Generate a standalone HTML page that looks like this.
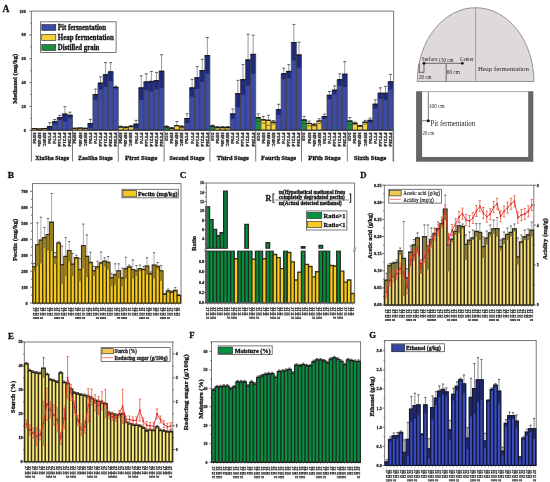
<!DOCTYPE html>
<html><head><meta charset="utf-8"><style>
html,body{margin:0;padding:0;background:#fff;width:550px;height:482px;overflow:hidden}
</style></head><body>
<svg width="550" height="482" viewBox="0 0 550 482" style="display:block;will-change:transform" font-family="Liberation Serif, serif" font-weight="bold" fill="#111">
<rect width="550" height="482" fill="#fff"/>
<text x="2.6" y="11.6" font-size="9.6" textLength="7" lengthAdjust="spacingAndGlyphs" stroke="#111" stroke-width="0.28">A</text>
<path fill="none" stroke="#6a6a6a" stroke-width="0.9" d="M31.4 11.1H393.6M31.4 11.1V161.5M393.6 11.1V161.5"/>
<path fill="none" stroke="#333" stroke-width="0.7" d="M31.4 130.2H29.3M31.4 106.4H29.3M31.4 82.6H29.3M31.4 58.8H29.3M31.4 35H29.3M31.4 11.2H29.3M31.4 118.3H30.3M31.4 94.5H30.3M31.4 70.7H30.3M31.4 46.9H30.3M31.4 23.1H30.3"/>
<text x="25.8" y="131.6" font-size="4.2" text-anchor="end" fill="#2a2a2a" textLength="2.1" lengthAdjust="spacingAndGlyphs" stroke="#2a2a2a" stroke-width="0.28">0</text>
<text x="25.8" y="107.8" font-size="4.2" text-anchor="end" fill="#2a2a2a" textLength="4.2" lengthAdjust="spacingAndGlyphs" stroke="#2a2a2a" stroke-width="0.28">20</text>
<text x="25.8" y="84" font-size="4.2" text-anchor="end" fill="#2a2a2a" textLength="4.2" lengthAdjust="spacingAndGlyphs" stroke="#2a2a2a" stroke-width="0.28">40</text>
<text x="25.8" y="60.2" font-size="4.2" text-anchor="end" fill="#2a2a2a" textLength="4.2" lengthAdjust="spacingAndGlyphs" stroke="#2a2a2a" stroke-width="0.28">60</text>
<text x="25.8" y="36.4" font-size="4.2" text-anchor="end" fill="#2a2a2a" textLength="4.2" lengthAdjust="spacingAndGlyphs" stroke="#2a2a2a" stroke-width="0.28">80</text>
<text x="25.8" y="12.6" font-size="4.2" text-anchor="end" fill="#2a2a2a" textLength="6.3" lengthAdjust="spacingAndGlyphs" stroke="#2a2a2a" stroke-width="0.28">100</text>
<text x="17" y="78.8" font-size="6.6" text-anchor="middle" transform="rotate(-90 17 78.8)" textLength="50" lengthAdjust="spacingAndGlyphs" stroke="#111" stroke-width="0.28">Methanol (mg/kg)</text>
<rect x="40.6" y="21.8" width="75.5" height="30.7" fill="#fff" stroke="#555" stroke-width=".8"/>
<rect x="41.8" y="24.6" width="14" height="5.8" fill="#3b4ba6" stroke="#222" stroke-width=".6"/>
<text x="57.8" y="29.7" font-size="7.2" textLength="48.3" lengthAdjust="spacingAndGlyphs" stroke="#111" stroke-width="0.28">Pit fermentation</text>
<rect x="41.8" y="34.6" width="14" height="5.8" fill="#f4d23c" stroke="#222" stroke-width=".6"/>
<text x="57.8" y="39.7" font-size="7.2" textLength="56" lengthAdjust="spacingAndGlyphs" stroke="#111" stroke-width="0.28">Heap fermentation</text>
<rect x="41.8" y="44.6" width="14" height="5.8" fill="#1c8d40" stroke="#222" stroke-width=".6"/>
<text x="57.8" y="49.7" font-size="7.2" textLength="41.6" lengthAdjust="spacingAndGlyphs" stroke="#111" stroke-width="0.28">Distilled grain</text>
<path fill="#f4d23c" stroke="#4a4444" stroke-width="0.7" d="M31.8 128.53h5.09v1.67h-5.09zM36.89 129.01h5.09v1.19h-5.09zM41.98 128.53h5.09v1.67h-5.09zM72.51 128.3h5.09v1.9h-5.09zM77.6 128.06h5.09v2.14h-5.09zM82.69 128.3h5.09v1.9h-5.09zM118.31 126.87h5.09v3.33h-5.09zM123.4 127.34h5.09v2.86h-5.09zM128.49 126.39h5.09v3.81h-5.09zM169.2 128.18h5.09v2.02h-5.09zM174.28 125.68h5.09v4.52h-5.09zM179.37 126.87h5.09v3.33h-5.09zM214.99 127.34h5.09v2.86h-5.09zM220.08 127.34h5.09v2.86h-5.09zM225.17 127.34h5.09v2.86h-5.09zM260.79 119.85h5.09v10.35h-5.09zM265.88 120.32h5.09v9.88h-5.09zM270.97 122.23h5.09v7.97h-5.09zM306.59 123.42h5.09v6.78h-5.09zM311.68 124.84h5.09v5.36h-5.09zM316.77 121.04h5.09v9.16h-5.09zM352.39 123.3h5.09v6.9h-5.09zM357.48 125.92h5.09v4.28h-5.09zM362.57 122.23h5.09v7.97h-5.09z"/>
<path fill="#3b4ba6" stroke="#4a4444" stroke-width="0.7" d="M47.07 126.63h5.09v3.57h-5.09zM52.15 121.87h5.09v8.33h-5.09zM57.24 117.7h5.09v12.5h-5.09zM62.33 114.13h5.09v16.06h-5.09zM67.42 115.32h5.09v14.88h-5.09zM87.78 123.65h5.09v6.55h-5.09zM92.86 94.5h5.09v35.7h-5.09zM97.95 83.19h5.09v47h-5.09zM103.04 74.86h5.09v55.34h-5.09zM108.13 71.89h5.09v58.31h-5.09zM113.22 87.36h5.09v42.84h-5.09zM133.57 124.25h5.09v5.95h-5.09zM138.66 87.95h5.09v42.25h-5.09zM143.75 82h5.09v48.19h-5.09zM148.84 81.41h5.09v48.79h-5.09zM153.93 80.81h5.09v49.38h-5.09zM159.02 71.29h5.09v58.91h-5.09zM184.46 118.54h5.09v11.66h-5.09zM189.55 87.95h5.09v42.25h-5.09zM194.64 77.84h5.09v52.36h-5.09zM199.73 70.7h5.09v59.5h-5.09zM204.82 55.59h5.09v74.61h-5.09zM230.26 114.02h5.09v16.18h-5.09zM235.35 93.79h5.09v36.41h-5.09zM240.44 79.74h5.09v50.46h-5.09zM245.53 59.99h5.09v70.21h-5.09zM250.62 54.4h5.09v75.8h-5.09zM276.06 109.61h5.09v20.59h-5.09zM281.15 73.79h5.09v56.41h-5.09zM286.24 71.41h5.09v58.79h-5.09zM291.33 42.5h5.09v87.7h-5.09zM296.41 54.99h5.09v75.21h-5.09zM321.86 116.51h5.09v13.69h-5.09zM326.95 95.33h5.09v34.87h-5.09zM332.04 90.22h5.09v39.98h-5.09zM337.12 79.74h5.09v50.46h-5.09zM342.21 74.27h5.09v55.93h-5.09zM367.66 120.32h5.09v9.88h-5.09zM372.75 104.26h5.09v25.94h-5.09zM377.83 93.31h5.09v36.89h-5.09zM382.92 93.31h5.09v36.89h-5.09zM388.01 81.89h5.09v48.31h-5.09z"/>
<path fill="#1c8d40" stroke="#4a4444" stroke-width="0.7" d="M164.11 126.87h5.09v3.33h-5.09zM209.91 126.15h5.09v4.05h-5.09zM255.7 117.7h5.09v12.5h-5.09zM301.5 119.97h5.09v10.23h-5.09zM347.3 121.04h5.09v9.16h-5.09z"/>
<path fill="none" stroke="#6e6e6e" stroke-width="0.7" d="M49.61 126.63V122.7M54.7 121.87V119.49M59.79 117.7V115.32M64.88 114.13V106.64M69.97 115.32V112.23M90.32 123.65V119.37M95.41 94.5V89.14M100.5 83.19V76.89M105.59 74.86V62.61M110.68 71.89V62.61M115.76 87.36V86.17M120.85 126.87V126.15M125.94 127.34V126.63M131.03 126.39V125.68M136.12 124.25V120.32M141.21 87.95V75.82M146.3 82V73.79M151.39 81.41V71.41M156.47 80.81V72.37M161.56 71.29V54.75M166.65 126.87V125.92M171.74 128.18V127.7M176.83 125.68V121.51M181.92 126.87V125.68M187.01 118.54V113.78M192.1 87.95V79.27M197.18 77.84V66.65M202.27 70.7V59.28M207.36 55.59V37.5M212.45 126.15V125.2M217.54 127.34V126.63M222.63 127.34V126.63M227.72 127.34V126.63M232.8 114.02V109.02M237.89 93.79V80.34M242.98 79.74V64.63M248.07 59.99V34.29M253.16 54.4V35.12M258.25 117.7V113.9M263.34 119.85V116.51M268.43 120.32V115.32M273.51 122.23V120.56M278.6 109.61V104.26M283.69 73.79V68.32M288.78 71.41V64.63M293.87 42.5V24.41M298.96 54.99V42.14M304.05 119.97V116.4M309.14 123.42V121.04M314.22 124.84V123.65M319.31 121.04V118.66M324.4 116.51V114.13M329.49 95.33V91.52M334.58 90.22V85.93M339.67 79.74V73.79M344.76 74.27V61.66M349.85 121.04V117.47M354.93 123.3V122.11M360.02 125.92V125.32M365.11 122.23V120.44M370.2 120.32V118.06M375.29 104.26V99.85M380.38 93.31V87.84M385.47 93.31V86.41M390.56 81.89V74.39"/>
<path fill="none" stroke="#222" stroke-width="0.7" d="M48.11 122.7H51.11M53.2 119.49H56.2M58.29 115.32H61.29M63.38 106.64H66.38M68.47 112.23H71.47M88.82 119.37H91.82M93.91 89.14H96.91M99 76.89H102M104.09 62.61H107.09M109.18 62.61H112.18M114.26 86.17H117.26M119.35 126.15H122.35M124.44 126.63H127.44M129.53 125.68H132.53M134.62 120.32H137.62M139.71 75.82H142.71M144.8 73.79H147.8M149.89 71.41H152.89M154.97 72.37H157.97M160.06 54.75H163.06M165.15 125.92H168.15M170.24 127.7H173.24M175.33 121.51H178.33M180.42 125.68H183.42M185.51 113.78H188.51M190.6 79.27H193.6M195.68 66.65H198.68M200.77 59.28H203.77M205.86 37.5H208.86M210.95 125.2H213.95M216.04 126.63H219.04M221.13 126.63H224.13M226.22 126.63H229.22M231.3 109.02H234.3M236.39 80.34H239.39M241.48 64.63H244.48M246.57 34.29H249.57M251.66 35.12H254.66M256.75 113.9H259.75M261.84 116.51H264.84M266.93 115.32H269.93M272.01 120.56H275.01M277.1 104.26H280.1M282.19 68.32H285.19M287.28 64.63H290.28M292.37 24.41H295.37M297.46 42.14H300.46M302.55 116.4H305.55M307.64 121.04H310.64M312.72 123.65H315.72M317.81 118.66H320.81M322.9 114.13H325.9M327.99 91.52H330.99M333.08 85.93H336.08M338.17 73.79H341.17M343.26 61.66H346.26M348.35 117.47H351.35M353.43 122.11H356.43M358.52 125.32H361.52M363.61 120.44H366.61M368.7 118.06H371.7M373.79 99.85H376.79M378.88 87.84H381.88M383.97 86.41H386.97M389.06 74.39H392.06"/>
<path fill="none" stroke="#1a1a1a" stroke-width="0.8" d="M31.8 128.53H36.89M36.89 129.01H41.98M41.98 128.53H47.07M47.07 126.63H52.15M52.15 121.87H57.24M57.24 117.7H62.33M62.33 114.13H67.42M67.42 115.32H72.51M72.51 128.3H77.6M77.6 128.06H82.69M82.69 128.3H87.78M87.78 123.65H92.86M92.86 94.5H97.95M97.95 83.19H103.04M103.04 74.86H108.13M108.13 71.89H113.22M113.22 87.36H118.31M118.31 126.87H123.4M123.4 127.34H128.49M128.49 126.39H133.57M133.57 124.25H138.66M138.66 87.95H143.75M143.75 82H148.84M148.84 81.41H153.93M153.93 80.81H159.02M159.02 71.29H164.11M164.11 126.87H169.2M169.2 128.18H174.28M174.28 125.68H179.37M179.37 126.87H184.46M184.46 118.54H189.55M189.55 87.95H194.64M194.64 77.84H199.73M199.73 70.7H204.82M204.82 55.59H209.91M209.91 126.15H214.99M214.99 127.34H220.08M220.08 127.34H225.17M225.17 127.34H230.26M230.26 114.02H235.35M235.35 93.79H240.44M240.44 79.74H245.53M245.53 59.99H250.62M250.62 54.4H255.7M255.7 117.7H260.79M260.79 119.85H265.88M265.88 120.32H270.97M270.97 122.23H276.06M276.06 109.61H281.15M281.15 73.79H286.24M286.24 71.41H291.33M291.33 42.5H296.41M296.41 54.99H301.5M301.5 119.97H306.59M306.59 123.42H311.68M311.68 124.84H316.77M316.77 121.04H321.86M321.86 116.51H326.95M326.95 95.33H332.04M332.04 90.22H337.12M337.12 79.74H342.21M342.21 74.27H347.3M347.3 121.04H352.39M352.39 123.3H357.48M357.48 125.92H362.57M362.57 122.23H367.66M367.66 120.32H372.75M372.75 104.26H377.83M377.83 93.31H382.92M382.92 93.31H388.01M388.01 81.89H393.1"/>
<path fill="none" stroke="#333" stroke-width="0.6" d="M119.11 127.58H122.6M124.2 128.06H127.69M129.29 127.11H132.77M164.91 127.82H168.4M170 128.65H173.48M175.08 129.84H178.57M180.17 128.06H183.66M210.71 127.11H214.19M215.79 128.06H219.28M220.88 128.06H224.37M225.97 128.06H229.46M256.5 121.51H259.99M261.59 123.18H265.08M266.68 125.32H270.17M271.77 123.89H275.26M302.3 123.54H305.79M307.39 125.8H310.88M312.48 126.03H315.97M317.57 123.42H321.06M348.1 124.61H351.59M353.19 124.49H356.68M358.28 126.51H361.77M363.37 124.01H366.86"/>
<path fill="#1f2b78" d="M47.47 126.63h4.29v3.57h-4.29zM52.55 121.87h4.29v2.38h-4.29zM57.64 117.7h4.29v2.38h-4.29zM62.73 114.13h4.29v7.5h-4.29zM67.82 115.32h4.29v3.09h-4.29zM88.18 123.65h4.29v4.28h-4.29zM93.26 94.5h4.29v5.35h-4.29zM98.35 83.19h4.29v6.31h-4.29zM103.44 74.86h4.29v12.26h-4.29zM108.53 71.89h4.29v9.28h-4.29zM113.62 87.36h4.29v1.19h-4.29zM133.97 124.25h4.29v3.93h-4.29zM139.06 87.95h4.29v12.14h-4.29zM144.15 82h4.29v8.21h-4.29zM149.24 81.41h4.29v10h-4.29zM154.33 80.81h4.29v8.45h-4.29zM159.42 71.29h4.29v16.54h-4.29zM184.86 118.54h4.29v4.76h-4.29zM189.95 87.95h4.29v8.69h-4.29zM195.04 77.84h4.29v11.19h-4.29zM200.13 70.7h4.29v11.42h-4.29zM205.22 55.59h4.29v18.09h-4.29zM230.66 114.02h4.29v5h-4.29zM235.75 93.79h4.29v13.45h-4.29zM240.84 79.74h4.29v15.11h-4.29zM245.93 59.99h4.29v25.7h-4.29zM251.02 54.4h4.29v19.28h-4.29zM276.46 109.61h4.29v5.35h-4.29zM281.55 73.79h4.29v5.47h-4.29zM286.64 71.41h4.29v6.78h-4.29zM291.73 42.5h4.29v18.09h-4.29zM296.81 54.99h4.29v12.85h-4.29zM322.26 116.51h4.29v2.38h-4.29zM327.35 95.33h4.29v3.81h-4.29zM332.44 90.22h4.29v4.28h-4.29zM337.52 79.74h4.29v5.95h-4.29zM342.61 74.27h4.29v12.61h-4.29zM368.06 120.32h4.29v2.26h-4.29zM373.15 104.26h4.29v4.4h-4.29zM378.23 93.31h4.29v5.47h-4.29zM383.32 93.31h4.29v6.9h-4.29zM388.41 81.89h4.29v7.5h-4.29z"/>
<path fill="none" stroke="#111" stroke-width="0.8" d="M31.8 128.53H36.89M36.89 129.01H41.98M41.98 128.53H47.07M47.07 126.63H52.15M52.15 121.87H57.24M57.24 117.7H62.33M62.33 114.13H67.42M67.42 115.32H72.51M72.51 128.3H77.6M77.6 128.06H82.69M82.69 128.3H87.78M87.78 123.65H92.86M92.86 94.5H97.95M97.95 83.19H103.04M103.04 74.86H108.13M108.13 71.89H113.22M113.22 87.36H118.31M118.31 126.87H123.4M123.4 127.34H128.49M128.49 126.39H133.57M133.57 124.25H138.66M138.66 87.95H143.75M143.75 82H148.84M148.84 81.41H153.93M153.93 80.81H159.02M159.02 71.29H164.11M164.11 126.87H169.2M169.2 128.18H174.28M174.28 125.68H179.37M179.37 126.87H184.46M184.46 118.54H189.55M189.55 87.95H194.64M194.64 77.84H199.73M199.73 70.7H204.82M204.82 55.59H209.91M209.91 126.15H214.99M214.99 127.34H220.08M220.08 127.34H225.17M225.17 127.34H230.26M230.26 114.02H235.35M235.35 93.79H240.44M240.44 79.74H245.53M245.53 59.99H250.62M250.62 54.4H255.7M255.7 117.7H260.79M260.79 119.85H265.88M265.88 120.32H270.97M270.97 122.23H276.06M276.06 109.61H281.15M281.15 73.79H286.24M286.24 71.41H291.33M291.33 42.5H296.41M296.41 54.99H301.5M301.5 119.97H306.59M306.59 123.42H311.68M311.68 124.84H316.77M316.77 121.04H321.86M321.86 116.51H326.95M326.95 95.33H332.04M332.04 90.22H337.12M337.12 79.74H342.21M342.21 74.27H347.3M347.3 121.04H352.39M352.39 123.3H357.48M357.48 125.92H362.57M362.57 122.23H367.66M367.66 120.32H372.75M372.75 104.26H377.83M377.83 93.31H382.92M382.92 93.31H388.01M388.01 81.89H393.1"/>
<path fill="none" stroke="#222" stroke-width="0.9" d="M31.4 130.2H393.6"/>
<text x="32.74" y="132.4" font-size="4.8" fill="#2a2a2a" transform="rotate(90 32.74 132.4)" textLength="11.2" lengthAdjust="spacingAndGlyphs" stroke="#2a2a2a" stroke-width="0.28">HF0d</text>
<text x="37.83" y="132.4" font-size="4.8" fill="#2a2a2a" transform="rotate(90 37.83 132.4)" textLength="14" lengthAdjust="spacingAndGlyphs" stroke="#2a2a2a" stroke-width="0.28">HF40s</text>
<text x="42.92" y="132.4" font-size="4.8" fill="#2a2a2a" transform="rotate(90 42.92 132.4)" textLength="14" lengthAdjust="spacingAndGlyphs" stroke="#2a2a2a" stroke-width="0.28">HF40C</text>
<text x="48.01" y="132.4" font-size="4.8" fill="#2a2a2a" transform="rotate(90 48.01 132.4)" textLength="11.2" lengthAdjust="spacingAndGlyphs" stroke="#2a2a2a" stroke-width="0.28">PT0d</text>
<text x="53.1" y="132.4" font-size="4.8" fill="#2a2a2a" transform="rotate(90 53.1 132.4)" textLength="11.2" lengthAdjust="spacingAndGlyphs" stroke="#2a2a2a" stroke-width="0.28">PT7d</text>
<text x="58.19" y="132.4" font-size="4.8" fill="#2a2a2a" transform="rotate(90 58.19 132.4)" textLength="14" lengthAdjust="spacingAndGlyphs" stroke="#2a2a2a" stroke-width="0.28">PT14d</text>
<text x="63.28" y="132.4" font-size="4.8" fill="#2a2a2a" transform="rotate(90 63.28 132.4)" textLength="14" lengthAdjust="spacingAndGlyphs" stroke="#2a2a2a" stroke-width="0.28">PT21d</text>
<text x="68.37" y="132.4" font-size="4.8" fill="#2a2a2a" transform="rotate(90 68.37 132.4)" textLength="14" lengthAdjust="spacingAndGlyphs" stroke="#2a2a2a" stroke-width="0.28">PT28d</text>
<text x="73.45" y="132.4" font-size="4.8" fill="#2a2a2a" transform="rotate(90 73.45 132.4)" textLength="11.2" lengthAdjust="spacingAndGlyphs" stroke="#2a2a2a" stroke-width="0.28">HF0d</text>
<text x="78.54" y="132.4" font-size="4.8" fill="#2a2a2a" transform="rotate(90 78.54 132.4)" textLength="14" lengthAdjust="spacingAndGlyphs" stroke="#2a2a2a" stroke-width="0.28">HF40s</text>
<text x="83.63" y="132.4" font-size="4.8" fill="#2a2a2a" transform="rotate(90 83.63 132.4)" textLength="14" lengthAdjust="spacingAndGlyphs" stroke="#2a2a2a" stroke-width="0.28">HF40C</text>
<text x="88.72" y="132.4" font-size="4.8" fill="#2a2a2a" transform="rotate(90 88.72 132.4)" textLength="11.2" lengthAdjust="spacingAndGlyphs" stroke="#2a2a2a" stroke-width="0.28">PT0d</text>
<text x="93.81" y="132.4" font-size="4.8" fill="#2a2a2a" transform="rotate(90 93.81 132.4)" textLength="11.2" lengthAdjust="spacingAndGlyphs" stroke="#2a2a2a" stroke-width="0.28">PT7d</text>
<text x="98.9" y="132.4" font-size="4.8" fill="#2a2a2a" transform="rotate(90 98.9 132.4)" textLength="14" lengthAdjust="spacingAndGlyphs" stroke="#2a2a2a" stroke-width="0.28">PT14d</text>
<text x="103.99" y="132.4" font-size="4.8" fill="#2a2a2a" transform="rotate(90 103.99 132.4)" textLength="14" lengthAdjust="spacingAndGlyphs" stroke="#2a2a2a" stroke-width="0.28">PT21d</text>
<text x="109.08" y="132.4" font-size="4.8" fill="#2a2a2a" transform="rotate(90 109.08 132.4)" textLength="14" lengthAdjust="spacingAndGlyphs" stroke="#2a2a2a" stroke-width="0.28">PT28d</text>
<text x="114.16" y="132.4" font-size="4.8" fill="#2a2a2a" transform="rotate(90 114.16 132.4)" textLength="14" lengthAdjust="spacingAndGlyphs" stroke="#2a2a2a" stroke-width="0.28">PT36d</text>
<text x="119.25" y="132.4" font-size="4.8" fill="#2a2a2a" transform="rotate(90 119.25 132.4)" textLength="11.2" lengthAdjust="spacingAndGlyphs" stroke="#2a2a2a" stroke-width="0.28">HF0d</text>
<text x="124.34" y="132.4" font-size="4.8" fill="#2a2a2a" transform="rotate(90 124.34 132.4)" textLength="14" lengthAdjust="spacingAndGlyphs" stroke="#2a2a2a" stroke-width="0.28">HF40s</text>
<text x="129.43" y="132.4" font-size="4.8" fill="#2a2a2a" transform="rotate(90 129.43 132.4)" textLength="14" lengthAdjust="spacingAndGlyphs" stroke="#2a2a2a" stroke-width="0.28">HF40C</text>
<text x="134.52" y="132.4" font-size="4.8" fill="#2a2a2a" transform="rotate(90 134.52 132.4)" textLength="11.2" lengthAdjust="spacingAndGlyphs" stroke="#2a2a2a" stroke-width="0.28">PT0d</text>
<text x="139.61" y="132.4" font-size="4.8" fill="#2a2a2a" transform="rotate(90 139.61 132.4)" textLength="11.2" lengthAdjust="spacingAndGlyphs" stroke="#2a2a2a" stroke-width="0.28">PT7d</text>
<text x="144.7" y="132.4" font-size="4.8" fill="#2a2a2a" transform="rotate(90 144.7 132.4)" textLength="14" lengthAdjust="spacingAndGlyphs" stroke="#2a2a2a" stroke-width="0.28">PT14d</text>
<text x="149.79" y="132.4" font-size="4.8" fill="#2a2a2a" transform="rotate(90 149.79 132.4)" textLength="14" lengthAdjust="spacingAndGlyphs" stroke="#2a2a2a" stroke-width="0.28">PT21d</text>
<text x="154.87" y="132.4" font-size="4.8" fill="#2a2a2a" transform="rotate(90 154.87 132.4)" textLength="14" lengthAdjust="spacingAndGlyphs" stroke="#2a2a2a" stroke-width="0.28">PT28d</text>
<text x="159.96" y="132.4" font-size="4.8" fill="#2a2a2a" transform="rotate(90 159.96 132.4)" textLength="14" lengthAdjust="spacingAndGlyphs" stroke="#2a2a2a" stroke-width="0.28">PT36d</text>
<text x="165.05" y="132.4" font-size="4.8" fill="#2a2a2a" transform="rotate(90 165.05 132.4)" textLength="8.4" lengthAdjust="spacingAndGlyphs" stroke="#2a2a2a" stroke-width="0.28">DG0</text>
<text x="170.14" y="132.4" font-size="4.8" fill="#2a2a2a" transform="rotate(90 170.14 132.4)" textLength="11.2" lengthAdjust="spacingAndGlyphs" stroke="#2a2a2a" stroke-width="0.28">HF0d</text>
<text x="175.23" y="132.4" font-size="4.8" fill="#2a2a2a" transform="rotate(90 175.23 132.4)" textLength="14" lengthAdjust="spacingAndGlyphs" stroke="#2a2a2a" stroke-width="0.28">HF40s</text>
<text x="180.32" y="132.4" font-size="4.8" fill="#2a2a2a" transform="rotate(90 180.32 132.4)" textLength="14" lengthAdjust="spacingAndGlyphs" stroke="#2a2a2a" stroke-width="0.28">HF40C</text>
<text x="185.41" y="132.4" font-size="4.8" fill="#2a2a2a" transform="rotate(90 185.41 132.4)" textLength="11.2" lengthAdjust="spacingAndGlyphs" stroke="#2a2a2a" stroke-width="0.28">PT0d</text>
<text x="190.5" y="132.4" font-size="4.8" fill="#2a2a2a" transform="rotate(90 190.5 132.4)" textLength="11.2" lengthAdjust="spacingAndGlyphs" stroke="#2a2a2a" stroke-width="0.28">PT7d</text>
<text x="195.58" y="132.4" font-size="4.8" fill="#2a2a2a" transform="rotate(90 195.58 132.4)" textLength="14" lengthAdjust="spacingAndGlyphs" stroke="#2a2a2a" stroke-width="0.28">PT14d</text>
<text x="200.67" y="132.4" font-size="4.8" fill="#2a2a2a" transform="rotate(90 200.67 132.4)" textLength="14" lengthAdjust="spacingAndGlyphs" stroke="#2a2a2a" stroke-width="0.28">PT21d</text>
<text x="205.76" y="132.4" font-size="4.8" fill="#2a2a2a" transform="rotate(90 205.76 132.4)" textLength="14" lengthAdjust="spacingAndGlyphs" stroke="#2a2a2a" stroke-width="0.28">PT28d</text>
<text x="210.85" y="132.4" font-size="4.8" fill="#2a2a2a" transform="rotate(90 210.85 132.4)" textLength="8.4" lengthAdjust="spacingAndGlyphs" stroke="#2a2a2a" stroke-width="0.28">DG0</text>
<text x="215.94" y="132.4" font-size="4.8" fill="#2a2a2a" transform="rotate(90 215.94 132.4)" textLength="11.2" lengthAdjust="spacingAndGlyphs" stroke="#2a2a2a" stroke-width="0.28">HF0d</text>
<text x="221.03" y="132.4" font-size="4.8" fill="#2a2a2a" transform="rotate(90 221.03 132.4)" textLength="14" lengthAdjust="spacingAndGlyphs" stroke="#2a2a2a" stroke-width="0.28">HF40s</text>
<text x="226.12" y="132.4" font-size="4.8" fill="#2a2a2a" transform="rotate(90 226.12 132.4)" textLength="14" lengthAdjust="spacingAndGlyphs" stroke="#2a2a2a" stroke-width="0.28">HF40C</text>
<text x="231.2" y="132.4" font-size="4.8" fill="#2a2a2a" transform="rotate(90 231.2 132.4)" textLength="11.2" lengthAdjust="spacingAndGlyphs" stroke="#2a2a2a" stroke-width="0.28">PT0d</text>
<text x="236.29" y="132.4" font-size="4.8" fill="#2a2a2a" transform="rotate(90 236.29 132.4)" textLength="11.2" lengthAdjust="spacingAndGlyphs" stroke="#2a2a2a" stroke-width="0.28">PT7d</text>
<text x="241.38" y="132.4" font-size="4.8" fill="#2a2a2a" transform="rotate(90 241.38 132.4)" textLength="14" lengthAdjust="spacingAndGlyphs" stroke="#2a2a2a" stroke-width="0.28">PT14d</text>
<text x="246.47" y="132.4" font-size="4.8" fill="#2a2a2a" transform="rotate(90 246.47 132.4)" textLength="14" lengthAdjust="spacingAndGlyphs" stroke="#2a2a2a" stroke-width="0.28">PT21d</text>
<text x="251.56" y="132.4" font-size="4.8" fill="#2a2a2a" transform="rotate(90 251.56 132.4)" textLength="14" lengthAdjust="spacingAndGlyphs" stroke="#2a2a2a" stroke-width="0.28">PT28d</text>
<text x="256.65" y="132.4" font-size="4.8" fill="#2a2a2a" transform="rotate(90 256.65 132.4)" textLength="8.4" lengthAdjust="spacingAndGlyphs" stroke="#2a2a2a" stroke-width="0.28">DG0</text>
<text x="261.74" y="132.4" font-size="4.8" fill="#2a2a2a" transform="rotate(90 261.74 132.4)" textLength="11.2" lengthAdjust="spacingAndGlyphs" stroke="#2a2a2a" stroke-width="0.28">HF0d</text>
<text x="266.83" y="132.4" font-size="4.8" fill="#2a2a2a" transform="rotate(90 266.83 132.4)" textLength="14" lengthAdjust="spacingAndGlyphs" stroke="#2a2a2a" stroke-width="0.28">HF40s</text>
<text x="271.91" y="132.4" font-size="4.8" fill="#2a2a2a" transform="rotate(90 271.91 132.4)" textLength="14" lengthAdjust="spacingAndGlyphs" stroke="#2a2a2a" stroke-width="0.28">HF40C</text>
<text x="277" y="132.4" font-size="4.8" fill="#2a2a2a" transform="rotate(90 277 132.4)" textLength="11.2" lengthAdjust="spacingAndGlyphs" stroke="#2a2a2a" stroke-width="0.28">PT0d</text>
<text x="282.09" y="132.4" font-size="4.8" fill="#2a2a2a" transform="rotate(90 282.09 132.4)" textLength="11.2" lengthAdjust="spacingAndGlyphs" stroke="#2a2a2a" stroke-width="0.28">PT7d</text>
<text x="287.18" y="132.4" font-size="4.8" fill="#2a2a2a" transform="rotate(90 287.18 132.4)" textLength="14" lengthAdjust="spacingAndGlyphs" stroke="#2a2a2a" stroke-width="0.28">PT14d</text>
<text x="292.27" y="132.4" font-size="4.8" fill="#2a2a2a" transform="rotate(90 292.27 132.4)" textLength="14" lengthAdjust="spacingAndGlyphs" stroke="#2a2a2a" stroke-width="0.28">PT21d</text>
<text x="297.36" y="132.4" font-size="4.8" fill="#2a2a2a" transform="rotate(90 297.36 132.4)" textLength="14" lengthAdjust="spacingAndGlyphs" stroke="#2a2a2a" stroke-width="0.28">PT28d</text>
<text x="302.45" y="132.4" font-size="4.8" fill="#2a2a2a" transform="rotate(90 302.45 132.4)" textLength="8.4" lengthAdjust="spacingAndGlyphs" stroke="#2a2a2a" stroke-width="0.28">DG0</text>
<text x="307.54" y="132.4" font-size="4.8" fill="#2a2a2a" transform="rotate(90 307.54 132.4)" textLength="11.2" lengthAdjust="spacingAndGlyphs" stroke="#2a2a2a" stroke-width="0.28">HF0d</text>
<text x="312.62" y="132.4" font-size="4.8" fill="#2a2a2a" transform="rotate(90 312.62 132.4)" textLength="14" lengthAdjust="spacingAndGlyphs" stroke="#2a2a2a" stroke-width="0.28">HF40s</text>
<text x="317.71" y="132.4" font-size="4.8" fill="#2a2a2a" transform="rotate(90 317.71 132.4)" textLength="14" lengthAdjust="spacingAndGlyphs" stroke="#2a2a2a" stroke-width="0.28">HF40C</text>
<text x="322.8" y="132.4" font-size="4.8" fill="#2a2a2a" transform="rotate(90 322.8 132.4)" textLength="11.2" lengthAdjust="spacingAndGlyphs" stroke="#2a2a2a" stroke-width="0.28">PT0d</text>
<text x="327.89" y="132.4" font-size="4.8" fill="#2a2a2a" transform="rotate(90 327.89 132.4)" textLength="11.2" lengthAdjust="spacingAndGlyphs" stroke="#2a2a2a" stroke-width="0.28">PT7d</text>
<text x="332.98" y="132.4" font-size="4.8" fill="#2a2a2a" transform="rotate(90 332.98 132.4)" textLength="14" lengthAdjust="spacingAndGlyphs" stroke="#2a2a2a" stroke-width="0.28">PT14d</text>
<text x="338.07" y="132.4" font-size="4.8" fill="#2a2a2a" transform="rotate(90 338.07 132.4)" textLength="14" lengthAdjust="spacingAndGlyphs" stroke="#2a2a2a" stroke-width="0.28">PT21d</text>
<text x="343.16" y="132.4" font-size="4.8" fill="#2a2a2a" transform="rotate(90 343.16 132.4)" textLength="14" lengthAdjust="spacingAndGlyphs" stroke="#2a2a2a" stroke-width="0.28">PT28d</text>
<text x="348.25" y="132.4" font-size="4.8" fill="#2a2a2a" transform="rotate(90 348.25 132.4)" textLength="8.4" lengthAdjust="spacingAndGlyphs" stroke="#2a2a2a" stroke-width="0.28">DG0</text>
<text x="353.33" y="132.4" font-size="4.8" fill="#2a2a2a" transform="rotate(90 353.33 132.4)" textLength="11.2" lengthAdjust="spacingAndGlyphs" stroke="#2a2a2a" stroke-width="0.28">HF0d</text>
<text x="358.42" y="132.4" font-size="4.8" fill="#2a2a2a" transform="rotate(90 358.42 132.4)" textLength="14" lengthAdjust="spacingAndGlyphs" stroke="#2a2a2a" stroke-width="0.28">HF40s</text>
<text x="363.51" y="132.4" font-size="4.8" fill="#2a2a2a" transform="rotate(90 363.51 132.4)" textLength="14" lengthAdjust="spacingAndGlyphs" stroke="#2a2a2a" stroke-width="0.28">HF40C</text>
<text x="368.6" y="132.4" font-size="4.8" fill="#2a2a2a" transform="rotate(90 368.6 132.4)" textLength="11.2" lengthAdjust="spacingAndGlyphs" stroke="#2a2a2a" stroke-width="0.28">PT0d</text>
<text x="373.69" y="132.4" font-size="4.8" fill="#2a2a2a" transform="rotate(90 373.69 132.4)" textLength="11.2" lengthAdjust="spacingAndGlyphs" stroke="#2a2a2a" stroke-width="0.28">PT7d</text>
<text x="378.78" y="132.4" font-size="4.8" fill="#2a2a2a" transform="rotate(90 378.78 132.4)" textLength="14" lengthAdjust="spacingAndGlyphs" stroke="#2a2a2a" stroke-width="0.28">PT14d</text>
<text x="383.87" y="132.4" font-size="4.8" fill="#2a2a2a" transform="rotate(90 383.87 132.4)" textLength="14" lengthAdjust="spacingAndGlyphs" stroke="#2a2a2a" stroke-width="0.28">PT21d</text>
<text x="388.96" y="132.4" font-size="4.8" fill="#2a2a2a" transform="rotate(90 388.96 132.4)" textLength="14" lengthAdjust="spacingAndGlyphs" stroke="#2a2a2a" stroke-width="0.28">PT28d</text>
<path fill="none" stroke="#6a6a6a" stroke-width="0.9" d="M72.51 130.2V161.5M118.31 130.2V161.5M164.11 130.2V161.5M209.91 130.2V161.5M255.7 130.2V161.5M301.5 130.2V161.5M347.3 130.2V161.5M393.1 130.2V161.5"/>
<text x="52.15" y="160.3" font-size="6.0" text-anchor="middle" textLength="33.8" lengthAdjust="spacingAndGlyphs" stroke="#111" stroke-width="0.28">XiaSha Stage</text>
<text x="95.41" y="160.3" font-size="6.0" text-anchor="middle" textLength="34.6" lengthAdjust="spacingAndGlyphs" stroke="#111" stroke-width="0.28">ZaoSha Stage</text>
<text x="141.21" y="160.3" font-size="6.0" text-anchor="middle" textLength="32.25" lengthAdjust="spacingAndGlyphs" stroke="#111" stroke-width="0.28">First Stage</text>
<text x="187.01" y="160.3" font-size="6.0" text-anchor="middle" textLength="35" lengthAdjust="spacingAndGlyphs" stroke="#111" stroke-width="0.28">Second Stage</text>
<text x="232.8" y="160.3" font-size="6.0" text-anchor="middle" textLength="32.25" lengthAdjust="spacingAndGlyphs" stroke="#111" stroke-width="0.28">Third Stage</text>
<text x="278.6" y="160.3" font-size="6.0" text-anchor="middle" textLength="35" lengthAdjust="spacingAndGlyphs" stroke="#111" stroke-width="0.28">Fourth Stage</text>
<text x="324.4" y="160.3" font-size="6.0" text-anchor="middle" textLength="32.25" lengthAdjust="spacingAndGlyphs" stroke="#111" stroke-width="0.28">Fifth Stage</text>
<text x="370.2" y="160.3" font-size="6.0" text-anchor="middle" textLength="32.25" lengthAdjust="spacingAndGlyphs" stroke="#111" stroke-width="0.28">Sixth Stage</text>
<path d="M417.3 81.5A58.3 73.8 0 0 1 533.9 81.5Z" fill="#dfd9da" stroke="#6e6e6e" stroke-width=".7"/>
<path fill="none" stroke="#777" stroke-width="0.6" d="M475.6 7.7V81.5"/>
<path fill="none" stroke="#1a1a1a" stroke-width="0.6" d="M424 63.3H462.3M446.2 64V81.3M419.2 63.5V72.5M418.8 72.3H424M424 63.5V72.5M428.3 92V120.5M422.1 120.8H428.3"/>
<circle cx="424" cy="63.3" r="1.4" fill="#111"/><circle cx="462.3" cy="63.3" r="1.4" fill="#111"/><circle cx="428.3" cy="120.8" r="1.5" fill="#111"/>
<text x="421.8" y="60.6" font-size="5.1" font-weight="normal" fill="#222" textLength="15.8" lengthAdjust="spacingAndGlyphs">Surface</text>
<text x="438.5" y="62" font-size="5.6" font-weight="normal" fill="#222" textLength="15" lengthAdjust="spacingAndGlyphs">150 cm</text>
<text x="460" y="60.6" font-size="5.1" font-weight="normal" fill="#222" textLength="13.8" lengthAdjust="spacingAndGlyphs">Center</text>
<text x="446.8" y="73.8" font-size="5.1" font-weight="normal" fill="#222" textLength="12.9" lengthAdjust="spacingAndGlyphs">60 cm</text>
<text x="419" y="79.4" font-size="5.6" font-weight="normal" fill="#222" textLength="12.5" lengthAdjust="spacingAndGlyphs">20 cm</text>
<text x="477.9" y="70.6" font-size="7.0" font-weight="normal" fill="#222" textLength="51" lengthAdjust="spacingAndGlyphs">Heap fermentation</text>
<path fill="#666" d="M416.1 91.3h6v70.4h-6zM528.2 91.3h5.1v70.4h-5.1zM416.1 157.1h117.2v4.6h-117.2z"/>
<path d="M422.1 91.6H528.2" stroke="#777" stroke-width=".6"/>
<text x="428.8" y="107.8" font-size="5.2" font-weight="normal" fill="#222" textLength="15.9" lengthAdjust="spacingAndGlyphs">100 cm</text>
<text x="430.6" y="126.4" font-size="7.2" font-weight="normal" fill="#1a1a1a" textLength="44.6" lengthAdjust="spacingAndGlyphs">Pit fermentation</text>
<text x="422.6" y="135" font-size="5.6" font-weight="normal" fill="#222" textLength="11.4" lengthAdjust="spacingAndGlyphs">20 cm</text>
<text x="7.8" y="177.9" font-size="9.2" textLength="6.3" lengthAdjust="spacingAndGlyphs" stroke="#111" stroke-width="0.28">B</text>
<rect x="32.5" y="183.6" width="148.5" height="119.5" fill="none" stroke="#6a6a6a" stroke-width="0.9"/>
<path fill="none" stroke="#333" stroke-width="0.7" d="M32.1 303.1H30M32.1 287.13H30M32.1 271.16H30M32.1 255.19H30M32.1 239.22H30M32.1 223.25H30M32.1 207.28H30M32.1 191.31H30M32.1 295.12H31M32.1 279.15H31M32.1 263.18H31M32.1 247.21H31M32.1 231.24H31M32.1 215.27H31M32.1 199.3H31"/>
<text x="27.8" y="304.5" font-size="4.2" text-anchor="end" fill="#2a2a2a" textLength="2.2" lengthAdjust="spacingAndGlyphs" stroke="#2a2a2a" stroke-width="0.28">0</text>
<text x="27.8" y="288.53" font-size="4.2" text-anchor="end" fill="#2a2a2a" textLength="6.6" lengthAdjust="spacingAndGlyphs" stroke="#2a2a2a" stroke-width="0.28">100</text>
<text x="27.8" y="272.56" font-size="4.2" text-anchor="end" fill="#2a2a2a" textLength="6.6" lengthAdjust="spacingAndGlyphs" stroke="#2a2a2a" stroke-width="0.28">200</text>
<text x="27.8" y="256.59" font-size="4.2" text-anchor="end" fill="#2a2a2a" textLength="6.6" lengthAdjust="spacingAndGlyphs" stroke="#2a2a2a" stroke-width="0.28">300</text>
<text x="27.8" y="240.62" font-size="4.2" text-anchor="end" fill="#2a2a2a" textLength="6.6" lengthAdjust="spacingAndGlyphs" stroke="#2a2a2a" stroke-width="0.28">400</text>
<text x="27.8" y="224.65" font-size="4.2" text-anchor="end" fill="#2a2a2a" textLength="6.6" lengthAdjust="spacingAndGlyphs" stroke="#2a2a2a" stroke-width="0.28">500</text>
<text x="27.8" y="208.68" font-size="4.2" text-anchor="end" fill="#2a2a2a" textLength="6.6" lengthAdjust="spacingAndGlyphs" stroke="#2a2a2a" stroke-width="0.28">600</text>
<text x="27.8" y="192.71" font-size="4.2" text-anchor="end" fill="#2a2a2a" textLength="6.6" lengthAdjust="spacingAndGlyphs" stroke="#2a2a2a" stroke-width="0.28">700</text>
<text x="17" y="239.9" font-size="6.8" text-anchor="middle" transform="rotate(-90 17 239.9)" textLength="42.4" lengthAdjust="spacingAndGlyphs" stroke="#111" stroke-width="0.28">Pectin (mg/kg)</text>
<path fill="#f7cc1c" stroke="#3b3110" stroke-width="1.35" d="M32.9 266.85h2.74v36.25h-2.74zM35.64 244.81h3.54v58.29h-3.54zM39.17 240.18h3.54v62.92h-3.54zM42.71 237.62h3.54v65.48h-3.54zM46.24 234.59h3.54v68.51h-3.54zM49.78 222.29h3.54v80.81h-3.54zM53.31 256.95h3.54v46.15h-3.54zM56.85 243.05h3.54v60.05h-3.54zM60.39 264.77h3.54v38.33h-3.54zM63.92 256.47h3.54v46.63h-3.54zM67.46 250.56h3.54v52.54h-3.54zM70.99 264.29h3.54v38.81h-3.54zM74.53 257.75h3.54v45.35h-3.54zM78.06 269.56h3.54v33.54h-3.54zM81.6 245.61h3.54v57.49h-3.54zM85.14 256.47h3.54v46.63h-3.54zM88.67 262.54h3.54v40.56h-3.54zM92.21 270.84h3.54v32.26h-3.54zM95.74 266.85h3.54v36.25h-3.54zM99.28 263.02h3.54v40.08h-3.54zM102.81 261.26h3.54v41.84h-3.54zM106.35 262.54h3.54v40.56h-3.54zM109.89 278.03h3.54v25.07h-3.54zM113.42 274.67h3.54v28.43h-3.54zM116.96 270.84h3.54v32.26h-3.54zM120.49 278.03h3.54v25.07h-3.54zM124.03 268.76h3.54v34.34h-3.54zM127.56 266.85h3.54v36.25h-3.54zM131.1 269.56h3.54v33.54h-3.54zM134.64 270.84h3.54v32.26h-3.54zM138.17 268.76h3.54v34.34h-3.54zM141.71 269.56h3.54v33.54h-3.54zM145.24 266.05h3.54v37.05h-3.54zM148.78 273.87h3.54v29.23h-3.54zM152.31 265.09h3.54v38.01h-3.54zM155.85 266.37h3.54v36.73h-3.54zM159.39 270.84h3.54v32.26h-3.54zM162.92 294.16h3.54v8.94h-3.54zM166.46 290.96h3.54v12.14h-3.54zM169.99 292.08h3.54v11.02h-3.54zM173.53 290.48h3.54v12.62h-3.54zM177.06 295.43h3.54v7.67h-3.54z"/>
<path fill="#9a7e22" d="M32.45 266.85h2.84v4.47h-2.84zM35.99 244.81h2.84v21.56h-2.84zM39.52 240.18h2.84v23.32h-2.84zM43.06 237.62h2.84v10.54h-2.84zM46.59 234.59h2.84v15.97h-2.84zM50.13 222.29h2.84v29.07h-2.84zM53.66 256.95h2.84v7.35h-2.84zM57.2 243.05h2.84v1.28h-2.84zM60.74 264.77h2.84v19h-2.84zM64.27 256.47h2.84v19.48h-2.84zM67.81 250.56h2.84v11.18h-2.84zM71.34 264.29h2.84v11.66h-2.84zM78.41 269.56h2.84v11.5h-2.84zM81.95 245.61h2.84v22.52h-2.84zM85.49 256.47h2.84v20.76h-2.84zM89.02 262.54h2.84v.48h-2.84zM92.56 270.84h2.84v5.11h-2.84zM96.09 266.85h2.84v2.71h-2.84zM99.63 263.02h2.84v1.28h-2.84zM103.16 261.26h2.84v5.59h-2.84zM106.7 262.54h2.84v7.03h-2.84zM110.24 278.03h2.84v8.3h-2.84zM113.77 274.67h2.84v10.38h-2.84zM117.31 270.84h2.84v7.67h-2.84zM120.84 278.03h2.84v8.3h-2.84zM124.38 268.76h2.84v9.74h-2.84zM131.45 269.56h2.84v8.94h-2.84zM134.99 270.84h2.84v5.11h-2.84zM138.52 268.76h2.84v2.56h-2.84zM145.59 266.05h2.84v8.62h-2.84zM152.66 265.09h2.84v13.41h-2.84zM156.2 266.37h2.84v3.19h-2.84zM159.74 270.84h2.84v10.22h-2.84zM166.81 290.96h2.84v1.92h-2.84zM173.88 290.48h2.84v1.44h-2.84z"/>
<path fill="none" stroke="#8a8a8a" stroke-width="0.7" d="M33.87 266.85V263.49M37.4 244.81V222.77M40.94 240.18V217.18M44.48 237.62V227.56M48.01 234.59V218.46M51.55 222.29V193.55M55.08 256.95V252.63M58.62 243.05V241.78M62.15 264.77V246.09M65.69 256.47V237.62M69.22 250.56V241.46M72.76 264.29V253.43M76.3 257.75V255.19M79.83 269.56V258.54M83.37 245.61V224.05M86.9 256.47V234.91M90.44 262.54V252.32M93.97 270.84V266.37M97.51 266.85V261.26M101.05 263.02V252M104.58 261.26V257.75M108.12 262.54V256.47M111.65 278.03V273.4M115.19 274.67V263.81M118.72 270.84V263.81M122.26 278.03V268.13M125.8 268.76V257.27M129.33 266.85V265.09M132.87 269.56V259.98M136.4 270.84V265.57M139.94 268.76V265.09M143.47 269.56V266.37M147.01 266.05V257.75M150.55 273.87V271.96M154.08 265.09V252.63M157.62 266.37V262.54M161.15 270.84V265.57M164.69 294.16V293.52M168.22 290.96V289.05M171.76 292.08V291.12M175.3 290.48V287.61M178.83 295.43V294.8"/>
<path fill="none" stroke="#222" stroke-width="0.7" d="M32.77 263.49H34.97M36.3 222.77H38.5M39.84 217.18H42.04M43.38 227.56H45.58M46.91 218.46H49.11M50.45 193.55H52.65M53.98 252.63H56.18M57.52 241.78H59.72M61.05 246.09H63.25M64.59 237.62H66.79M68.12 241.46H70.32M71.66 253.43H73.86M75.2 255.19H77.4M78.73 258.54H80.93M82.27 224.05H84.47M85.8 234.91H88M89.34 252.32H91.54M92.88 266.37H95.07M96.41 261.26H98.61M99.95 252H102.15M103.48 257.75H105.68M107.02 256.47H109.22M110.55 273.4H112.75M114.09 263.81H116.29M117.62 263.81H119.82M121.16 268.13H123.36M124.7 257.27H126.9M128.23 265.09H130.43M131.77 259.98H133.97M135.3 265.57H137.5M138.84 265.09H141.04M142.38 266.37H144.57M145.91 257.75H148.11M149.45 271.96H151.65M152.98 252.63H155.18M156.52 262.54H158.72M160.05 265.57H162.25M163.59 293.52H165.79M167.12 289.05H169.32M170.66 291.12H172.86M174.2 287.61H176.4M177.73 294.8H179.93"/>
<path fill="none" stroke="#1a1a1a" stroke-width="0.8" d="M32.1 266.85H35.64M35.64 244.81H39.17M39.17 240.18H42.71M42.71 237.62H46.24M46.24 234.59H49.78M49.78 222.29H53.31M53.31 256.95H56.85M56.85 243.05H60.39M60.39 264.77H63.92M63.92 256.47H67.46M67.46 250.56H70.99M70.99 264.29H74.53M74.53 257.75H78.06M78.06 269.56H81.6M81.6 245.61H85.14M85.14 256.47H88.67M88.67 262.54H92.21M92.21 270.84H95.74M95.74 266.85H99.28M99.28 263.02H102.81M102.81 261.26H106.35M106.35 262.54H109.89M109.89 278.03H113.42M113.42 274.67H116.96M116.96 270.84H120.49M120.49 278.03H124.03M124.03 268.76H127.56M127.56 266.85H131.1M131.1 269.56H134.64M134.64 270.84H138.17M138.17 268.76H141.71M141.71 269.56H145.24M145.24 266.05H148.78M148.78 273.87H152.31M152.31 265.09H155.85M155.85 266.37H159.39M159.39 270.84H162.92M162.92 294.16H166.46M166.46 290.96H169.99M169.99 292.08H173.53M173.53 290.48H177.06M177.06 295.43H180.6"/>
<rect x="122" y="189.3" width="56.3" height="8.5" fill="#fff" stroke="#555" stroke-width=".8"/>
<rect x="122.9" y="190.4" width="13.7" height="6.4" fill="#f7c81e" stroke="#222" stroke-width=".6"/>
<text x="137.9" y="195.9" font-size="6.7" textLength="39.8" lengthAdjust="spacingAndGlyphs" stroke="#111" stroke-width="0.28">Pectin (mg/kg)</text>
<path fill="none" stroke="#555" stroke-width="0.5" d="M33.87 303.7V305.1M37.4 303.7V305.1M40.94 303.7V305.1M44.48 303.7V305.1M48.01 303.7V305.1M51.55 303.7V305.1M55.08 303.7V305.1M58.62 303.7V305.1M62.15 303.7V305.1M65.69 303.7V305.1M69.22 303.7V305.1M72.76 303.7V305.1M76.3 303.7V305.1M79.83 303.7V305.1M83.37 303.7V305.1M86.9 303.7V305.1M90.44 303.7V305.1M93.97 303.7V305.1M97.51 303.7V305.1M101.05 303.7V305.1M104.58 303.7V305.1M108.12 303.7V305.1M111.65 303.7V305.1M115.19 303.7V305.1M118.72 303.7V305.1M122.26 303.7V305.1M125.8 303.7V305.1M129.33 303.7V305.1M132.87 303.7V305.1M136.4 303.7V305.1M139.94 303.7V305.1M143.47 303.7V305.1M147.01 303.7V305.1M150.55 303.7V305.1M154.08 303.7V305.1M157.62 303.7V305.1M161.15 303.7V305.1M164.69 303.7V305.1M168.22 303.7V305.1M171.76 303.7V305.1M175.3 303.7V305.1M178.83 303.7V305.1"/>
<text x="32.52" y="307.4" font-size="4.5" fill="#262626" transform="rotate(90 32.52 307.4)" textLength="3.96" lengthAdjust="spacingAndGlyphs" stroke="#262626" stroke-width="0.22">27</text>
<text x="32.52" y="312.8" font-size="4.5" fill="#262626" transform="rotate(90 32.52 312.8)" textLength="2.88" lengthAdjust="spacingAndGlyphs" stroke="#262626" stroke-width="0.22">22</text>
<text x="32.52" y="317" font-size="4.5" fill="#262626" transform="rotate(90 32.52 317)" textLength="2.16" lengthAdjust="spacingAndGlyphs" stroke="#262626" stroke-width="0.22">SS</text>
<text x="36.05" y="307.4" font-size="4.5" fill="#262626" transform="rotate(90 36.05 307.4)" textLength="3.96" lengthAdjust="spacingAndGlyphs" stroke="#262626" stroke-width="0.22">32</text>
<text x="36.05" y="312.8" font-size="4.5" fill="#262626" transform="rotate(90 36.05 312.8)" textLength="2.88" lengthAdjust="spacingAndGlyphs" stroke="#262626" stroke-width="0.22">22</text>
<text x="36.05" y="317" font-size="4.5" fill="#262626" transform="rotate(90 36.05 317)" textLength="2.16" lengthAdjust="spacingAndGlyphs" stroke="#262626" stroke-width="0.22">SS</text>
<text x="39.59" y="307.4" font-size="4.5" fill="#262626" transform="rotate(90 39.59 307.4)" textLength="3.96" lengthAdjust="spacingAndGlyphs" stroke="#262626" stroke-width="0.22">37</text>
<text x="39.59" y="312.8" font-size="4.5" fill="#262626" transform="rotate(90 39.59 312.8)" textLength="2.88" lengthAdjust="spacingAndGlyphs" stroke="#262626" stroke-width="0.22">ZZ</text>
<text x="39.59" y="317" font-size="4.5" fill="#262626" transform="rotate(90 39.59 317)" textLength="2.16" lengthAdjust="spacingAndGlyphs" stroke="#262626" stroke-width="0.22">SS</text>
<text x="43.12" y="307.4" font-size="4.5" fill="#262626" transform="rotate(90 43.12 307.4)" textLength="3.96" lengthAdjust="spacingAndGlyphs" stroke="#262626" stroke-width="0.22">22</text>
<text x="43.12" y="312.8" font-size="4.5" fill="#262626" transform="rotate(90 43.12 312.8)" textLength="2.88" lengthAdjust="spacingAndGlyphs" stroke="#262626" stroke-width="0.22">ZZ</text>
<text x="46.66" y="307.4" font-size="4.5" fill="#262626" transform="rotate(90 46.66 307.4)" textLength="3.96" lengthAdjust="spacingAndGlyphs" stroke="#262626" stroke-width="0.22">27</text>
<text x="46.66" y="312.8" font-size="4.5" fill="#262626" transform="rotate(90 46.66 312.8)" textLength="2.88" lengthAdjust="spacingAndGlyphs" stroke="#262626" stroke-width="0.22">S2</text>
<text x="50.2" y="307.4" font-size="4.5" fill="#262626" transform="rotate(90 50.2 307.4)" textLength="3.96" lengthAdjust="spacingAndGlyphs" stroke="#262626" stroke-width="0.22">32</text>
<text x="50.2" y="312.8" font-size="4.5" fill="#262626" transform="rotate(90 50.2 312.8)" textLength="2.88" lengthAdjust="spacingAndGlyphs" stroke="#262626" stroke-width="0.22">22</text>
<text x="53.73" y="307.4" font-size="4.5" fill="#262626" transform="rotate(90 53.73 307.4)" textLength="3.96" lengthAdjust="spacingAndGlyphs" stroke="#262626" stroke-width="0.22">22</text>
<text x="53.73" y="312.8" font-size="4.5" fill="#262626" transform="rotate(90 53.73 312.8)" textLength="2.88" lengthAdjust="spacingAndGlyphs" stroke="#262626" stroke-width="0.22">SS</text>
<text x="53.73" y="317" font-size="4.5" fill="#262626" transform="rotate(90 53.73 317)" textLength="2.16" lengthAdjust="spacingAndGlyphs" stroke="#262626" stroke-width="0.22">SS</text>
<text x="57.27" y="307.4" font-size="4.5" fill="#262626" transform="rotate(90 57.27 307.4)" textLength="3.96" lengthAdjust="spacingAndGlyphs" stroke="#262626" stroke-width="0.22">27</text>
<text x="57.27" y="312.8" font-size="4.5" fill="#262626" transform="rotate(90 57.27 312.8)" textLength="2.88" lengthAdjust="spacingAndGlyphs" stroke="#262626" stroke-width="0.22">SS</text>
<text x="57.27" y="317" font-size="4.5" fill="#262626" transform="rotate(90 57.27 317)" textLength="2.16" lengthAdjust="spacingAndGlyphs" stroke="#262626" stroke-width="0.22">SS</text>
<text x="60.8" y="307.4" font-size="4.5" fill="#262626" transform="rotate(90 60.8 307.4)" textLength="3.96" lengthAdjust="spacingAndGlyphs" stroke="#262626" stroke-width="0.22">27</text>
<text x="60.8" y="312.8" font-size="4.5" fill="#262626" transform="rotate(90 60.8 312.8)" textLength="2.88" lengthAdjust="spacingAndGlyphs" stroke="#262626" stroke-width="0.22">22</text>
<text x="60.8" y="317" font-size="4.5" fill="#262626" transform="rotate(90 60.8 317)" textLength="2.16" lengthAdjust="spacingAndGlyphs" stroke="#262626" stroke-width="0.22">SS</text>
<text x="64.34" y="307.4" font-size="4.5" fill="#262626" transform="rotate(90 64.34 307.4)" textLength="3.96" lengthAdjust="spacingAndGlyphs" stroke="#262626" stroke-width="0.22">32</text>
<text x="64.34" y="312.8" font-size="4.5" fill="#262626" transform="rotate(90 64.34 312.8)" textLength="2.88" lengthAdjust="spacingAndGlyphs" stroke="#262626" stroke-width="0.22">22</text>
<text x="67.88" y="307.4" font-size="4.5" fill="#262626" transform="rotate(90 67.88 307.4)" textLength="3.96" lengthAdjust="spacingAndGlyphs" stroke="#262626" stroke-width="0.22">37</text>
<text x="67.88" y="312.8" font-size="4.5" fill="#262626" transform="rotate(90 67.88 312.8)" textLength="2.88" lengthAdjust="spacingAndGlyphs" stroke="#262626" stroke-width="0.22">ZZ</text>
<text x="71.41" y="307.4" font-size="4.5" fill="#262626" transform="rotate(90 71.41 307.4)" textLength="3.96" lengthAdjust="spacingAndGlyphs" stroke="#262626" stroke-width="0.22">22</text>
<text x="71.41" y="312.8" font-size="4.5" fill="#262626" transform="rotate(90 71.41 312.8)" textLength="2.88" lengthAdjust="spacingAndGlyphs" stroke="#262626" stroke-width="0.22">ZZ</text>
<text x="74.95" y="307.4" font-size="4.5" fill="#262626" transform="rotate(90 74.95 307.4)" textLength="3.96" lengthAdjust="spacingAndGlyphs" stroke="#262626" stroke-width="0.22">27</text>
<text x="74.95" y="312.8" font-size="4.5" fill="#262626" transform="rotate(90 74.95 312.8)" textLength="2.88" lengthAdjust="spacingAndGlyphs" stroke="#262626" stroke-width="0.22">S2</text>
<text x="74.95" y="317" font-size="4.5" fill="#262626" transform="rotate(90 74.95 317)" textLength="2.16" lengthAdjust="spacingAndGlyphs" stroke="#262626" stroke-width="0.22">SS</text>
<text x="78.48" y="307.4" font-size="4.5" fill="#262626" transform="rotate(90 78.48 307.4)" textLength="3.96" lengthAdjust="spacingAndGlyphs" stroke="#262626" stroke-width="0.22">32</text>
<text x="78.48" y="312.8" font-size="4.5" fill="#262626" transform="rotate(90 78.48 312.8)" textLength="2.88" lengthAdjust="spacingAndGlyphs" stroke="#262626" stroke-width="0.22">22</text>
<text x="78.48" y="317" font-size="4.5" fill="#262626" transform="rotate(90 78.48 317)" textLength="2.16" lengthAdjust="spacingAndGlyphs" stroke="#262626" stroke-width="0.22">SS</text>
<text x="82.02" y="307.4" font-size="4.5" fill="#262626" transform="rotate(90 82.02 307.4)" textLength="3.96" lengthAdjust="spacingAndGlyphs" stroke="#262626" stroke-width="0.22">22</text>
<text x="82.02" y="312.8" font-size="4.5" fill="#262626" transform="rotate(90 82.02 312.8)" textLength="2.88" lengthAdjust="spacingAndGlyphs" stroke="#262626" stroke-width="0.22">SS</text>
<text x="82.02" y="317" font-size="4.5" fill="#262626" transform="rotate(90 82.02 317)" textLength="2.16" lengthAdjust="spacingAndGlyphs" stroke="#262626" stroke-width="0.22">SS</text>
<text x="85.55" y="307.4" font-size="4.5" fill="#262626" transform="rotate(90 85.55 307.4)" textLength="3.96" lengthAdjust="spacingAndGlyphs" stroke="#262626" stroke-width="0.22">27</text>
<text x="85.55" y="312.8" font-size="4.5" fill="#262626" transform="rotate(90 85.55 312.8)" textLength="2.88" lengthAdjust="spacingAndGlyphs" stroke="#262626" stroke-width="0.22">SS</text>
<text x="89.09" y="307.4" font-size="4.5" fill="#262626" transform="rotate(90 89.09 307.4)" textLength="3.96" lengthAdjust="spacingAndGlyphs" stroke="#262626" stroke-width="0.22">27</text>
<text x="89.09" y="312.8" font-size="4.5" fill="#262626" transform="rotate(90 89.09 312.8)" textLength="2.88" lengthAdjust="spacingAndGlyphs" stroke="#262626" stroke-width="0.22">22</text>
<text x="92.62" y="307.4" font-size="4.5" fill="#262626" transform="rotate(90 92.62 307.4)" textLength="3.96" lengthAdjust="spacingAndGlyphs" stroke="#262626" stroke-width="0.22">32</text>
<text x="92.62" y="312.8" font-size="4.5" fill="#262626" transform="rotate(90 92.62 312.8)" textLength="2.88" lengthAdjust="spacingAndGlyphs" stroke="#262626" stroke-width="0.22">22</text>
<text x="96.16" y="307.4" font-size="4.5" fill="#262626" transform="rotate(90 96.16 307.4)" textLength="3.96" lengthAdjust="spacingAndGlyphs" stroke="#262626" stroke-width="0.22">37</text>
<text x="96.16" y="312.8" font-size="4.5" fill="#262626" transform="rotate(90 96.16 312.8)" textLength="2.88" lengthAdjust="spacingAndGlyphs" stroke="#262626" stroke-width="0.22">ZZ</text>
<text x="96.16" y="317" font-size="4.5" fill="#262626" transform="rotate(90 96.16 317)" textLength="2.16" lengthAdjust="spacingAndGlyphs" stroke="#262626" stroke-width="0.22">SS</text>
<text x="99.7" y="307.4" font-size="4.5" fill="#262626" transform="rotate(90 99.7 307.4)" textLength="3.96" lengthAdjust="spacingAndGlyphs" stroke="#262626" stroke-width="0.22">22</text>
<text x="99.7" y="312.8" font-size="4.5" fill="#262626" transform="rotate(90 99.7 312.8)" textLength="2.88" lengthAdjust="spacingAndGlyphs" stroke="#262626" stroke-width="0.22">ZZ</text>
<text x="99.7" y="317" font-size="4.5" fill="#262626" transform="rotate(90 99.7 317)" textLength="2.16" lengthAdjust="spacingAndGlyphs" stroke="#262626" stroke-width="0.22">SS</text>
<text x="103.23" y="307.4" font-size="4.5" fill="#262626" transform="rotate(90 103.23 307.4)" textLength="3.96" lengthAdjust="spacingAndGlyphs" stroke="#262626" stroke-width="0.22">27</text>
<text x="103.23" y="312.8" font-size="4.5" fill="#262626" transform="rotate(90 103.23 312.8)" textLength="2.88" lengthAdjust="spacingAndGlyphs" stroke="#262626" stroke-width="0.22">S2</text>
<text x="103.23" y="317" font-size="4.5" fill="#262626" transform="rotate(90 103.23 317)" textLength="2.16" lengthAdjust="spacingAndGlyphs" stroke="#262626" stroke-width="0.22">SS</text>
<text x="106.77" y="307.4" font-size="4.5" fill="#262626" transform="rotate(90 106.77 307.4)" textLength="3.96" lengthAdjust="spacingAndGlyphs" stroke="#262626" stroke-width="0.22">32</text>
<text x="106.77" y="312.8" font-size="4.5" fill="#262626" transform="rotate(90 106.77 312.8)" textLength="2.88" lengthAdjust="spacingAndGlyphs" stroke="#262626" stroke-width="0.22">22</text>
<text x="110.3" y="307.4" font-size="4.5" fill="#262626" transform="rotate(90 110.3 307.4)" textLength="3.96" lengthAdjust="spacingAndGlyphs" stroke="#262626" stroke-width="0.22">22</text>
<text x="110.3" y="312.8" font-size="4.5" fill="#262626" transform="rotate(90 110.3 312.8)" textLength="2.88" lengthAdjust="spacingAndGlyphs" stroke="#262626" stroke-width="0.22">SS</text>
<text x="113.84" y="307.4" font-size="4.5" fill="#262626" transform="rotate(90 113.84 307.4)" textLength="3.96" lengthAdjust="spacingAndGlyphs" stroke="#262626" stroke-width="0.22">27</text>
<text x="113.84" y="312.8" font-size="4.5" fill="#262626" transform="rotate(90 113.84 312.8)" textLength="2.88" lengthAdjust="spacingAndGlyphs" stroke="#262626" stroke-width="0.22">SS</text>
<text x="117.38" y="307.4" font-size="4.5" fill="#262626" transform="rotate(90 117.38 307.4)" textLength="3.96" lengthAdjust="spacingAndGlyphs" stroke="#262626" stroke-width="0.22">27</text>
<text x="117.38" y="312.8" font-size="4.5" fill="#262626" transform="rotate(90 117.38 312.8)" textLength="2.88" lengthAdjust="spacingAndGlyphs" stroke="#262626" stroke-width="0.22">22</text>
<text x="117.38" y="317" font-size="4.5" fill="#262626" transform="rotate(90 117.38 317)" textLength="2.16" lengthAdjust="spacingAndGlyphs" stroke="#262626" stroke-width="0.22">SS</text>
<text x="120.91" y="307.4" font-size="4.5" fill="#262626" transform="rotate(90 120.91 307.4)" textLength="3.96" lengthAdjust="spacingAndGlyphs" stroke="#262626" stroke-width="0.22">32</text>
<text x="120.91" y="312.8" font-size="4.5" fill="#262626" transform="rotate(90 120.91 312.8)" textLength="2.88" lengthAdjust="spacingAndGlyphs" stroke="#262626" stroke-width="0.22">22</text>
<text x="120.91" y="317" font-size="4.5" fill="#262626" transform="rotate(90 120.91 317)" textLength="2.16" lengthAdjust="spacingAndGlyphs" stroke="#262626" stroke-width="0.22">SS</text>
<text x="124.45" y="307.4" font-size="4.5" fill="#262626" transform="rotate(90 124.45 307.4)" textLength="3.96" lengthAdjust="spacingAndGlyphs" stroke="#262626" stroke-width="0.22">37</text>
<text x="124.45" y="312.8" font-size="4.5" fill="#262626" transform="rotate(90 124.45 312.8)" textLength="2.88" lengthAdjust="spacingAndGlyphs" stroke="#262626" stroke-width="0.22">ZZ</text>
<text x="124.45" y="317" font-size="4.5" fill="#262626" transform="rotate(90 124.45 317)" textLength="2.16" lengthAdjust="spacingAndGlyphs" stroke="#262626" stroke-width="0.22">SS</text>
<text x="127.98" y="307.4" font-size="4.5" fill="#262626" transform="rotate(90 127.98 307.4)" textLength="3.96" lengthAdjust="spacingAndGlyphs" stroke="#262626" stroke-width="0.22">22</text>
<text x="127.98" y="312.8" font-size="4.5" fill="#262626" transform="rotate(90 127.98 312.8)" textLength="2.88" lengthAdjust="spacingAndGlyphs" stroke="#262626" stroke-width="0.22">ZZ</text>
<text x="131.52" y="307.4" font-size="4.5" fill="#262626" transform="rotate(90 131.52 307.4)" textLength="3.96" lengthAdjust="spacingAndGlyphs" stroke="#262626" stroke-width="0.22">27</text>
<text x="131.52" y="312.8" font-size="4.5" fill="#262626" transform="rotate(90 131.52 312.8)" textLength="2.88" lengthAdjust="spacingAndGlyphs" stroke="#262626" stroke-width="0.22">S2</text>
<text x="135.05" y="307.4" font-size="4.5" fill="#262626" transform="rotate(90 135.05 307.4)" textLength="3.96" lengthAdjust="spacingAndGlyphs" stroke="#262626" stroke-width="0.22">32</text>
<text x="135.05" y="312.8" font-size="4.5" fill="#262626" transform="rotate(90 135.05 312.8)" textLength="2.88" lengthAdjust="spacingAndGlyphs" stroke="#262626" stroke-width="0.22">22</text>
<text x="138.59" y="307.4" font-size="4.5" fill="#262626" transform="rotate(90 138.59 307.4)" textLength="3.96" lengthAdjust="spacingAndGlyphs" stroke="#262626" stroke-width="0.22">22</text>
<text x="138.59" y="312.8" font-size="4.5" fill="#262626" transform="rotate(90 138.59 312.8)" textLength="2.88" lengthAdjust="spacingAndGlyphs" stroke="#262626" stroke-width="0.22">SS</text>
<text x="138.59" y="317" font-size="4.5" fill="#262626" transform="rotate(90 138.59 317)" textLength="2.16" lengthAdjust="spacingAndGlyphs" stroke="#262626" stroke-width="0.22">SS</text>
<text x="142.12" y="307.4" font-size="4.5" fill="#262626" transform="rotate(90 142.12 307.4)" textLength="3.96" lengthAdjust="spacingAndGlyphs" stroke="#262626" stroke-width="0.22">27</text>
<text x="142.12" y="312.8" font-size="4.5" fill="#262626" transform="rotate(90 142.12 312.8)" textLength="2.88" lengthAdjust="spacingAndGlyphs" stroke="#262626" stroke-width="0.22">SS</text>
<text x="142.12" y="317" font-size="4.5" fill="#262626" transform="rotate(90 142.12 317)" textLength="2.16" lengthAdjust="spacingAndGlyphs" stroke="#262626" stroke-width="0.22">SS</text>
<text x="145.66" y="307.4" font-size="4.5" fill="#262626" transform="rotate(90 145.66 307.4)" textLength="3.96" lengthAdjust="spacingAndGlyphs" stroke="#262626" stroke-width="0.22">27</text>
<text x="145.66" y="312.8" font-size="4.5" fill="#262626" transform="rotate(90 145.66 312.8)" textLength="2.88" lengthAdjust="spacingAndGlyphs" stroke="#262626" stroke-width="0.22">22</text>
<text x="145.66" y="317" font-size="4.5" fill="#262626" transform="rotate(90 145.66 317)" textLength="2.16" lengthAdjust="spacingAndGlyphs" stroke="#262626" stroke-width="0.22">SS</text>
<text x="149.2" y="307.4" font-size="4.5" fill="#262626" transform="rotate(90 149.2 307.4)" textLength="3.96" lengthAdjust="spacingAndGlyphs" stroke="#262626" stroke-width="0.22">32</text>
<text x="149.2" y="312.8" font-size="4.5" fill="#262626" transform="rotate(90 149.2 312.8)" textLength="2.88" lengthAdjust="spacingAndGlyphs" stroke="#262626" stroke-width="0.22">22</text>
<text x="152.73" y="307.4" font-size="4.5" fill="#262626" transform="rotate(90 152.73 307.4)" textLength="3.96" lengthAdjust="spacingAndGlyphs" stroke="#262626" stroke-width="0.22">37</text>
<text x="152.73" y="312.8" font-size="4.5" fill="#262626" transform="rotate(90 152.73 312.8)" textLength="2.88" lengthAdjust="spacingAndGlyphs" stroke="#262626" stroke-width="0.22">ZZ</text>
<text x="156.27" y="307.4" font-size="4.5" fill="#262626" transform="rotate(90 156.27 307.4)" textLength="3.96" lengthAdjust="spacingAndGlyphs" stroke="#262626" stroke-width="0.22">22</text>
<text x="156.27" y="312.8" font-size="4.5" fill="#262626" transform="rotate(90 156.27 312.8)" textLength="2.88" lengthAdjust="spacingAndGlyphs" stroke="#262626" stroke-width="0.22">ZZ</text>
<text x="159.8" y="307.4" font-size="4.5" fill="#262626" transform="rotate(90 159.8 307.4)" textLength="3.96" lengthAdjust="spacingAndGlyphs" stroke="#262626" stroke-width="0.22">27</text>
<text x="159.8" y="312.8" font-size="4.5" fill="#262626" transform="rotate(90 159.8 312.8)" textLength="2.88" lengthAdjust="spacingAndGlyphs" stroke="#262626" stroke-width="0.22">S2</text>
<text x="159.8" y="317" font-size="4.5" fill="#262626" transform="rotate(90 159.8 317)" textLength="2.16" lengthAdjust="spacingAndGlyphs" stroke="#262626" stroke-width="0.22">SS</text>
<text x="163.34" y="307.4" font-size="4.5" fill="#262626" transform="rotate(90 163.34 307.4)" textLength="3.96" lengthAdjust="spacingAndGlyphs" stroke="#262626" stroke-width="0.22">32</text>
<text x="163.34" y="312.8" font-size="4.5" fill="#262626" transform="rotate(90 163.34 312.8)" textLength="2.88" lengthAdjust="spacingAndGlyphs" stroke="#262626" stroke-width="0.22">22</text>
<text x="163.34" y="317" font-size="4.5" fill="#262626" transform="rotate(90 163.34 317)" textLength="2.16" lengthAdjust="spacingAndGlyphs" stroke="#262626" stroke-width="0.22">SS</text>
<text x="166.88" y="307.4" font-size="4.5" fill="#262626" transform="rotate(90 166.88 307.4)" textLength="3.96" lengthAdjust="spacingAndGlyphs" stroke="#262626" stroke-width="0.22">22</text>
<text x="166.88" y="312.8" font-size="4.5" fill="#262626" transform="rotate(90 166.88 312.8)" textLength="2.88" lengthAdjust="spacingAndGlyphs" stroke="#262626" stroke-width="0.22">SS</text>
<text x="166.88" y="317" font-size="4.5" fill="#262626" transform="rotate(90 166.88 317)" textLength="2.16" lengthAdjust="spacingAndGlyphs" stroke="#262626" stroke-width="0.22">SS</text>
<text x="170.41" y="307.4" font-size="4.5" fill="#262626" transform="rotate(90 170.41 307.4)" textLength="3.96" lengthAdjust="spacingAndGlyphs" stroke="#262626" stroke-width="0.22">27</text>
<text x="170.41" y="312.8" font-size="4.5" fill="#262626" transform="rotate(90 170.41 312.8)" textLength="2.88" lengthAdjust="spacingAndGlyphs" stroke="#262626" stroke-width="0.22">SS</text>
<text x="173.95" y="307.4" font-size="4.5" fill="#262626" transform="rotate(90 173.95 307.4)" textLength="3.96" lengthAdjust="spacingAndGlyphs" stroke="#262626" stroke-width="0.22">27</text>
<text x="173.95" y="312.8" font-size="4.5" fill="#262626" transform="rotate(90 173.95 312.8)" textLength="2.88" lengthAdjust="spacingAndGlyphs" stroke="#262626" stroke-width="0.22">22</text>
<text x="177.48" y="307.4" font-size="4.5" fill="#262626" transform="rotate(90 177.48 307.4)" textLength="3.96" lengthAdjust="spacingAndGlyphs" stroke="#262626" stroke-width="0.22">32</text>
<text x="177.48" y="312.8" font-size="4.5" fill="#262626" transform="rotate(90 177.48 312.8)" textLength="2.88" lengthAdjust="spacingAndGlyphs" stroke="#262626" stroke-width="0.22">22</text>
<text x="179.8" y="177.6" font-size="9.2" textLength="6.6" lengthAdjust="spacingAndGlyphs" stroke="#111" stroke-width="0.28">C</text>
<path fill="none" stroke="#333" stroke-width="0.7" d="M206.3 239.06H204.2M206.3 229.71H204.2M206.3 220.37H204.2M206.3 211.03H204.2M206.3 201.69H204.2M206.3 192.34H204.2M206.3 183H204.2M206.3 243.73H205.2M206.3 234.39H205.2M206.3 225.04H205.2M206.3 215.7H205.2M206.3 206.36H205.2M206.3 197.01H205.2M206.3 187.67H205.2"/>
<text x="203.9" y="240.46" font-size="3.9" text-anchor="end" fill="#2a2a2a" textLength="1.9" lengthAdjust="spacingAndGlyphs" stroke="#2a2a2a" stroke-width="0.28">4</text>
<text x="203.9" y="231.11" font-size="3.9" text-anchor="end" fill="#2a2a2a" textLength="1.9" lengthAdjust="spacingAndGlyphs" stroke="#2a2a2a" stroke-width="0.28">6</text>
<text x="203.9" y="221.77" font-size="3.9" text-anchor="end" fill="#2a2a2a" textLength="1.9" lengthAdjust="spacingAndGlyphs" stroke="#2a2a2a" stroke-width="0.28">8</text>
<text x="203.9" y="212.43" font-size="3.9" text-anchor="end" fill="#2a2a2a" textLength="3.8" lengthAdjust="spacingAndGlyphs" stroke="#2a2a2a" stroke-width="0.28">10</text>
<text x="203.9" y="203.09" font-size="3.9" text-anchor="end" fill="#2a2a2a" textLength="3.8" lengthAdjust="spacingAndGlyphs" stroke="#2a2a2a" stroke-width="0.28">12</text>
<text x="203.9" y="193.74" font-size="3.9" text-anchor="end" fill="#2a2a2a" textLength="3.8" lengthAdjust="spacingAndGlyphs" stroke="#2a2a2a" stroke-width="0.28">14</text>
<text x="203.9" y="184.4" font-size="3.9" text-anchor="end" fill="#2a2a2a" textLength="3.8" lengthAdjust="spacingAndGlyphs" stroke="#2a2a2a" stroke-width="0.28">16</text>
<path fill="none" stroke="#333" stroke-width="0.7" d="M206.3 302.9H204.2M206.3 292.5H204.2M206.3 282.1H204.2M206.3 271.7H204.2M206.3 261.3H204.2M206.3 297.7H205.2M206.3 287.3H205.2M206.3 276.9H205.2M206.3 266.5H205.2M206.3 256.1H205.2"/>
<text x="203.9" y="304.3" font-size="3.9" text-anchor="end" fill="#2a2a2a" textLength="5" lengthAdjust="spacingAndGlyphs" stroke="#2a2a2a" stroke-width="0.28">0.0</text>
<text x="203.9" y="293.9" font-size="3.9" text-anchor="end" fill="#2a2a2a" textLength="5" lengthAdjust="spacingAndGlyphs" stroke="#2a2a2a" stroke-width="0.28">0.2</text>
<text x="203.9" y="283.5" font-size="3.9" text-anchor="end" fill="#2a2a2a" textLength="5" lengthAdjust="spacingAndGlyphs" stroke="#2a2a2a" stroke-width="0.28">0.4</text>
<text x="203.9" y="273.1" font-size="3.9" text-anchor="end" fill="#2a2a2a" textLength="5" lengthAdjust="spacingAndGlyphs" stroke="#2a2a2a" stroke-width="0.28">0.6</text>
<text x="203.9" y="262.7" font-size="3.9" text-anchor="end" fill="#2a2a2a" textLength="5" lengthAdjust="spacingAndGlyphs" stroke="#2a2a2a" stroke-width="0.28">0.8</text>
<text x="195.7" y="243.5" font-size="6.6" text-anchor="middle" transform="rotate(-90 195.7 243.5)" textLength="15.1" lengthAdjust="spacingAndGlyphs" stroke="#111" stroke-width="0.28">Ratio</text>
<path fill="#03903f" stroke="#262826" stroke-width="1.35" d="M206 250.9h3.53v52h-3.53zM206 206.82h3.53v41.58h-3.53zM209.53 250.9h3.53v52h-3.53zM209.53 219.67h3.53v28.73h-3.53zM213.07 250.9h3.53v52h-3.53zM213.07 229.48h3.53v18.92h-3.53zM216.6 250.9h3.53v52h-3.53zM216.6 235.79h3.53v12.61h-3.53zM220.13 250.9h3.53v52h-3.53zM220.13 232.75h3.53v15.65h-3.53zM223.67 250.9h3.53v52h-3.53zM223.67 191.18h3.53v57.23h-3.53zM227.2 250.9h3.53v52h-3.53zM230.73 250.9h3.53v52h-3.53zM237.8 250.9h3.53v52h-3.53zM241.33 250.9h3.53v52h-3.53zM244.87 250.9h3.53v52h-3.53zM244.87 224.34h3.53v24.06h-3.53zM248.4 250.9h3.53v52h-3.53zM255.47 250.9h3.53v52h-3.53zM259 250.9h3.53v52h-3.53zM266.07 250.9h3.53v52h-3.53zM266.07 242.61h3.53v5.79h-3.53zM269.6 250.9h3.53v52h-3.53zM283.73 250.9h3.53v52h-3.53zM301.4 250.9h3.53v52h-3.53zM301.4 246.77h3.53v1.64h-3.53zM319.07 250.9h3.53v52h-3.53zM319.07 245.41h3.53v2.99h-3.53zM322.6 250.9h3.53v52h-3.53zM326.13 250.9h3.53v52h-3.53zM336.73 250.9h3.53v52h-3.53z"/>
<path fill="#f7cc22" stroke="#3b3110" stroke-width="1.35" d="M234.27 258.7h3.53v44.2h-3.53zM251.93 259.22h3.53v43.68h-3.53zM262.53 258.7h3.53v44.2h-3.53zM273.13 254.54h3.53v48.36h-3.53zM276.67 257.66h3.53v45.24h-3.53zM280.2 268.58h3.53v34.32h-3.53zM287.27 252.46h3.53v50.44h-3.53zM290.8 261.82h3.53v41.08h-3.53zM294.33 280.02h3.53v22.88h-3.53zM297.87 272.22h3.53v30.68h-3.53zM304.93 264.42h3.53v38.48h-3.53zM308.47 266.5h3.53v36.4h-3.53zM312 276.9h3.53v26h-3.53zM315.53 271.7h3.53v31.2h-3.53zM329.67 265.46h3.53v37.44h-3.53zM333.2 265.98h3.53v36.92h-3.53zM340.27 271.18h3.53v31.72h-3.53zM343.8 282.1h3.53v20.8h-3.53zM347.33 280.02h3.53v22.88h-3.53zM350.87 293.54h3.53v9.36h-3.53z"/>
<path fill="none" stroke="#6a6a6a" stroke-width="0.9" d="M206.3 183H354.6M206.3 302.9H354.6M206.3 183V248.4M206.3 250.9V302.9M354.6 183V248.4M354.6 250.9V302.9"/>
<rect x="206.3" y="248.8" width="147.8" height="1.7" fill="#fff"/>
<path fill="none" stroke="#333" stroke-width="0.6" d="M204.2 249.6L207.4 247.8M204.2 251.5L207.4 249.7M353 249.6L356.2 247.8M353 251.5L356.2 249.7"/>
<text x="265.5" y="200.6" font-size="9.2" textLength="5.7" lengthAdjust="spacingAndGlyphs" stroke="#111" stroke-width="0.28">R</text>
<path d="M272.5 193.6h2v.8h-1v7.6h1v.8h-2z" fill="#111"/>
<text x="278.8" y="193.6" font-size="5.1" textLength="66.5" lengthAdjust="spacingAndGlyphs" stroke="#111" stroke-width="0.28">m(Hypothetical methanol from</text>
<text x="278.8" y="199" font-size="5.1" textLength="66" lengthAdjust="spacingAndGlyphs" stroke="#111" stroke-width="0.28">completely degradated pectin)</text>
<path d="M274.3 200H349" stroke="#444" stroke-width=".6"/>
<text x="278.8" y="205.1" font-size="5.1" textLength="63" lengthAdjust="spacingAndGlyphs" stroke="#111" stroke-width="0.28">m(Actual detected methanol)</text>
<path d="M349.2 193.6h2v9.2h-2v-.8h1v-7.6h-1z" fill="#111"/>
<rect x="306.4" y="210.9" width="40.5" height="19.1" fill="#fff" stroke="#555" stroke-width=".8"/>
<rect x="307.6" y="212.4" width="14.2" height="6.1" fill="#03903f" stroke="#222" stroke-width=".6"/>
<rect x="307.6" y="221.5" width="14.2" height="6.1" fill="#f7c92a" stroke="#222" stroke-width=".6"/>
<text x="323.6" y="217.8" font-size="6.8" textLength="21.9" lengthAdjust="spacingAndGlyphs" stroke="#111" stroke-width="0.28">Ratio&gt;1</text>
<text x="323.6" y="226.7" font-size="6.8" textLength="21.9" lengthAdjust="spacingAndGlyphs" stroke="#111" stroke-width="0.28">Ratio&lt;1</text>
<path fill="none" stroke="#555" stroke-width="0.5" d="M207.57 303.5V304.9M211.1 303.5V304.9M214.63 303.5V304.9M218.17 303.5V304.9M221.7 303.5V304.9M225.23 303.5V304.9M228.77 303.5V304.9M232.3 303.5V304.9M235.83 303.5V304.9M239.37 303.5V304.9M242.9 303.5V304.9M246.43 303.5V304.9M249.97 303.5V304.9M253.5 303.5V304.9M257.03 303.5V304.9M260.57 303.5V304.9M264.1 303.5V304.9M267.63 303.5V304.9M271.17 303.5V304.9M274.7 303.5V304.9M278.23 303.5V304.9M281.77 303.5V304.9M285.3 303.5V304.9M288.83 303.5V304.9M292.37 303.5V304.9M295.9 303.5V304.9M299.43 303.5V304.9M302.97 303.5V304.9M306.5 303.5V304.9M310.03 303.5V304.9M313.57 303.5V304.9M317.1 303.5V304.9M320.63 303.5V304.9M324.17 303.5V304.9M327.7 303.5V304.9M331.23 303.5V304.9M334.77 303.5V304.9M338.3 303.5V304.9M341.83 303.5V304.9M345.37 303.5V304.9M348.9 303.5V304.9M352.43 303.5V304.9"/>
<text x="206.22" y="307.2" font-size="4.5" fill="#262626" transform="rotate(90 206.22 307.2)" textLength="3.96" lengthAdjust="spacingAndGlyphs" stroke="#262626" stroke-width="0.22">27</text>
<text x="206.22" y="312.6" font-size="4.5" fill="#262626" transform="rotate(90 206.22 312.6)" textLength="2.88" lengthAdjust="spacingAndGlyphs" stroke="#262626" stroke-width="0.22">22</text>
<text x="206.22" y="316.8" font-size="4.5" fill="#262626" transform="rotate(90 206.22 316.8)" textLength="2.16" lengthAdjust="spacingAndGlyphs" stroke="#262626" stroke-width="0.22">SS</text>
<text x="209.75" y="307.2" font-size="4.5" fill="#262626" transform="rotate(90 209.75 307.2)" textLength="3.96" lengthAdjust="spacingAndGlyphs" stroke="#262626" stroke-width="0.22">32</text>
<text x="209.75" y="312.6" font-size="4.5" fill="#262626" transform="rotate(90 209.75 312.6)" textLength="2.88" lengthAdjust="spacingAndGlyphs" stroke="#262626" stroke-width="0.22">22</text>
<text x="209.75" y="316.8" font-size="4.5" fill="#262626" transform="rotate(90 209.75 316.8)" textLength="2.16" lengthAdjust="spacingAndGlyphs" stroke="#262626" stroke-width="0.22">SS</text>
<text x="213.28" y="307.2" font-size="4.5" fill="#262626" transform="rotate(90 213.28 307.2)" textLength="3.96" lengthAdjust="spacingAndGlyphs" stroke="#262626" stroke-width="0.22">37</text>
<text x="213.28" y="312.6" font-size="4.5" fill="#262626" transform="rotate(90 213.28 312.6)" textLength="2.88" lengthAdjust="spacingAndGlyphs" stroke="#262626" stroke-width="0.22">ZZ</text>
<text x="213.28" y="316.8" font-size="4.5" fill="#262626" transform="rotate(90 213.28 316.8)" textLength="2.16" lengthAdjust="spacingAndGlyphs" stroke="#262626" stroke-width="0.22">SS</text>
<text x="216.82" y="307.2" font-size="4.5" fill="#262626" transform="rotate(90 216.82 307.2)" textLength="3.96" lengthAdjust="spacingAndGlyphs" stroke="#262626" stroke-width="0.22">22</text>
<text x="216.82" y="312.6" font-size="4.5" fill="#262626" transform="rotate(90 216.82 312.6)" textLength="2.88" lengthAdjust="spacingAndGlyphs" stroke="#262626" stroke-width="0.22">ZZ</text>
<text x="220.35" y="307.2" font-size="4.5" fill="#262626" transform="rotate(90 220.35 307.2)" textLength="3.96" lengthAdjust="spacingAndGlyphs" stroke="#262626" stroke-width="0.22">27</text>
<text x="220.35" y="312.6" font-size="4.5" fill="#262626" transform="rotate(90 220.35 312.6)" textLength="2.88" lengthAdjust="spacingAndGlyphs" stroke="#262626" stroke-width="0.22">S2</text>
<text x="223.88" y="307.2" font-size="4.5" fill="#262626" transform="rotate(90 223.88 307.2)" textLength="3.96" lengthAdjust="spacingAndGlyphs" stroke="#262626" stroke-width="0.22">32</text>
<text x="223.88" y="312.6" font-size="4.5" fill="#262626" transform="rotate(90 223.88 312.6)" textLength="2.88" lengthAdjust="spacingAndGlyphs" stroke="#262626" stroke-width="0.22">22</text>
<text x="227.42" y="307.2" font-size="4.5" fill="#262626" transform="rotate(90 227.42 307.2)" textLength="3.96" lengthAdjust="spacingAndGlyphs" stroke="#262626" stroke-width="0.22">22</text>
<text x="227.42" y="312.6" font-size="4.5" fill="#262626" transform="rotate(90 227.42 312.6)" textLength="2.88" lengthAdjust="spacingAndGlyphs" stroke="#262626" stroke-width="0.22">SS</text>
<text x="227.42" y="316.8" font-size="4.5" fill="#262626" transform="rotate(90 227.42 316.8)" textLength="2.16" lengthAdjust="spacingAndGlyphs" stroke="#262626" stroke-width="0.22">SS</text>
<text x="230.95" y="307.2" font-size="4.5" fill="#262626" transform="rotate(90 230.95 307.2)" textLength="3.96" lengthAdjust="spacingAndGlyphs" stroke="#262626" stroke-width="0.22">27</text>
<text x="230.95" y="312.6" font-size="4.5" fill="#262626" transform="rotate(90 230.95 312.6)" textLength="2.88" lengthAdjust="spacingAndGlyphs" stroke="#262626" stroke-width="0.22">SS</text>
<text x="230.95" y="316.8" font-size="4.5" fill="#262626" transform="rotate(90 230.95 316.8)" textLength="2.16" lengthAdjust="spacingAndGlyphs" stroke="#262626" stroke-width="0.22">SS</text>
<text x="234.48" y="307.2" font-size="4.5" fill="#262626" transform="rotate(90 234.48 307.2)" textLength="3.96" lengthAdjust="spacingAndGlyphs" stroke="#262626" stroke-width="0.22">27</text>
<text x="234.48" y="312.6" font-size="4.5" fill="#262626" transform="rotate(90 234.48 312.6)" textLength="2.88" lengthAdjust="spacingAndGlyphs" stroke="#262626" stroke-width="0.22">22</text>
<text x="234.48" y="316.8" font-size="4.5" fill="#262626" transform="rotate(90 234.48 316.8)" textLength="2.16" lengthAdjust="spacingAndGlyphs" stroke="#262626" stroke-width="0.22">SS</text>
<text x="238.02" y="307.2" font-size="4.5" fill="#262626" transform="rotate(90 238.02 307.2)" textLength="3.96" lengthAdjust="spacingAndGlyphs" stroke="#262626" stroke-width="0.22">32</text>
<text x="238.02" y="312.6" font-size="4.5" fill="#262626" transform="rotate(90 238.02 312.6)" textLength="2.88" lengthAdjust="spacingAndGlyphs" stroke="#262626" stroke-width="0.22">22</text>
<text x="241.55" y="307.2" font-size="4.5" fill="#262626" transform="rotate(90 241.55 307.2)" textLength="3.96" lengthAdjust="spacingAndGlyphs" stroke="#262626" stroke-width="0.22">37</text>
<text x="241.55" y="312.6" font-size="4.5" fill="#262626" transform="rotate(90 241.55 312.6)" textLength="2.88" lengthAdjust="spacingAndGlyphs" stroke="#262626" stroke-width="0.22">ZZ</text>
<text x="245.08" y="307.2" font-size="4.5" fill="#262626" transform="rotate(90 245.08 307.2)" textLength="3.96" lengthAdjust="spacingAndGlyphs" stroke="#262626" stroke-width="0.22">22</text>
<text x="245.08" y="312.6" font-size="4.5" fill="#262626" transform="rotate(90 245.08 312.6)" textLength="2.88" lengthAdjust="spacingAndGlyphs" stroke="#262626" stroke-width="0.22">ZZ</text>
<text x="248.62" y="307.2" font-size="4.5" fill="#262626" transform="rotate(90 248.62 307.2)" textLength="3.96" lengthAdjust="spacingAndGlyphs" stroke="#262626" stroke-width="0.22">27</text>
<text x="248.62" y="312.6" font-size="4.5" fill="#262626" transform="rotate(90 248.62 312.6)" textLength="2.88" lengthAdjust="spacingAndGlyphs" stroke="#262626" stroke-width="0.22">S2</text>
<text x="248.62" y="316.8" font-size="4.5" fill="#262626" transform="rotate(90 248.62 316.8)" textLength="2.16" lengthAdjust="spacingAndGlyphs" stroke="#262626" stroke-width="0.22">SS</text>
<text x="252.15" y="307.2" font-size="4.5" fill="#262626" transform="rotate(90 252.15 307.2)" textLength="3.96" lengthAdjust="spacingAndGlyphs" stroke="#262626" stroke-width="0.22">32</text>
<text x="252.15" y="312.6" font-size="4.5" fill="#262626" transform="rotate(90 252.15 312.6)" textLength="2.88" lengthAdjust="spacingAndGlyphs" stroke="#262626" stroke-width="0.22">22</text>
<text x="252.15" y="316.8" font-size="4.5" fill="#262626" transform="rotate(90 252.15 316.8)" textLength="2.16" lengthAdjust="spacingAndGlyphs" stroke="#262626" stroke-width="0.22">SS</text>
<text x="255.68" y="307.2" font-size="4.5" fill="#262626" transform="rotate(90 255.68 307.2)" textLength="3.96" lengthAdjust="spacingAndGlyphs" stroke="#262626" stroke-width="0.22">22</text>
<text x="255.68" y="312.6" font-size="4.5" fill="#262626" transform="rotate(90 255.68 312.6)" textLength="2.88" lengthAdjust="spacingAndGlyphs" stroke="#262626" stroke-width="0.22">SS</text>
<text x="255.68" y="316.8" font-size="4.5" fill="#262626" transform="rotate(90 255.68 316.8)" textLength="2.16" lengthAdjust="spacingAndGlyphs" stroke="#262626" stroke-width="0.22">SS</text>
<text x="259.22" y="307.2" font-size="4.5" fill="#262626" transform="rotate(90 259.22 307.2)" textLength="3.96" lengthAdjust="spacingAndGlyphs" stroke="#262626" stroke-width="0.22">27</text>
<text x="259.22" y="312.6" font-size="4.5" fill="#262626" transform="rotate(90 259.22 312.6)" textLength="2.88" lengthAdjust="spacingAndGlyphs" stroke="#262626" stroke-width="0.22">SS</text>
<text x="262.75" y="307.2" font-size="4.5" fill="#262626" transform="rotate(90 262.75 307.2)" textLength="3.96" lengthAdjust="spacingAndGlyphs" stroke="#262626" stroke-width="0.22">27</text>
<text x="262.75" y="312.6" font-size="4.5" fill="#262626" transform="rotate(90 262.75 312.6)" textLength="2.88" lengthAdjust="spacingAndGlyphs" stroke="#262626" stroke-width="0.22">22</text>
<text x="266.28" y="307.2" font-size="4.5" fill="#262626" transform="rotate(90 266.28 307.2)" textLength="3.96" lengthAdjust="spacingAndGlyphs" stroke="#262626" stroke-width="0.22">32</text>
<text x="266.28" y="312.6" font-size="4.5" fill="#262626" transform="rotate(90 266.28 312.6)" textLength="2.88" lengthAdjust="spacingAndGlyphs" stroke="#262626" stroke-width="0.22">22</text>
<text x="269.82" y="307.2" font-size="4.5" fill="#262626" transform="rotate(90 269.82 307.2)" textLength="3.96" lengthAdjust="spacingAndGlyphs" stroke="#262626" stroke-width="0.22">37</text>
<text x="269.82" y="312.6" font-size="4.5" fill="#262626" transform="rotate(90 269.82 312.6)" textLength="2.88" lengthAdjust="spacingAndGlyphs" stroke="#262626" stroke-width="0.22">ZZ</text>
<text x="269.82" y="316.8" font-size="4.5" fill="#262626" transform="rotate(90 269.82 316.8)" textLength="2.16" lengthAdjust="spacingAndGlyphs" stroke="#262626" stroke-width="0.22">SS</text>
<text x="273.35" y="307.2" font-size="4.5" fill="#262626" transform="rotate(90 273.35 307.2)" textLength="3.96" lengthAdjust="spacingAndGlyphs" stroke="#262626" stroke-width="0.22">22</text>
<text x="273.35" y="312.6" font-size="4.5" fill="#262626" transform="rotate(90 273.35 312.6)" textLength="2.88" lengthAdjust="spacingAndGlyphs" stroke="#262626" stroke-width="0.22">ZZ</text>
<text x="273.35" y="316.8" font-size="4.5" fill="#262626" transform="rotate(90 273.35 316.8)" textLength="2.16" lengthAdjust="spacingAndGlyphs" stroke="#262626" stroke-width="0.22">SS</text>
<text x="276.88" y="307.2" font-size="4.5" fill="#262626" transform="rotate(90 276.88 307.2)" textLength="3.96" lengthAdjust="spacingAndGlyphs" stroke="#262626" stroke-width="0.22">27</text>
<text x="276.88" y="312.6" font-size="4.5" fill="#262626" transform="rotate(90 276.88 312.6)" textLength="2.88" lengthAdjust="spacingAndGlyphs" stroke="#262626" stroke-width="0.22">S2</text>
<text x="276.88" y="316.8" font-size="4.5" fill="#262626" transform="rotate(90 276.88 316.8)" textLength="2.16" lengthAdjust="spacingAndGlyphs" stroke="#262626" stroke-width="0.22">SS</text>
<text x="280.42" y="307.2" font-size="4.5" fill="#262626" transform="rotate(90 280.42 307.2)" textLength="3.96" lengthAdjust="spacingAndGlyphs" stroke="#262626" stroke-width="0.22">32</text>
<text x="280.42" y="312.6" font-size="4.5" fill="#262626" transform="rotate(90 280.42 312.6)" textLength="2.88" lengthAdjust="spacingAndGlyphs" stroke="#262626" stroke-width="0.22">22</text>
<text x="283.95" y="307.2" font-size="4.5" fill="#262626" transform="rotate(90 283.95 307.2)" textLength="3.96" lengthAdjust="spacingAndGlyphs" stroke="#262626" stroke-width="0.22">22</text>
<text x="283.95" y="312.6" font-size="4.5" fill="#262626" transform="rotate(90 283.95 312.6)" textLength="2.88" lengthAdjust="spacingAndGlyphs" stroke="#262626" stroke-width="0.22">SS</text>
<text x="287.48" y="307.2" font-size="4.5" fill="#262626" transform="rotate(90 287.48 307.2)" textLength="3.96" lengthAdjust="spacingAndGlyphs" stroke="#262626" stroke-width="0.22">27</text>
<text x="287.48" y="312.6" font-size="4.5" fill="#262626" transform="rotate(90 287.48 312.6)" textLength="2.88" lengthAdjust="spacingAndGlyphs" stroke="#262626" stroke-width="0.22">SS</text>
<text x="291.02" y="307.2" font-size="4.5" fill="#262626" transform="rotate(90 291.02 307.2)" textLength="3.96" lengthAdjust="spacingAndGlyphs" stroke="#262626" stroke-width="0.22">27</text>
<text x="291.02" y="312.6" font-size="4.5" fill="#262626" transform="rotate(90 291.02 312.6)" textLength="2.88" lengthAdjust="spacingAndGlyphs" stroke="#262626" stroke-width="0.22">22</text>
<text x="291.02" y="316.8" font-size="4.5" fill="#262626" transform="rotate(90 291.02 316.8)" textLength="2.16" lengthAdjust="spacingAndGlyphs" stroke="#262626" stroke-width="0.22">SS</text>
<text x="294.55" y="307.2" font-size="4.5" fill="#262626" transform="rotate(90 294.55 307.2)" textLength="3.96" lengthAdjust="spacingAndGlyphs" stroke="#262626" stroke-width="0.22">32</text>
<text x="294.55" y="312.6" font-size="4.5" fill="#262626" transform="rotate(90 294.55 312.6)" textLength="2.88" lengthAdjust="spacingAndGlyphs" stroke="#262626" stroke-width="0.22">22</text>
<text x="294.55" y="316.8" font-size="4.5" fill="#262626" transform="rotate(90 294.55 316.8)" textLength="2.16" lengthAdjust="spacingAndGlyphs" stroke="#262626" stroke-width="0.22">SS</text>
<text x="298.08" y="307.2" font-size="4.5" fill="#262626" transform="rotate(90 298.08 307.2)" textLength="3.96" lengthAdjust="spacingAndGlyphs" stroke="#262626" stroke-width="0.22">37</text>
<text x="298.08" y="312.6" font-size="4.5" fill="#262626" transform="rotate(90 298.08 312.6)" textLength="2.88" lengthAdjust="spacingAndGlyphs" stroke="#262626" stroke-width="0.22">ZZ</text>
<text x="298.08" y="316.8" font-size="4.5" fill="#262626" transform="rotate(90 298.08 316.8)" textLength="2.16" lengthAdjust="spacingAndGlyphs" stroke="#262626" stroke-width="0.22">SS</text>
<text x="301.62" y="307.2" font-size="4.5" fill="#262626" transform="rotate(90 301.62 307.2)" textLength="3.96" lengthAdjust="spacingAndGlyphs" stroke="#262626" stroke-width="0.22">22</text>
<text x="301.62" y="312.6" font-size="4.5" fill="#262626" transform="rotate(90 301.62 312.6)" textLength="2.88" lengthAdjust="spacingAndGlyphs" stroke="#262626" stroke-width="0.22">ZZ</text>
<text x="305.15" y="307.2" font-size="4.5" fill="#262626" transform="rotate(90 305.15 307.2)" textLength="3.96" lengthAdjust="spacingAndGlyphs" stroke="#262626" stroke-width="0.22">27</text>
<text x="305.15" y="312.6" font-size="4.5" fill="#262626" transform="rotate(90 305.15 312.6)" textLength="2.88" lengthAdjust="spacingAndGlyphs" stroke="#262626" stroke-width="0.22">S2</text>
<text x="308.68" y="307.2" font-size="4.5" fill="#262626" transform="rotate(90 308.68 307.2)" textLength="3.96" lengthAdjust="spacingAndGlyphs" stroke="#262626" stroke-width="0.22">32</text>
<text x="308.68" y="312.6" font-size="4.5" fill="#262626" transform="rotate(90 308.68 312.6)" textLength="2.88" lengthAdjust="spacingAndGlyphs" stroke="#262626" stroke-width="0.22">22</text>
<text x="312.22" y="307.2" font-size="4.5" fill="#262626" transform="rotate(90 312.22 307.2)" textLength="3.96" lengthAdjust="spacingAndGlyphs" stroke="#262626" stroke-width="0.22">22</text>
<text x="312.22" y="312.6" font-size="4.5" fill="#262626" transform="rotate(90 312.22 312.6)" textLength="2.88" lengthAdjust="spacingAndGlyphs" stroke="#262626" stroke-width="0.22">SS</text>
<text x="312.22" y="316.8" font-size="4.5" fill="#262626" transform="rotate(90 312.22 316.8)" textLength="2.16" lengthAdjust="spacingAndGlyphs" stroke="#262626" stroke-width="0.22">SS</text>
<text x="315.75" y="307.2" font-size="4.5" fill="#262626" transform="rotate(90 315.75 307.2)" textLength="3.96" lengthAdjust="spacingAndGlyphs" stroke="#262626" stroke-width="0.22">27</text>
<text x="315.75" y="312.6" font-size="4.5" fill="#262626" transform="rotate(90 315.75 312.6)" textLength="2.88" lengthAdjust="spacingAndGlyphs" stroke="#262626" stroke-width="0.22">SS</text>
<text x="315.75" y="316.8" font-size="4.5" fill="#262626" transform="rotate(90 315.75 316.8)" textLength="2.16" lengthAdjust="spacingAndGlyphs" stroke="#262626" stroke-width="0.22">SS</text>
<text x="319.28" y="307.2" font-size="4.5" fill="#262626" transform="rotate(90 319.28 307.2)" textLength="3.96" lengthAdjust="spacingAndGlyphs" stroke="#262626" stroke-width="0.22">27</text>
<text x="319.28" y="312.6" font-size="4.5" fill="#262626" transform="rotate(90 319.28 312.6)" textLength="2.88" lengthAdjust="spacingAndGlyphs" stroke="#262626" stroke-width="0.22">22</text>
<text x="319.28" y="316.8" font-size="4.5" fill="#262626" transform="rotate(90 319.28 316.8)" textLength="2.16" lengthAdjust="spacingAndGlyphs" stroke="#262626" stroke-width="0.22">SS</text>
<text x="322.82" y="307.2" font-size="4.5" fill="#262626" transform="rotate(90 322.82 307.2)" textLength="3.96" lengthAdjust="spacingAndGlyphs" stroke="#262626" stroke-width="0.22">32</text>
<text x="322.82" y="312.6" font-size="4.5" fill="#262626" transform="rotate(90 322.82 312.6)" textLength="2.88" lengthAdjust="spacingAndGlyphs" stroke="#262626" stroke-width="0.22">22</text>
<text x="326.35" y="307.2" font-size="4.5" fill="#262626" transform="rotate(90 326.35 307.2)" textLength="3.96" lengthAdjust="spacingAndGlyphs" stroke="#262626" stroke-width="0.22">37</text>
<text x="326.35" y="312.6" font-size="4.5" fill="#262626" transform="rotate(90 326.35 312.6)" textLength="2.88" lengthAdjust="spacingAndGlyphs" stroke="#262626" stroke-width="0.22">ZZ</text>
<text x="329.88" y="307.2" font-size="4.5" fill="#262626" transform="rotate(90 329.88 307.2)" textLength="3.96" lengthAdjust="spacingAndGlyphs" stroke="#262626" stroke-width="0.22">22</text>
<text x="329.88" y="312.6" font-size="4.5" fill="#262626" transform="rotate(90 329.88 312.6)" textLength="2.88" lengthAdjust="spacingAndGlyphs" stroke="#262626" stroke-width="0.22">ZZ</text>
<text x="333.42" y="307.2" font-size="4.5" fill="#262626" transform="rotate(90 333.42 307.2)" textLength="3.96" lengthAdjust="spacingAndGlyphs" stroke="#262626" stroke-width="0.22">27</text>
<text x="333.42" y="312.6" font-size="4.5" fill="#262626" transform="rotate(90 333.42 312.6)" textLength="2.88" lengthAdjust="spacingAndGlyphs" stroke="#262626" stroke-width="0.22">S2</text>
<text x="333.42" y="316.8" font-size="4.5" fill="#262626" transform="rotate(90 333.42 316.8)" textLength="2.16" lengthAdjust="spacingAndGlyphs" stroke="#262626" stroke-width="0.22">SS</text>
<text x="336.95" y="307.2" font-size="4.5" fill="#262626" transform="rotate(90 336.95 307.2)" textLength="3.96" lengthAdjust="spacingAndGlyphs" stroke="#262626" stroke-width="0.22">32</text>
<text x="336.95" y="312.6" font-size="4.5" fill="#262626" transform="rotate(90 336.95 312.6)" textLength="2.88" lengthAdjust="spacingAndGlyphs" stroke="#262626" stroke-width="0.22">22</text>
<text x="336.95" y="316.8" font-size="4.5" fill="#262626" transform="rotate(90 336.95 316.8)" textLength="2.16" lengthAdjust="spacingAndGlyphs" stroke="#262626" stroke-width="0.22">SS</text>
<text x="340.48" y="307.2" font-size="4.5" fill="#262626" transform="rotate(90 340.48 307.2)" textLength="3.96" lengthAdjust="spacingAndGlyphs" stroke="#262626" stroke-width="0.22">22</text>
<text x="340.48" y="312.6" font-size="4.5" fill="#262626" transform="rotate(90 340.48 312.6)" textLength="2.88" lengthAdjust="spacingAndGlyphs" stroke="#262626" stroke-width="0.22">SS</text>
<text x="340.48" y="316.8" font-size="4.5" fill="#262626" transform="rotate(90 340.48 316.8)" textLength="2.16" lengthAdjust="spacingAndGlyphs" stroke="#262626" stroke-width="0.22">SS</text>
<text x="344.02" y="307.2" font-size="4.5" fill="#262626" transform="rotate(90 344.02 307.2)" textLength="3.96" lengthAdjust="spacingAndGlyphs" stroke="#262626" stroke-width="0.22">27</text>
<text x="344.02" y="312.6" font-size="4.5" fill="#262626" transform="rotate(90 344.02 312.6)" textLength="2.88" lengthAdjust="spacingAndGlyphs" stroke="#262626" stroke-width="0.22">SS</text>
<text x="347.55" y="307.2" font-size="4.5" fill="#262626" transform="rotate(90 347.55 307.2)" textLength="3.96" lengthAdjust="spacingAndGlyphs" stroke="#262626" stroke-width="0.22">27</text>
<text x="347.55" y="312.6" font-size="4.5" fill="#262626" transform="rotate(90 347.55 312.6)" textLength="2.88" lengthAdjust="spacingAndGlyphs" stroke="#262626" stroke-width="0.22">22</text>
<text x="351.08" y="307.2" font-size="4.5" fill="#262626" transform="rotate(90 351.08 307.2)" textLength="3.96" lengthAdjust="spacingAndGlyphs" stroke="#262626" stroke-width="0.22">32</text>
<text x="351.08" y="312.6" font-size="4.5" fill="#262626" transform="rotate(90 351.08 312.6)" textLength="2.88" lengthAdjust="spacingAndGlyphs" stroke="#262626" stroke-width="0.22">22</text>
<text x="360.3" y="178.3" font-size="9.2" textLength="6.3" lengthAdjust="spacingAndGlyphs" stroke="#111" stroke-width="0.28">D</text>
<rect x="384.3" y="185.2" width="149.5" height="119.8" fill="none" stroke="#6a6a6a" stroke-width="0.9"/>
<path fill="none" stroke="#333" stroke-width="0.7" d="M384.3 305H382.2M384.3 287.89H382.2M384.3 270.77H382.2M384.3 253.66H382.2M384.3 236.54H382.2M384.3 219.43H382.2M384.3 202.31H382.2M384.3 185.2H382.2M384.3 296.44H383.2M384.3 279.33H383.2M384.3 262.21H383.2M384.3 245.1H383.2M384.3 227.99H383.2M384.3 210.87H383.2M384.3 193.76H383.2"/>
<text x="381.6" y="306.4" font-size="4.0" text-anchor="end" fill="#2a2a2a" textLength="7.7" lengthAdjust="spacingAndGlyphs" stroke="#2a2a2a" stroke-width="0.28">0.00</text>
<text x="381.6" y="289.29" font-size="4.0" text-anchor="end" fill="#2a2a2a" textLength="7.7" lengthAdjust="spacingAndGlyphs" stroke="#2a2a2a" stroke-width="0.28">0.05</text>
<text x="381.6" y="272.17" font-size="4.0" text-anchor="end" fill="#2a2a2a" textLength="7.7" lengthAdjust="spacingAndGlyphs" stroke="#2a2a2a" stroke-width="0.28">0.10</text>
<text x="381.6" y="255.06" font-size="4.0" text-anchor="end" fill="#2a2a2a" textLength="7.7" lengthAdjust="spacingAndGlyphs" stroke="#2a2a2a" stroke-width="0.28">0.15</text>
<text x="381.6" y="237.94" font-size="4.0" text-anchor="end" fill="#2a2a2a" textLength="7.7" lengthAdjust="spacingAndGlyphs" stroke="#2a2a2a" stroke-width="0.28">0.20</text>
<text x="381.6" y="220.83" font-size="4.0" text-anchor="end" fill="#2a2a2a" textLength="7.7" lengthAdjust="spacingAndGlyphs" stroke="#2a2a2a" stroke-width="0.28">0.25</text>
<text x="381.6" y="203.71" font-size="4.0" text-anchor="end" fill="#2a2a2a" textLength="7.7" lengthAdjust="spacingAndGlyphs" stroke="#2a2a2a" stroke-width="0.28">0.30</text>
<text x="381.6" y="186.6" font-size="4.0" text-anchor="end" fill="#2a2a2a" textLength="7.7" lengthAdjust="spacingAndGlyphs" stroke="#2a2a2a" stroke-width="0.28">0.35</text>
<path fill="none" stroke="#333" stroke-width="0.7" d="M533.8 305H535.9M533.8 265.07H535.9M533.8 225.13H535.9M533.8 185.2H535.9M533.8 285.03H534.9M533.8 245.1H534.9M533.8 205.17H534.9"/>
<text x="536.8" y="306.4" font-size="4.0" fill="#2a2a2a" textLength="2" lengthAdjust="spacingAndGlyphs" stroke="#2a2a2a" stroke-width="0.28">0</text>
<text x="536.8" y="266.47" font-size="4.0" fill="#2a2a2a" textLength="2" lengthAdjust="spacingAndGlyphs" stroke="#2a2a2a" stroke-width="0.28">2</text>
<text x="536.8" y="226.53" font-size="4.0" fill="#2a2a2a" textLength="2" lengthAdjust="spacingAndGlyphs" stroke="#2a2a2a" stroke-width="0.28">4</text>
<text x="536.8" y="186.6" font-size="4.0" fill="#2a2a2a" textLength="2" lengthAdjust="spacingAndGlyphs" stroke="#2a2a2a" stroke-width="0.28">6</text>
<text x="372.5" y="235.8" font-size="6.3" text-anchor="middle" transform="rotate(-90 372.5 235.8)" textLength="45.7" lengthAdjust="spacingAndGlyphs" stroke="#111" stroke-width="0.28">Acetic acid (g/kg)</text>
<text x="547" y="239" font-size="6.8" text-anchor="middle" transform="rotate(-90 547 239)" textLength="41.7" lengthAdjust="spacingAndGlyphs" stroke="#111" stroke-width="0.28">Acidity (mg/g)</text>
<path fill="#f6df70" stroke="#332e1e" stroke-width="1.55" d="M384.6 280.36h3.46v24.64h-3.46zM388.06 265.64h3.46v39.36h-3.46zM391.53 263.58h3.46v41.42h-3.46zM394.99 262.56h3.46v42.44h-3.46zM398.45 250.92h3.46v54.08h-3.46zM401.91 258.45h3.46v46.55h-3.46zM405.38 277.96h3.46v27.04h-3.46zM408.84 252.29h3.46v52.71h-3.46zM412.3 245.1h3.46v59.9h-3.46zM415.77 237.91h3.46v67.09h-3.46zM419.23 263.58h3.46v41.42h-3.46zM422.69 236.89h3.46v68.11h-3.46zM426.15 246.13h3.46v58.87h-3.46zM429.62 239.62h3.46v65.38h-3.46zM433.08 233.46h3.46v71.54h-3.46zM436.54 228.67h3.46v76.33h-3.46zM440 223.88h3.46v81.12h-3.46zM443.47 209.16h3.46v95.84h-3.46zM446.93 245.1h3.46v59.9h-3.46zM450.39 239.28h3.46v65.72h-3.46zM453.86 231.41h3.46v73.59h-3.46zM457.32 225.93h3.46v79.07h-3.46zM460.78 226.62h3.46v78.38h-3.46zM464.24 244.42h3.46v60.58h-3.46zM467.71 240.31h3.46v64.69h-3.46zM471.17 237.91h3.46v67.09h-3.46zM474.63 231.41h3.46v73.59h-3.46zM478.1 232.44h3.46v72.56h-3.46zM481.56 246.81h3.46v58.19h-3.46zM485.02 238.25h3.46v66.75h-3.46zM488.48 233.12h3.46v71.88h-3.46zM491.95 229.01h3.46v75.99h-3.46zM495.41 228.67h3.46v76.33h-3.46zM498.87 246.81h3.46v58.19h-3.46zM502.33 238.94h3.46v66.06h-3.46zM505.8 234.49h3.46v70.51h-3.46zM509.26 232.44h3.46v72.56h-3.46zM512.72 229.01h3.46v75.99h-3.46zM516.19 257.08h3.46v47.92h-3.46zM519.65 242.02h3.46v62.98h-3.46zM523.11 236.89h3.46v68.11h-3.46zM526.57 234.83h3.46v70.17h-3.46zM530.04 230.38h3.46v74.62h-3.46z"/>
<path fill="#8c7c3c" d="M384.95 280.36h2.76v8.56h-2.76zM388.41 265.64h2.76v16.43h-2.76zM391.88 263.58h2.76v12.32h-2.76zM395.34 262.56h2.76v7.53h-2.76zM398.8 250.92h2.76v4.11h-2.76zM402.26 258.45h2.76v37.65h-2.76zM405.73 277.96h2.76v10.95h-2.76zM409.19 252.29h2.76v13.69h-2.76zM412.65 245.1h2.76v14.03h-2.76zM416.12 237.91h2.76v9.93h-2.76zM419.58 263.58h2.76v9.93h-2.76zM423.04 236.89h2.76v21.91h-2.76zM426.5 246.13h2.76v23.62h-2.76zM429.97 239.62h2.76v5.82h-2.76zM433.43 233.46h2.76v2.4h-2.76zM436.89 228.67h2.76v1.71h-2.76zM440.35 223.88h2.76v2.4h-2.76zM443.82 209.16h2.76v10.95h-2.76zM447.28 245.1h2.76v26.36h-2.76zM450.74 239.28h2.76v3.08h-2.76zM454.21 231.41h2.76v3.42h-2.76zM457.67 225.93h2.76v7.19h-2.76zM461.13 226.62h2.76v2.4h-2.76zM464.59 244.42h2.76v15.4h-2.76zM468.06 240.31h2.76v4.79h-2.76zM471.52 237.91h2.76v2.05h-2.76zM474.98 231.41h2.76v5.13h-2.76zM478.45 232.44h2.76v7.53h-2.76zM481.91 246.81h2.76v11.3h-2.76zM485.37 238.25h2.76v6.16h-2.76zM488.83 233.12h2.76v3.42h-2.76zM492.3 229.01h2.76v4.79h-2.76zM495.76 228.67h2.76v7.87h-2.76zM499.22 246.81h2.76v3.42h-2.76zM502.68 238.94h2.76v5.13h-2.76zM506.15 234.49h2.76v5.48h-2.76zM509.61 232.44h2.76v4.11h-2.76zM513.07 229.01h2.76v2.74h-2.76zM516.54 257.08h2.76v7.53h-2.76zM520 242.02h2.76v1.37h-2.76zM523.46 236.89h2.76v3.08h-2.76zM526.92 234.83h2.76v5.13h-2.76zM530.39 230.38h2.76v6.16h-2.76z"/>
<path fill="none" stroke="#8a8a8a" stroke-width="0.7" d="M386.33 280.36V273.3M389.79 265.64V263.4M393.26 263.58V262M396.72 262.56V260M400.18 250.92V248M403.65 258.45V221.6M407.11 277.96V268.8M410.57 252.29V245.9M414.03 245.1V239.5M417.5 237.91V232.9M420.96 263.58V260M424.42 236.89V224.9M427.88 246.13V224.9M431.35 239.62V228M434.81 233.46V228M438.27 228.67V222M441.74 223.88V220M445.2 209.16V195.3M448.66 245.1V234M452.12 239.28V231M455.59 231.41V226M459.05 225.93V222M462.51 226.62V224M465.98 244.42V235M469.44 240.31V232M472.9 237.91V230M476.36 231.41V223.7M479.83 232.44V223.7M483.29 246.81V237M486.75 238.25V231M490.22 233.12V225M493.68 229.01V220M497.14 228.67V217.6M500.6 246.81V240M504.07 238.94V232M507.53 234.49V228M510.99 232.44V226M514.45 229.01V224M517.92 257.08V238M521.38 242.02V235M524.84 236.89V230M528.31 234.83V229M531.77 230.38V222"/>
<path fill="none" stroke="#222" stroke-width="0.7" d="M385.23 273.3H387.43M388.69 263.4H390.89M392.16 262H394.36M395.62 260H397.82M399.08 248H401.28M402.55 221.6H404.75M406.01 268.8H408.21M409.47 245.9H411.67M412.93 239.5H415.13M416.4 232.9H418.6M419.86 260H422.06M423.32 224.9H425.52M426.78 224.9H428.98M430.25 228H432.45M433.71 228H435.91M437.17 222H439.37M440.64 220H442.84M444.1 195.3H446.3M447.56 234H449.76M451.02 231H453.22M454.49 226H456.69M457.95 222H460.15M461.41 224H463.61M464.88 235H467.08M468.34 232H470.54M471.8 230H474M475.26 223.7H477.46M478.73 223.7H480.93M482.19 237H484.39M485.65 231H487.85M489.12 225H491.32M492.58 220H494.78M496.04 217.6H498.24M499.5 240H501.7M502.97 232H505.17M506.43 228H508.63M509.89 226H512.09M513.35 224H515.55M516.82 238H519.02M520.28 235H522.48M523.74 230H525.94M527.21 229H529.41M530.67 222H532.87"/>
<path fill="none" stroke="#1a1a1a" stroke-width="0.8" d="M384.6 280.36H388.06M388.06 265.64H391.53M391.53 263.58H394.99M394.99 262.56H398.45M398.45 250.92H401.91M401.91 258.45H405.38M405.38 277.96H408.84M408.84 252.29H412.3M412.3 245.1H415.77M415.77 237.91H419.23M419.23 263.58H422.69M422.69 236.89H426.15M426.15 246.13H429.62M429.62 239.62H433.08M433.08 233.46H436.54M436.54 228.67H440M440 223.88H443.47M443.47 209.16H446.93M446.93 245.1H450.39M450.39 239.28H453.86M453.86 231.41H457.32M457.32 225.93H460.78M460.78 226.62H464.24M464.24 244.42H467.71M467.71 240.31H471.17M471.17 237.91H474.63M474.63 231.41H478.1M478.1 232.44H481.56M481.56 246.81H485.02M485.02 238.25H488.48M488.48 233.12H491.95M491.95 229.01H495.41M495.41 228.67H498.87M498.87 246.81H502.33M502.33 238.94H505.8M505.8 234.49H509.26M509.26 232.44H512.72M512.72 229.01H516.19M516.19 257.08H519.65M519.65 242.02H523.11M523.11 236.89H526.57M526.57 234.83H530.04M530.04 230.38H533.5"/>
<path fill="none" stroke="#ec5a40" stroke-width="0.8" d="M386.33 286.8V297.8M385.13 286.8H387.53M385.13 297.8H387.53M389.79 275V286M388.59 275H390.99M388.59 286H390.99M393.26 271V282M392.06 271H394.46M392.06 282H394.46M396.72 268.5V279.5M395.52 268.5H397.92M395.52 279.5H397.92M400.18 263V274M398.98 263H401.38M398.98 274H401.38M403.65 267.5V278.5M402.45 267.5H404.85M402.45 278.5H404.85M407.11 282.5V293.5M405.91 282.5H408.31M405.91 293.5H408.31M410.57 254.5V265.5M409.37 254.5H411.77M409.37 265.5H411.77M414.03 249.5V260.5M412.83 249.5H415.23M412.83 260.5H415.23M417.5 242V253M416.3 242H418.7M416.3 253H418.7M420.96 262.5V273.5M419.76 262.5H422.16M419.76 273.5H422.16M424.42 251.5V262.5M423.22 251.5H425.62M423.22 262.5H425.62M427.88 245.9V256.9M426.68 245.9H429.08M426.68 256.9H429.08M431.35 236.2V247.2M430.15 236.2H432.55M430.15 247.2H432.55M434.81 229V240M433.61 229H436.01M433.61 240H436.01M438.27 224.2V235.2M437.07 224.2H439.47M437.07 235.2H439.47M441.74 217V228M440.54 217H442.94M440.54 228H442.94M445.2 205V216M444 205H446.4M444 216H446.4M448.66 234.3V245.3M447.46 234.3H449.86M447.46 245.3H449.86M452.12 224.5V235.5M450.92 224.5H453.32M450.92 235.5H453.32M455.59 218.5V229.5M454.39 218.5H456.79M454.39 229.5H456.79M459.05 211.5V222.5M457.85 211.5H460.25M457.85 222.5H460.25M462.51 208.1V219.1M461.31 208.1H463.71M461.31 219.1H463.71M465.98 214.5V225.5M464.78 214.5H467.18M464.78 225.5H467.18M469.44 215.5V226.5M468.24 215.5H470.64M468.24 226.5H470.64M472.9 212.5V223.5M471.7 212.5H474.1M471.7 223.5H474.1M476.36 205.5V216.5M475.16 205.5H477.56M475.16 216.5H477.56M479.83 200.7V211.7M478.63 200.7H481.03M478.63 211.7H481.03M483.29 207.5V218.5M482.09 207.5H484.49M482.09 218.5H484.49M486.75 211.2V222.2M485.55 211.2H487.95M485.55 222.2H487.95M490.22 208.6V219.6M489.02 208.6H491.42M489.02 219.6H491.42M493.68 201.5V212.5M492.48 201.5H494.88M492.48 212.5H494.88M497.14 198.3V209.3M495.94 198.3H498.34M495.94 209.3H498.34M500.6 210.9V221.9M499.4 210.9H501.8M499.4 221.9H501.8M504.07 205.9V216.9M502.87 205.9H505.27M502.87 216.9H505.27M507.53 202.1V213.1M506.33 202.1H508.73M506.33 213.1H508.73M510.99 198.3V209.3M509.79 198.3H512.19M509.79 209.3H512.19M514.45 195.8V206.8M513.25 195.8H515.65M513.25 206.8H515.65M517.92 212.1V223.1M516.72 212.1H519.12M516.72 223.1H519.12M521.38 209.6V220.6M520.18 209.6H522.58M520.18 220.6H522.58M524.84 208.4V219.4M523.64 208.4H526.04M523.64 219.4H526.04M528.31 205.9V216.9M527.11 205.9H529.51M527.11 216.9H529.51M531.77 199.5V210.5M530.57 199.5H532.97M530.57 210.5H532.97"/>
<polyline points="386.33,292.3 389.79,280.5 393.26,276.5 396.72,274 400.18,268.5 403.65,273 407.11,288 410.57,260 414.03,255 417.5,247.5 420.96,268 424.42,257 427.88,251.4 431.35,241.7 434.81,234.5 438.27,229.7 441.74,222.5 445.2,210.5 448.66,239.8 452.12,230 455.59,224 459.05,217 462.51,213.6 465.98,220 469.44,221 472.9,218 476.36,211 479.83,206.2 483.29,213 486.75,216.7 490.22,214.1 493.68,207 497.14,203.8 500.6,216.4 504.07,211.4 507.53,207.6 510.99,203.8 514.45,201.3 517.92,217.6 521.38,215.1 524.84,213.9 528.31,211.4 531.77,205" fill="none" stroke="#e0282a" stroke-width=".85"/>
<path fill="#e0282a" d="M385.53 291.5h1.6v1.6h-1.6zM388.99 279.7h1.6v1.6h-1.6zM392.46 275.7h1.6v1.6h-1.6zM395.92 273.2h1.6v1.6h-1.6zM399.38 267.7h1.6v1.6h-1.6zM402.85 272.2h1.6v1.6h-1.6zM406.31 287.2h1.6v1.6h-1.6zM409.77 259.2h1.6v1.6h-1.6zM413.23 254.2h1.6v1.6h-1.6zM416.7 246.7h1.6v1.6h-1.6zM420.16 267.2h1.6v1.6h-1.6zM423.62 256.2h1.6v1.6h-1.6zM427.08 250.6h1.6v1.6h-1.6zM430.55 240.9h1.6v1.6h-1.6zM434.01 233.7h1.6v1.6h-1.6zM437.47 228.9h1.6v1.6h-1.6zM440.94 221.7h1.6v1.6h-1.6zM444.4 209.7h1.6v1.6h-1.6zM447.86 239h1.6v1.6h-1.6zM451.32 229.2h1.6v1.6h-1.6zM454.79 223.2h1.6v1.6h-1.6zM458.25 216.2h1.6v1.6h-1.6zM461.71 212.8h1.6v1.6h-1.6zM465.18 219.2h1.6v1.6h-1.6zM468.64 220.2h1.6v1.6h-1.6zM472.1 217.2h1.6v1.6h-1.6zM475.56 210.2h1.6v1.6h-1.6zM479.03 205.4h1.6v1.6h-1.6zM482.49 212.2h1.6v1.6h-1.6zM485.95 215.9h1.6v1.6h-1.6zM489.42 213.3h1.6v1.6h-1.6zM492.88 206.2h1.6v1.6h-1.6zM496.34 203h1.6v1.6h-1.6zM499.8 215.6h1.6v1.6h-1.6zM503.27 210.6h1.6v1.6h-1.6zM506.73 206.8h1.6v1.6h-1.6zM510.19 203h1.6v1.6h-1.6zM513.65 200.5h1.6v1.6h-1.6zM517.12 216.8h1.6v1.6h-1.6zM520.58 214.3h1.6v1.6h-1.6zM524.04 213.1h1.6v1.6h-1.6zM527.51 210.6h1.6v1.6h-1.6zM530.97 204.2h1.6v1.6h-1.6z"/>
<rect x="388.8" y="189.3" width="52.6" height="13.8" fill="#fff" stroke="#555" stroke-width=".8"/>
<rect x="389.6" y="190.6" width="11.5" height="5.3" fill="#f0c850" stroke="#222" stroke-width=".6"/>
<path d="M389.6 199.3H401.1" stroke="#f07070" stroke-width=".9"/>
<text x="403.2" y="195.4" font-size="5.6" font-weight="normal" fill="#222" textLength="37.1" lengthAdjust="spacingAndGlyphs" stroke="#222" stroke-width=".15">Acetic acid (g/kg)</text>
<text x="403.2" y="201.7" font-size="5.6" font-weight="normal" fill="#222" textLength="30.6" lengthAdjust="spacingAndGlyphs" stroke="#222" stroke-width=".15">Acidity (mg/g)</text>
<path fill="none" stroke="#555" stroke-width="0.5" d="M386.33 305.6V307M389.79 305.6V307M393.26 305.6V307M396.72 305.6V307M400.18 305.6V307M403.65 305.6V307M407.11 305.6V307M410.57 305.6V307M414.03 305.6V307M417.5 305.6V307M420.96 305.6V307M424.42 305.6V307M427.88 305.6V307M431.35 305.6V307M434.81 305.6V307M438.27 305.6V307M441.74 305.6V307M445.2 305.6V307M448.66 305.6V307M452.12 305.6V307M455.59 305.6V307M459.05 305.6V307M462.51 305.6V307M465.98 305.6V307M469.44 305.6V307M472.9 305.6V307M476.36 305.6V307M479.83 305.6V307M483.29 305.6V307M486.75 305.6V307M490.22 305.6V307M493.68 305.6V307M497.14 305.6V307M500.6 305.6V307M504.07 305.6V307M507.53 305.6V307M510.99 305.6V307M514.45 305.6V307M517.92 305.6V307M521.38 305.6V307M524.84 305.6V307M528.31 305.6V307M531.77 305.6V307"/>
<text x="384.98" y="309.3" font-size="4.5" fill="#262626" transform="rotate(90 384.98 309.3)" textLength="3.96" lengthAdjust="spacingAndGlyphs" stroke="#262626" stroke-width="0.22">27</text>
<text x="384.98" y="314.7" font-size="4.5" fill="#262626" transform="rotate(90 384.98 314.7)" textLength="2.88" lengthAdjust="spacingAndGlyphs" stroke="#262626" stroke-width="0.22">22</text>
<text x="384.98" y="318.9" font-size="4.5" fill="#262626" transform="rotate(90 384.98 318.9)" textLength="2.16" lengthAdjust="spacingAndGlyphs" stroke="#262626" stroke-width="0.22">SS</text>
<text x="388.44" y="309.3" font-size="4.5" fill="#262626" transform="rotate(90 388.44 309.3)" textLength="3.96" lengthAdjust="spacingAndGlyphs" stroke="#262626" stroke-width="0.22">32</text>
<text x="388.44" y="314.7" font-size="4.5" fill="#262626" transform="rotate(90 388.44 314.7)" textLength="2.88" lengthAdjust="spacingAndGlyphs" stroke="#262626" stroke-width="0.22">22</text>
<text x="388.44" y="318.9" font-size="4.5" fill="#262626" transform="rotate(90 388.44 318.9)" textLength="2.16" lengthAdjust="spacingAndGlyphs" stroke="#262626" stroke-width="0.22">SS</text>
<text x="391.91" y="309.3" font-size="4.5" fill="#262626" transform="rotate(90 391.91 309.3)" textLength="3.96" lengthAdjust="spacingAndGlyphs" stroke="#262626" stroke-width="0.22">37</text>
<text x="391.91" y="314.7" font-size="4.5" fill="#262626" transform="rotate(90 391.91 314.7)" textLength="2.88" lengthAdjust="spacingAndGlyphs" stroke="#262626" stroke-width="0.22">ZZ</text>
<text x="391.91" y="318.9" font-size="4.5" fill="#262626" transform="rotate(90 391.91 318.9)" textLength="2.16" lengthAdjust="spacingAndGlyphs" stroke="#262626" stroke-width="0.22">SS</text>
<text x="395.37" y="309.3" font-size="4.5" fill="#262626" transform="rotate(90 395.37 309.3)" textLength="3.96" lengthAdjust="spacingAndGlyphs" stroke="#262626" stroke-width="0.22">22</text>
<text x="395.37" y="314.7" font-size="4.5" fill="#262626" transform="rotate(90 395.37 314.7)" textLength="2.88" lengthAdjust="spacingAndGlyphs" stroke="#262626" stroke-width="0.22">ZZ</text>
<text x="398.83" y="309.3" font-size="4.5" fill="#262626" transform="rotate(90 398.83 309.3)" textLength="3.96" lengthAdjust="spacingAndGlyphs" stroke="#262626" stroke-width="0.22">27</text>
<text x="398.83" y="314.7" font-size="4.5" fill="#262626" transform="rotate(90 398.83 314.7)" textLength="2.88" lengthAdjust="spacingAndGlyphs" stroke="#262626" stroke-width="0.22">S2</text>
<text x="402.3" y="309.3" font-size="4.5" fill="#262626" transform="rotate(90 402.3 309.3)" textLength="3.96" lengthAdjust="spacingAndGlyphs" stroke="#262626" stroke-width="0.22">32</text>
<text x="402.3" y="314.7" font-size="4.5" fill="#262626" transform="rotate(90 402.3 314.7)" textLength="2.88" lengthAdjust="spacingAndGlyphs" stroke="#262626" stroke-width="0.22">22</text>
<text x="405.76" y="309.3" font-size="4.5" fill="#262626" transform="rotate(90 405.76 309.3)" textLength="3.96" lengthAdjust="spacingAndGlyphs" stroke="#262626" stroke-width="0.22">22</text>
<text x="405.76" y="314.7" font-size="4.5" fill="#262626" transform="rotate(90 405.76 314.7)" textLength="2.88" lengthAdjust="spacingAndGlyphs" stroke="#262626" stroke-width="0.22">SS</text>
<text x="405.76" y="318.9" font-size="4.5" fill="#262626" transform="rotate(90 405.76 318.9)" textLength="2.16" lengthAdjust="spacingAndGlyphs" stroke="#262626" stroke-width="0.22">SS</text>
<text x="409.22" y="309.3" font-size="4.5" fill="#262626" transform="rotate(90 409.22 309.3)" textLength="3.96" lengthAdjust="spacingAndGlyphs" stroke="#262626" stroke-width="0.22">27</text>
<text x="409.22" y="314.7" font-size="4.5" fill="#262626" transform="rotate(90 409.22 314.7)" textLength="2.88" lengthAdjust="spacingAndGlyphs" stroke="#262626" stroke-width="0.22">SS</text>
<text x="409.22" y="318.9" font-size="4.5" fill="#262626" transform="rotate(90 409.22 318.9)" textLength="2.16" lengthAdjust="spacingAndGlyphs" stroke="#262626" stroke-width="0.22">SS</text>
<text x="412.68" y="309.3" font-size="4.5" fill="#262626" transform="rotate(90 412.68 309.3)" textLength="3.96" lengthAdjust="spacingAndGlyphs" stroke="#262626" stroke-width="0.22">27</text>
<text x="412.68" y="314.7" font-size="4.5" fill="#262626" transform="rotate(90 412.68 314.7)" textLength="2.88" lengthAdjust="spacingAndGlyphs" stroke="#262626" stroke-width="0.22">22</text>
<text x="412.68" y="318.9" font-size="4.5" fill="#262626" transform="rotate(90 412.68 318.9)" textLength="2.16" lengthAdjust="spacingAndGlyphs" stroke="#262626" stroke-width="0.22">SS</text>
<text x="416.15" y="309.3" font-size="4.5" fill="#262626" transform="rotate(90 416.15 309.3)" textLength="3.96" lengthAdjust="spacingAndGlyphs" stroke="#262626" stroke-width="0.22">32</text>
<text x="416.15" y="314.7" font-size="4.5" fill="#262626" transform="rotate(90 416.15 314.7)" textLength="2.88" lengthAdjust="spacingAndGlyphs" stroke="#262626" stroke-width="0.22">22</text>
<text x="419.61" y="309.3" font-size="4.5" fill="#262626" transform="rotate(90 419.61 309.3)" textLength="3.96" lengthAdjust="spacingAndGlyphs" stroke="#262626" stroke-width="0.22">37</text>
<text x="419.61" y="314.7" font-size="4.5" fill="#262626" transform="rotate(90 419.61 314.7)" textLength="2.88" lengthAdjust="spacingAndGlyphs" stroke="#262626" stroke-width="0.22">ZZ</text>
<text x="423.07" y="309.3" font-size="4.5" fill="#262626" transform="rotate(90 423.07 309.3)" textLength="3.96" lengthAdjust="spacingAndGlyphs" stroke="#262626" stroke-width="0.22">22</text>
<text x="423.07" y="314.7" font-size="4.5" fill="#262626" transform="rotate(90 423.07 314.7)" textLength="2.88" lengthAdjust="spacingAndGlyphs" stroke="#262626" stroke-width="0.22">ZZ</text>
<text x="426.53" y="309.3" font-size="4.5" fill="#262626" transform="rotate(90 426.53 309.3)" textLength="3.96" lengthAdjust="spacingAndGlyphs" stroke="#262626" stroke-width="0.22">27</text>
<text x="426.53" y="314.7" font-size="4.5" fill="#262626" transform="rotate(90 426.53 314.7)" textLength="2.88" lengthAdjust="spacingAndGlyphs" stroke="#262626" stroke-width="0.22">S2</text>
<text x="426.53" y="318.9" font-size="4.5" fill="#262626" transform="rotate(90 426.53 318.9)" textLength="2.16" lengthAdjust="spacingAndGlyphs" stroke="#262626" stroke-width="0.22">SS</text>
<text x="430" y="309.3" font-size="4.5" fill="#262626" transform="rotate(90 430 309.3)" textLength="3.96" lengthAdjust="spacingAndGlyphs" stroke="#262626" stroke-width="0.22">32</text>
<text x="430" y="314.7" font-size="4.5" fill="#262626" transform="rotate(90 430 314.7)" textLength="2.88" lengthAdjust="spacingAndGlyphs" stroke="#262626" stroke-width="0.22">22</text>
<text x="430" y="318.9" font-size="4.5" fill="#262626" transform="rotate(90 430 318.9)" textLength="2.16" lengthAdjust="spacingAndGlyphs" stroke="#262626" stroke-width="0.22">SS</text>
<text x="433.46" y="309.3" font-size="4.5" fill="#262626" transform="rotate(90 433.46 309.3)" textLength="3.96" lengthAdjust="spacingAndGlyphs" stroke="#262626" stroke-width="0.22">22</text>
<text x="433.46" y="314.7" font-size="4.5" fill="#262626" transform="rotate(90 433.46 314.7)" textLength="2.88" lengthAdjust="spacingAndGlyphs" stroke="#262626" stroke-width="0.22">SS</text>
<text x="433.46" y="318.9" font-size="4.5" fill="#262626" transform="rotate(90 433.46 318.9)" textLength="2.16" lengthAdjust="spacingAndGlyphs" stroke="#262626" stroke-width="0.22">SS</text>
<text x="436.92" y="309.3" font-size="4.5" fill="#262626" transform="rotate(90 436.92 309.3)" textLength="3.96" lengthAdjust="spacingAndGlyphs" stroke="#262626" stroke-width="0.22">27</text>
<text x="436.92" y="314.7" font-size="4.5" fill="#262626" transform="rotate(90 436.92 314.7)" textLength="2.88" lengthAdjust="spacingAndGlyphs" stroke="#262626" stroke-width="0.22">SS</text>
<text x="440.39" y="309.3" font-size="4.5" fill="#262626" transform="rotate(90 440.39 309.3)" textLength="3.96" lengthAdjust="spacingAndGlyphs" stroke="#262626" stroke-width="0.22">27</text>
<text x="440.39" y="314.7" font-size="4.5" fill="#262626" transform="rotate(90 440.39 314.7)" textLength="2.88" lengthAdjust="spacingAndGlyphs" stroke="#262626" stroke-width="0.22">22</text>
<text x="443.85" y="309.3" font-size="4.5" fill="#262626" transform="rotate(90 443.85 309.3)" textLength="3.96" lengthAdjust="spacingAndGlyphs" stroke="#262626" stroke-width="0.22">32</text>
<text x="443.85" y="314.7" font-size="4.5" fill="#262626" transform="rotate(90 443.85 314.7)" textLength="2.88" lengthAdjust="spacingAndGlyphs" stroke="#262626" stroke-width="0.22">22</text>
<text x="447.31" y="309.3" font-size="4.5" fill="#262626" transform="rotate(90 447.31 309.3)" textLength="3.96" lengthAdjust="spacingAndGlyphs" stroke="#262626" stroke-width="0.22">37</text>
<text x="447.31" y="314.7" font-size="4.5" fill="#262626" transform="rotate(90 447.31 314.7)" textLength="2.88" lengthAdjust="spacingAndGlyphs" stroke="#262626" stroke-width="0.22">ZZ</text>
<text x="447.31" y="318.9" font-size="4.5" fill="#262626" transform="rotate(90 447.31 318.9)" textLength="2.16" lengthAdjust="spacingAndGlyphs" stroke="#262626" stroke-width="0.22">SS</text>
<text x="450.77" y="309.3" font-size="4.5" fill="#262626" transform="rotate(90 450.77 309.3)" textLength="3.96" lengthAdjust="spacingAndGlyphs" stroke="#262626" stroke-width="0.22">22</text>
<text x="450.77" y="314.7" font-size="4.5" fill="#262626" transform="rotate(90 450.77 314.7)" textLength="2.88" lengthAdjust="spacingAndGlyphs" stroke="#262626" stroke-width="0.22">ZZ</text>
<text x="450.77" y="318.9" font-size="4.5" fill="#262626" transform="rotate(90 450.77 318.9)" textLength="2.16" lengthAdjust="spacingAndGlyphs" stroke="#262626" stroke-width="0.22">SS</text>
<text x="454.24" y="309.3" font-size="4.5" fill="#262626" transform="rotate(90 454.24 309.3)" textLength="3.96" lengthAdjust="spacingAndGlyphs" stroke="#262626" stroke-width="0.22">27</text>
<text x="454.24" y="314.7" font-size="4.5" fill="#262626" transform="rotate(90 454.24 314.7)" textLength="2.88" lengthAdjust="spacingAndGlyphs" stroke="#262626" stroke-width="0.22">S2</text>
<text x="454.24" y="318.9" font-size="4.5" fill="#262626" transform="rotate(90 454.24 318.9)" textLength="2.16" lengthAdjust="spacingAndGlyphs" stroke="#262626" stroke-width="0.22">SS</text>
<text x="457.7" y="309.3" font-size="4.5" fill="#262626" transform="rotate(90 457.7 309.3)" textLength="3.96" lengthAdjust="spacingAndGlyphs" stroke="#262626" stroke-width="0.22">32</text>
<text x="457.7" y="314.7" font-size="4.5" fill="#262626" transform="rotate(90 457.7 314.7)" textLength="2.88" lengthAdjust="spacingAndGlyphs" stroke="#262626" stroke-width="0.22">22</text>
<text x="461.16" y="309.3" font-size="4.5" fill="#262626" transform="rotate(90 461.16 309.3)" textLength="3.96" lengthAdjust="spacingAndGlyphs" stroke="#262626" stroke-width="0.22">22</text>
<text x="461.16" y="314.7" font-size="4.5" fill="#262626" transform="rotate(90 461.16 314.7)" textLength="2.88" lengthAdjust="spacingAndGlyphs" stroke="#262626" stroke-width="0.22">SS</text>
<text x="464.63" y="309.3" font-size="4.5" fill="#262626" transform="rotate(90 464.63 309.3)" textLength="3.96" lengthAdjust="spacingAndGlyphs" stroke="#262626" stroke-width="0.22">27</text>
<text x="464.63" y="314.7" font-size="4.5" fill="#262626" transform="rotate(90 464.63 314.7)" textLength="2.88" lengthAdjust="spacingAndGlyphs" stroke="#262626" stroke-width="0.22">SS</text>
<text x="468.09" y="309.3" font-size="4.5" fill="#262626" transform="rotate(90 468.09 309.3)" textLength="3.96" lengthAdjust="spacingAndGlyphs" stroke="#262626" stroke-width="0.22">27</text>
<text x="468.09" y="314.7" font-size="4.5" fill="#262626" transform="rotate(90 468.09 314.7)" textLength="2.88" lengthAdjust="spacingAndGlyphs" stroke="#262626" stroke-width="0.22">22</text>
<text x="468.09" y="318.9" font-size="4.5" fill="#262626" transform="rotate(90 468.09 318.9)" textLength="2.16" lengthAdjust="spacingAndGlyphs" stroke="#262626" stroke-width="0.22">SS</text>
<text x="471.55" y="309.3" font-size="4.5" fill="#262626" transform="rotate(90 471.55 309.3)" textLength="3.96" lengthAdjust="spacingAndGlyphs" stroke="#262626" stroke-width="0.22">32</text>
<text x="471.55" y="314.7" font-size="4.5" fill="#262626" transform="rotate(90 471.55 314.7)" textLength="2.88" lengthAdjust="spacingAndGlyphs" stroke="#262626" stroke-width="0.22">22</text>
<text x="471.55" y="318.9" font-size="4.5" fill="#262626" transform="rotate(90 471.55 318.9)" textLength="2.16" lengthAdjust="spacingAndGlyphs" stroke="#262626" stroke-width="0.22">SS</text>
<text x="475.01" y="309.3" font-size="4.5" fill="#262626" transform="rotate(90 475.01 309.3)" textLength="3.96" lengthAdjust="spacingAndGlyphs" stroke="#262626" stroke-width="0.22">37</text>
<text x="475.01" y="314.7" font-size="4.5" fill="#262626" transform="rotate(90 475.01 314.7)" textLength="2.88" lengthAdjust="spacingAndGlyphs" stroke="#262626" stroke-width="0.22">ZZ</text>
<text x="475.01" y="318.9" font-size="4.5" fill="#262626" transform="rotate(90 475.01 318.9)" textLength="2.16" lengthAdjust="spacingAndGlyphs" stroke="#262626" stroke-width="0.22">SS</text>
<text x="478.48" y="309.3" font-size="4.5" fill="#262626" transform="rotate(90 478.48 309.3)" textLength="3.96" lengthAdjust="spacingAndGlyphs" stroke="#262626" stroke-width="0.22">22</text>
<text x="478.48" y="314.7" font-size="4.5" fill="#262626" transform="rotate(90 478.48 314.7)" textLength="2.88" lengthAdjust="spacingAndGlyphs" stroke="#262626" stroke-width="0.22">ZZ</text>
<text x="481.94" y="309.3" font-size="4.5" fill="#262626" transform="rotate(90 481.94 309.3)" textLength="3.96" lengthAdjust="spacingAndGlyphs" stroke="#262626" stroke-width="0.22">27</text>
<text x="481.94" y="314.7" font-size="4.5" fill="#262626" transform="rotate(90 481.94 314.7)" textLength="2.88" lengthAdjust="spacingAndGlyphs" stroke="#262626" stroke-width="0.22">S2</text>
<text x="485.4" y="309.3" font-size="4.5" fill="#262626" transform="rotate(90 485.4 309.3)" textLength="3.96" lengthAdjust="spacingAndGlyphs" stroke="#262626" stroke-width="0.22">32</text>
<text x="485.4" y="314.7" font-size="4.5" fill="#262626" transform="rotate(90 485.4 314.7)" textLength="2.88" lengthAdjust="spacingAndGlyphs" stroke="#262626" stroke-width="0.22">22</text>
<text x="488.87" y="309.3" font-size="4.5" fill="#262626" transform="rotate(90 488.87 309.3)" textLength="3.96" lengthAdjust="spacingAndGlyphs" stroke="#262626" stroke-width="0.22">22</text>
<text x="488.87" y="314.7" font-size="4.5" fill="#262626" transform="rotate(90 488.87 314.7)" textLength="2.88" lengthAdjust="spacingAndGlyphs" stroke="#262626" stroke-width="0.22">SS</text>
<text x="488.87" y="318.9" font-size="4.5" fill="#262626" transform="rotate(90 488.87 318.9)" textLength="2.16" lengthAdjust="spacingAndGlyphs" stroke="#262626" stroke-width="0.22">SS</text>
<text x="492.33" y="309.3" font-size="4.5" fill="#262626" transform="rotate(90 492.33 309.3)" textLength="3.96" lengthAdjust="spacingAndGlyphs" stroke="#262626" stroke-width="0.22">27</text>
<text x="492.33" y="314.7" font-size="4.5" fill="#262626" transform="rotate(90 492.33 314.7)" textLength="2.88" lengthAdjust="spacingAndGlyphs" stroke="#262626" stroke-width="0.22">SS</text>
<text x="492.33" y="318.9" font-size="4.5" fill="#262626" transform="rotate(90 492.33 318.9)" textLength="2.16" lengthAdjust="spacingAndGlyphs" stroke="#262626" stroke-width="0.22">SS</text>
<text x="495.79" y="309.3" font-size="4.5" fill="#262626" transform="rotate(90 495.79 309.3)" textLength="3.96" lengthAdjust="spacingAndGlyphs" stroke="#262626" stroke-width="0.22">27</text>
<text x="495.79" y="314.7" font-size="4.5" fill="#262626" transform="rotate(90 495.79 314.7)" textLength="2.88" lengthAdjust="spacingAndGlyphs" stroke="#262626" stroke-width="0.22">22</text>
<text x="495.79" y="318.9" font-size="4.5" fill="#262626" transform="rotate(90 495.79 318.9)" textLength="2.16" lengthAdjust="spacingAndGlyphs" stroke="#262626" stroke-width="0.22">SS</text>
<text x="499.25" y="309.3" font-size="4.5" fill="#262626" transform="rotate(90 499.25 309.3)" textLength="3.96" lengthAdjust="spacingAndGlyphs" stroke="#262626" stroke-width="0.22">32</text>
<text x="499.25" y="314.7" font-size="4.5" fill="#262626" transform="rotate(90 499.25 314.7)" textLength="2.88" lengthAdjust="spacingAndGlyphs" stroke="#262626" stroke-width="0.22">22</text>
<text x="502.72" y="309.3" font-size="4.5" fill="#262626" transform="rotate(90 502.72 309.3)" textLength="3.96" lengthAdjust="spacingAndGlyphs" stroke="#262626" stroke-width="0.22">37</text>
<text x="502.72" y="314.7" font-size="4.5" fill="#262626" transform="rotate(90 502.72 314.7)" textLength="2.88" lengthAdjust="spacingAndGlyphs" stroke="#262626" stroke-width="0.22">ZZ</text>
<text x="506.18" y="309.3" font-size="4.5" fill="#262626" transform="rotate(90 506.18 309.3)" textLength="3.96" lengthAdjust="spacingAndGlyphs" stroke="#262626" stroke-width="0.22">22</text>
<text x="506.18" y="314.7" font-size="4.5" fill="#262626" transform="rotate(90 506.18 314.7)" textLength="2.88" lengthAdjust="spacingAndGlyphs" stroke="#262626" stroke-width="0.22">ZZ</text>
<text x="509.64" y="309.3" font-size="4.5" fill="#262626" transform="rotate(90 509.64 309.3)" textLength="3.96" lengthAdjust="spacingAndGlyphs" stroke="#262626" stroke-width="0.22">27</text>
<text x="509.64" y="314.7" font-size="4.5" fill="#262626" transform="rotate(90 509.64 314.7)" textLength="2.88" lengthAdjust="spacingAndGlyphs" stroke="#262626" stroke-width="0.22">S2</text>
<text x="509.64" y="318.9" font-size="4.5" fill="#262626" transform="rotate(90 509.64 318.9)" textLength="2.16" lengthAdjust="spacingAndGlyphs" stroke="#262626" stroke-width="0.22">SS</text>
<text x="513.1" y="309.3" font-size="4.5" fill="#262626" transform="rotate(90 513.1 309.3)" textLength="3.96" lengthAdjust="spacingAndGlyphs" stroke="#262626" stroke-width="0.22">32</text>
<text x="513.1" y="314.7" font-size="4.5" fill="#262626" transform="rotate(90 513.1 314.7)" textLength="2.88" lengthAdjust="spacingAndGlyphs" stroke="#262626" stroke-width="0.22">22</text>
<text x="513.1" y="318.9" font-size="4.5" fill="#262626" transform="rotate(90 513.1 318.9)" textLength="2.16" lengthAdjust="spacingAndGlyphs" stroke="#262626" stroke-width="0.22">SS</text>
<text x="516.57" y="309.3" font-size="4.5" fill="#262626" transform="rotate(90 516.57 309.3)" textLength="3.96" lengthAdjust="spacingAndGlyphs" stroke="#262626" stroke-width="0.22">22</text>
<text x="516.57" y="314.7" font-size="4.5" fill="#262626" transform="rotate(90 516.57 314.7)" textLength="2.88" lengthAdjust="spacingAndGlyphs" stroke="#262626" stroke-width="0.22">SS</text>
<text x="516.57" y="318.9" font-size="4.5" fill="#262626" transform="rotate(90 516.57 318.9)" textLength="2.16" lengthAdjust="spacingAndGlyphs" stroke="#262626" stroke-width="0.22">SS</text>
<text x="520.03" y="309.3" font-size="4.5" fill="#262626" transform="rotate(90 520.03 309.3)" textLength="3.96" lengthAdjust="spacingAndGlyphs" stroke="#262626" stroke-width="0.22">27</text>
<text x="520.03" y="314.7" font-size="4.5" fill="#262626" transform="rotate(90 520.03 314.7)" textLength="2.88" lengthAdjust="spacingAndGlyphs" stroke="#262626" stroke-width="0.22">SS</text>
<text x="523.49" y="309.3" font-size="4.5" fill="#262626" transform="rotate(90 523.49 309.3)" textLength="3.96" lengthAdjust="spacingAndGlyphs" stroke="#262626" stroke-width="0.22">27</text>
<text x="523.49" y="314.7" font-size="4.5" fill="#262626" transform="rotate(90 523.49 314.7)" textLength="2.88" lengthAdjust="spacingAndGlyphs" stroke="#262626" stroke-width="0.22">22</text>
<text x="526.96" y="309.3" font-size="4.5" fill="#262626" transform="rotate(90 526.96 309.3)" textLength="3.96" lengthAdjust="spacingAndGlyphs" stroke="#262626" stroke-width="0.22">32</text>
<text x="526.96" y="314.7" font-size="4.5" fill="#262626" transform="rotate(90 526.96 314.7)" textLength="2.88" lengthAdjust="spacingAndGlyphs" stroke="#262626" stroke-width="0.22">22</text>
<text x="530.42" y="309.3" font-size="4.5" fill="#262626" transform="rotate(90 530.42 309.3)" textLength="3.96" lengthAdjust="spacingAndGlyphs" stroke="#262626" stroke-width="0.22">37</text>
<text x="530.42" y="314.7" font-size="4.5" fill="#262626" transform="rotate(90 530.42 314.7)" textLength="2.88" lengthAdjust="spacingAndGlyphs" stroke="#262626" stroke-width="0.22">ZZ</text>
<text x="530.42" y="318.9" font-size="4.5" fill="#262626" transform="rotate(90 530.42 318.9)" textLength="2.16" lengthAdjust="spacingAndGlyphs" stroke="#262626" stroke-width="0.22">SS</text>
<text x="7.9" y="338.8" font-size="9.2" textLength="6" lengthAdjust="spacingAndGlyphs" stroke="#111" stroke-width="0.28">E</text>
<rect x="24.3" y="342" width="148.5" height="119.8" fill="none" stroke="#6a6a6a" stroke-width="0.9"/>
<path fill="none" stroke="#333" stroke-width="0.7" d="M24.3 461.8H22.2M24.3 437.84H22.2M24.3 413.88H22.2M24.3 389.92H22.2M24.3 365.96H22.2M24.3 342H22.2M24.3 449.82H23.2M24.3 425.86H23.2M24.3 401.9H23.2M24.3 377.94H23.2M24.3 353.98H23.2"/>
<text x="22.7" y="463.2" font-size="4.2" text-anchor="end" fill="#2a2a2a" textLength="2.1" lengthAdjust="spacingAndGlyphs" stroke="#2a2a2a" stroke-width="0.28">0</text>
<text x="22.7" y="439.24" font-size="4.2" text-anchor="end" fill="#2a2a2a" textLength="4.2" lengthAdjust="spacingAndGlyphs" stroke="#2a2a2a" stroke-width="0.28">10</text>
<text x="22.7" y="415.28" font-size="4.2" text-anchor="end" fill="#2a2a2a" textLength="4.2" lengthAdjust="spacingAndGlyphs" stroke="#2a2a2a" stroke-width="0.28">20</text>
<text x="22.7" y="391.32" font-size="4.2" text-anchor="end" fill="#2a2a2a" textLength="4.2" lengthAdjust="spacingAndGlyphs" stroke="#2a2a2a" stroke-width="0.28">30</text>
<text x="22.7" y="367.36" font-size="4.2" text-anchor="end" fill="#2a2a2a" textLength="4.2" lengthAdjust="spacingAndGlyphs" stroke="#2a2a2a" stroke-width="0.28">40</text>
<text x="22.7" y="343.4" font-size="4.2" text-anchor="end" fill="#2a2a2a" textLength="4.2" lengthAdjust="spacingAndGlyphs" stroke="#2a2a2a" stroke-width="0.28">50</text>
<path fill="none" stroke="#333" stroke-width="0.7" d="M172.8 449.5H174.9M172.8 425.6H174.9M172.8 401.7H174.9M172.8 377.8H174.9M172.8 353.9H174.9M172.8 437.55H173.9M172.8 413.65H173.9M172.8 389.75H173.9M172.8 365.85H173.9M172.8 341.95H173.9"/>
<text x="175.8" y="450.9" font-size="4.2" fill="#2a2a2a" textLength="2" lengthAdjust="spacingAndGlyphs" stroke="#2a2a2a" stroke-width="0.28">0</text>
<text x="175.8" y="427" font-size="4.2" fill="#2a2a2a" textLength="2" lengthAdjust="spacingAndGlyphs" stroke="#2a2a2a" stroke-width="0.28">1</text>
<text x="175.8" y="403.1" font-size="4.2" fill="#2a2a2a" textLength="2" lengthAdjust="spacingAndGlyphs" stroke="#2a2a2a" stroke-width="0.28">2</text>
<text x="175.8" y="379.2" font-size="4.2" fill="#2a2a2a" textLength="2" lengthAdjust="spacingAndGlyphs" stroke="#2a2a2a" stroke-width="0.28">3</text>
<text x="175.8" y="355.3" font-size="4.2" fill="#2a2a2a" textLength="2" lengthAdjust="spacingAndGlyphs" stroke="#2a2a2a" stroke-width="0.28">4</text>
<text x="14.5" y="397" font-size="6.8" text-anchor="middle" transform="rotate(-90 14.5 397)" textLength="32.3" lengthAdjust="spacingAndGlyphs" stroke="#111" stroke-width="0.28">Starch (%)</text>
<path fill="#faec78" stroke="#332e1e" stroke-width="1.5" d="M24.6 363.8h3.44v98h-3.44zM28.04 370.75h3.44v91.05h-3.44zM31.48 372.19h3.44v89.61h-3.44zM34.92 372.91h3.44v88.89h-3.44zM38.36 373.39h3.44v88.41h-3.44zM41.8 368.36h3.44v93.44h-3.44zM45.24 374.59h3.44v87.21h-3.44zM48.68 379.86h3.44v81.94h-3.44zM52.12 380.82h3.44v80.98h-3.44zM55.56 382.25h3.44v79.55h-3.44zM59 372.91h3.44v88.89h-3.44zM62.43 382.49h3.44v79.31h-3.44zM65.87 383.45h3.44v78.35h-3.44zM69.31 389.2h3.44v72.6h-3.44zM72.75 393.03h3.44v68.77h-3.44zM76.19 393.99h3.44v67.81h-3.44zM79.63 394.95h3.44v66.85h-3.44zM83.07 395.43h3.44v66.37h-3.44zM86.51 396.39h3.44v65.41h-3.44zM89.95 398.55h3.44v63.25h-3.44zM93.39 400.46h3.44v61.34h-3.44zM96.83 401.42h3.44v60.38h-3.44zM100.27 403.34h3.44v58.46h-3.44zM103.71 403.82h3.44v57.98h-3.44zM107.15 412.92h3.44v48.88h-3.44zM110.59 413.64h3.44v48.16h-3.44zM114.03 415.08h3.44v46.72h-3.44zM117.47 414.84h3.44v46.96h-3.44zM120.91 413.88h3.44v47.92h-3.44zM124.35 422.27h3.44v39.53h-3.44zM127.79 423.7h3.44v38.1h-3.44zM131.23 424.9h3.44v36.9h-3.44zM134.67 425.14h3.44v36.66h-3.44zM138.1 426.1h3.44v35.7h-3.44zM141.54 428.02h3.44v33.78h-3.44zM144.98 430.89h3.44v30.91h-3.44zM148.42 429.93h3.44v31.87h-3.44zM151.86 430.41h3.44v31.39h-3.44zM155.3 427.06h3.44v34.74h-3.44zM158.74 430.41h3.44v31.39h-3.44zM162.18 430.89h3.44v30.91h-3.44zM165.62 431.85h3.44v29.95h-3.44zM169.06 431.85h3.44v29.95h-3.44z"/>
<path fill="#8c7c3c" d="M24.95 363.8h2.74v1.44h-2.74zM42.15 368.36h2.74v9.34h-2.74zM69.66 389.2h2.74v1.92h-2.74zM83.42 395.43h2.74v1.68h-2.74zM86.86 396.39h2.74v2.4h-2.74zM97.18 401.42h2.74v1.44h-2.74zM107.5 412.92h2.74v1.44h-2.74zM121.26 413.88h2.74v1.92h-2.74zM155.65 427.06h2.74v1.44h-2.74z"/>
<path fill="none" stroke="#555" stroke-width="0.7" d="M26.32 363.8V362.37M29.76 370.75V369.31M33.2 372.19V370.75M36.64 372.91V371.47M40.08 373.39V371.95M43.52 368.36V357.7M46.96 374.59V373.15M50.4 379.86V378.42M53.84 380.82V379.38M57.28 382.25V380.82M60.72 372.91V371.47M64.15 382.49V381.05M67.59 383.45V382.01M71.03 389.2V387.76M74.47 393.03V391.6M77.91 393.99V392.56M81.35 394.95V393.51M84.79 395.43V393.99M88.23 396.39V394.95M91.67 398.55V397.11M95.11 400.46V399.02M98.55 401.42V399.98M101.99 403.34V401.9M105.43 403.82V402.38M108.87 412.92V411.48M112.31 413.64V412.2M115.75 415.08V413.64M119.19 414.84V413.4M122.63 413.88V412.44M126.07 422.27V420.83M129.51 423.7V422.27M132.95 424.9V423.46M136.38 425.14V423.7M139.82 426.1V424.66M143.26 428.02V426.58M146.7 430.89V429.45M150.14 429.93V428.5M153.58 430.41V428.97M157.02 427.06V425.62M160.46 430.41V428.97M163.9 430.89V429.45M167.34 431.85V430.41M170.78 431.85V430.41"/>
<path fill="none" stroke="#222" stroke-width="0.7" d="M25.22 362.37H27.42M28.66 369.31H30.86M32.1 370.75H34.3M35.54 371.47H37.74M38.98 371.95H41.18M42.42 357.7H44.62M45.86 373.15H48.06M49.3 378.42H51.5M52.74 379.38H54.94M56.18 380.82H58.38M59.62 371.47H61.82M63.05 381.05H65.25M66.49 382.01H68.69M69.93 387.76H72.13M73.37 391.6H75.57M76.81 392.56H79.01M80.25 393.51H82.45M83.69 393.99H85.89M87.13 394.95H89.33M90.57 397.11H92.77M94.01 399.02H96.21M97.45 399.98H99.65M100.89 401.9H103.09M104.33 402.38H106.53M107.77 411.48H109.97M111.21 412.2H113.41M114.65 413.64H116.85M118.09 413.4H120.29M121.53 412.44H123.73M124.97 420.83H127.17M128.41 422.27H130.61M131.85 423.46H134.05M135.28 423.7H137.48M138.72 424.66H140.92M142.16 426.58H144.36M145.6 429.45H147.8M149.04 428.5H151.24M152.48 428.97H154.68M155.92 425.62H158.12M159.36 428.97H161.56M162.8 429.45H165M166.24 430.41H168.44M169.68 430.41H171.88"/>
<path fill="none" stroke="#1a1a1a" stroke-width="0.8" d="M24.6 363.8H28.04M28.04 370.75H31.48M31.48 372.19H34.92M34.92 372.91H38.36M38.36 373.39H41.8M41.8 368.36H45.24M45.24 374.59H48.68M48.68 379.86H52.12M52.12 380.82H55.56M55.56 382.25H59M59 372.91H62.43M62.43 382.49H65.87M65.87 383.45H69.31M69.31 389.2H72.75M72.75 393.03H76.19M76.19 393.99H79.63M79.63 394.95H83.07M83.07 395.43H86.51M86.51 396.39H89.95M89.95 398.55H93.39M93.39 400.46H96.83M96.83 401.42H100.27M100.27 403.34H103.71M103.71 403.82H107.15M107.15 412.92H110.59M110.59 413.64H114.03M114.03 415.08H117.47M117.47 414.84H120.91M120.91 413.88H124.35M124.35 422.27H127.79M127.79 423.7H131.23M131.23 424.9H134.67M134.67 425.14H138.1M138.1 426.1H141.54M141.54 428.02H144.98M144.98 430.89H148.42M148.42 429.93H151.86M151.86 430.41H155.3M155.3 427.06H158.74M158.74 430.41H162.18M162.18 430.89H165.62M165.62 431.85H169.06M169.06 431.85H172.5"/>
<path fill="none" stroke="#ec5a40" stroke-width="0.8" d="M26.32 420V428M25.12 420H27.52M25.12 428H27.52M29.76 424.8V434.8M28.56 424.8H30.96M28.56 434.8H30.96M33.2 428.1V438.1M32 428.1H34.4M32 438.1H34.4M36.64 427.4V445.4M35.44 427.4H37.84M35.44 445.4H37.84M40.08 429.8V439.8M38.88 429.8H41.28M38.88 439.8H41.28M43.52 401.2V445.2M42.32 401.2H44.72M42.32 445.2H44.72M46.96 388.1V420.1M45.76 388.1H48.16M45.76 420.1H48.16M50.4 401.9V417.9M49.2 401.9H51.6M49.2 417.9H51.6M53.84 404.9V424.9M52.64 404.9H55.04M52.64 424.9H55.04M57.28 407.8V431.8M56.08 407.8H58.48M56.08 431.8H58.48M60.72 432.5V444.5M59.52 432.5H61.92M59.52 444.5H61.92M64.15 408.6V428.6M62.95 408.6H65.35M62.95 428.6H65.35M67.59 356.5V398.5M66.39 356.5H68.79M66.39 398.5H68.79M71.03 384.4V400.4M69.83 384.4H72.23M69.83 400.4H72.23M74.47 401.3V413.3M73.27 401.3H75.67M73.27 413.3H75.67M77.91 415.4V425.4M76.71 415.4H79.11M76.71 425.4H79.11M81.35 423.8V435.8M80.15 423.8H82.55M80.15 435.8H82.55M84.79 421V433M83.59 421H85.99M83.59 433H85.99M88.23 388.5V422.5M87.03 388.5H89.43M87.03 422.5H89.43M91.67 389.1V405.1M90.47 389.1H92.87M90.47 405.1H92.87M95.11 394.7V410.7M93.91 394.7H96.31M93.91 410.7H96.31M98.55 396.5V414.5M97.35 396.5H99.75M97.35 414.5H99.75M101.99 391.8V409.8M100.79 391.8H103.19M100.79 409.8H103.19M105.43 389.6V417.6M104.23 389.6H106.63M104.23 417.6H106.63M108.87 411.3V418.3M107.67 411.3H110.07M107.67 418.3H110.07M112.31 413.2V420.2M111.11 413.2H113.51M111.11 420.2H113.51M115.75 414.1V421.1M114.55 414.1H116.95M114.55 421.1H116.95M119.19 410.4V417.4M117.99 410.4H120.39M117.99 417.4H120.39M122.63 389.4V423.4M121.43 389.4H123.83M121.43 423.4H123.83M126.07 416V423M124.87 416H127.27M124.87 423H127.27M129.51 416V423M128.31 416H130.71M128.31 423H130.71M132.95 416.9V423.9M131.75 416.9H134.15M131.75 423.9H134.15M136.38 416.9V423.9M135.18 416.9H137.58M135.18 423.9H137.58M139.82 399.1V421.1M138.62 399.1H141.02M138.62 421.1H141.02M143.26 417.9V424.9M142.06 417.9H144.46M142.06 424.9H144.46M146.7 421.6V428.6M145.5 421.6H147.9M145.5 428.6H147.9M150.14 422.5V429.5M148.94 422.5H151.34M148.94 429.5H151.34M153.58 422.5V429.5M152.38 422.5H154.78M152.38 429.5H154.78M157.02 408.9V418.9M155.82 408.9H158.22M155.82 418.9H158.22M160.46 416V423M159.26 416H161.66M159.26 423H161.66M163.9 420.7V427.7M162.7 420.7H165.1M162.7 427.7H165.1M167.34 423.5V430.5M166.14 423.5H168.54M166.14 430.5H168.54M170.78 422.5V429.5M169.58 422.5H171.98M169.58 429.5H171.98"/>
<polyline points="26.32,424 29.76,429.8 33.2,433.1 36.64,436.4 40.08,434.8 43.52,423.2 46.96,404.1 50.4,409.9 53.84,414.9 57.28,419.8 60.72,438.5 64.15,418.6 67.59,377.5 71.03,392.4 74.47,407.3 77.91,420.4 81.35,429.8 84.79,427 88.23,405.5 91.67,397.1 95.11,402.7 98.55,405.5 101.99,400.8 105.43,403.6 108.87,414.8 112.31,416.7 115.75,417.6 119.19,413.9 122.63,406.4 126.07,419.5 129.51,419.5 132.95,420.4 136.38,420.4 139.82,410.1 143.26,421.4 146.7,425.1 150.14,426 153.58,426 157.02,413.9 160.46,419.5 163.9,424.2 167.34,427 170.78,426" fill="none" stroke="#e0282a" stroke-width=".85"/>
<path fill="#e0282a" d="M25.52 423.2h1.6v1.6h-1.6zM28.96 429h1.6v1.6h-1.6zM32.4 432.3h1.6v1.6h-1.6zM35.84 435.6h1.6v1.6h-1.6zM39.28 434h1.6v1.6h-1.6zM42.72 422.4h1.6v1.6h-1.6zM46.16 403.3h1.6v1.6h-1.6zM49.6 409.1h1.6v1.6h-1.6zM53.04 414.1h1.6v1.6h-1.6zM56.48 419h1.6v1.6h-1.6zM59.92 437.7h1.6v1.6h-1.6zM63.35 417.8h1.6v1.6h-1.6zM66.79 376.7h1.6v1.6h-1.6zM70.23 391.6h1.6v1.6h-1.6zM73.67 406.5h1.6v1.6h-1.6zM77.11 419.6h1.6v1.6h-1.6zM80.55 429h1.6v1.6h-1.6zM83.99 426.2h1.6v1.6h-1.6zM87.43 404.7h1.6v1.6h-1.6zM90.87 396.3h1.6v1.6h-1.6zM94.31 401.9h1.6v1.6h-1.6zM97.75 404.7h1.6v1.6h-1.6zM101.19 400h1.6v1.6h-1.6zM104.63 402.8h1.6v1.6h-1.6zM108.07 414h1.6v1.6h-1.6zM111.51 415.9h1.6v1.6h-1.6zM114.95 416.8h1.6v1.6h-1.6zM118.39 413.1h1.6v1.6h-1.6zM121.83 405.6h1.6v1.6h-1.6zM125.27 418.7h1.6v1.6h-1.6zM128.71 418.7h1.6v1.6h-1.6zM132.15 419.6h1.6v1.6h-1.6zM135.58 419.6h1.6v1.6h-1.6zM139.02 409.3h1.6v1.6h-1.6zM142.46 420.6h1.6v1.6h-1.6zM145.9 424.3h1.6v1.6h-1.6zM149.34 425.2h1.6v1.6h-1.6zM152.78 425.2h1.6v1.6h-1.6zM156.22 413.1h1.6v1.6h-1.6zM159.66 418.7h1.6v1.6h-1.6zM163.1 423.4h1.6v1.6h-1.6zM166.54 426.2h1.6v1.6h-1.6zM169.98 425.2h1.6v1.6h-1.6z"/>
<rect x="101.1" y="347.6" width="69" height="13.8" fill="#fff" stroke="#555" stroke-width=".8"/>
<rect x="102" y="348.7" width="11.6" height="5.1" fill="#f0c850" stroke="#222" stroke-width=".6"/>
<path d="M102 357.7H113.6" stroke="#f07070" stroke-width=".9"/>
<text x="114.6" y="353.3" font-size="5.5" fill="#222" textLength="22.1" lengthAdjust="spacingAndGlyphs" stroke="#222" stroke-width="0.28">Starch (%)</text>
<text x="114.6" y="359.6" font-size="5.5" fill="#222" textLength="53.1" lengthAdjust="spacingAndGlyphs" stroke="#222" stroke-width="0.28">Reducing sugar (g/100g)</text>
<path fill="none" stroke="#555" stroke-width="0.5" d="M26.32 462.4V463.8M29.76 462.4V463.8M33.2 462.4V463.8M36.64 462.4V463.8M40.08 462.4V463.8M43.52 462.4V463.8M46.96 462.4V463.8M50.4 462.4V463.8M53.84 462.4V463.8M57.28 462.4V463.8M60.72 462.4V463.8M64.15 462.4V463.8M67.59 462.4V463.8M71.03 462.4V463.8M74.47 462.4V463.8M77.91 462.4V463.8M81.35 462.4V463.8M84.79 462.4V463.8M88.23 462.4V463.8M91.67 462.4V463.8M95.11 462.4V463.8M98.55 462.4V463.8M101.99 462.4V463.8M105.43 462.4V463.8M108.87 462.4V463.8M112.31 462.4V463.8M115.75 462.4V463.8M119.19 462.4V463.8M122.63 462.4V463.8M126.07 462.4V463.8M129.51 462.4V463.8M132.95 462.4V463.8M136.38 462.4V463.8M139.82 462.4V463.8M143.26 462.4V463.8M146.7 462.4V463.8M150.14 462.4V463.8M153.58 462.4V463.8M157.02 462.4V463.8M160.46 462.4V463.8M163.9 462.4V463.8M167.34 462.4V463.8M170.78 462.4V463.8"/>
<text x="24.97" y="466.1" font-size="4.5" fill="#262626" transform="rotate(90 24.97 466.1)" textLength="3.96" lengthAdjust="spacingAndGlyphs" stroke="#262626" stroke-width="0.22">27</text>
<text x="24.97" y="471.5" font-size="4.5" fill="#262626" transform="rotate(90 24.97 471.5)" textLength="2.88" lengthAdjust="spacingAndGlyphs" stroke="#262626" stroke-width="0.22">22</text>
<text x="24.97" y="475.7" font-size="4.5" fill="#262626" transform="rotate(90 24.97 475.7)" textLength="2.16" lengthAdjust="spacingAndGlyphs" stroke="#262626" stroke-width="0.22">SS</text>
<text x="28.41" y="466.1" font-size="4.5" fill="#262626" transform="rotate(90 28.41 466.1)" textLength="3.96" lengthAdjust="spacingAndGlyphs" stroke="#262626" stroke-width="0.22">32</text>
<text x="28.41" y="471.5" font-size="4.5" fill="#262626" transform="rotate(90 28.41 471.5)" textLength="2.88" lengthAdjust="spacingAndGlyphs" stroke="#262626" stroke-width="0.22">22</text>
<text x="28.41" y="475.7" font-size="4.5" fill="#262626" transform="rotate(90 28.41 475.7)" textLength="2.16" lengthAdjust="spacingAndGlyphs" stroke="#262626" stroke-width="0.22">SS</text>
<text x="31.85" y="466.1" font-size="4.5" fill="#262626" transform="rotate(90 31.85 466.1)" textLength="3.96" lengthAdjust="spacingAndGlyphs" stroke="#262626" stroke-width="0.22">37</text>
<text x="31.85" y="471.5" font-size="4.5" fill="#262626" transform="rotate(90 31.85 471.5)" textLength="2.88" lengthAdjust="spacingAndGlyphs" stroke="#262626" stroke-width="0.22">ZZ</text>
<text x="31.85" y="475.7" font-size="4.5" fill="#262626" transform="rotate(90 31.85 475.7)" textLength="2.16" lengthAdjust="spacingAndGlyphs" stroke="#262626" stroke-width="0.22">SS</text>
<text x="35.29" y="466.1" font-size="4.5" fill="#262626" transform="rotate(90 35.29 466.1)" textLength="3.96" lengthAdjust="spacingAndGlyphs" stroke="#262626" stroke-width="0.22">22</text>
<text x="35.29" y="471.5" font-size="4.5" fill="#262626" transform="rotate(90 35.29 471.5)" textLength="2.88" lengthAdjust="spacingAndGlyphs" stroke="#262626" stroke-width="0.22">ZZ</text>
<text x="38.73" y="466.1" font-size="4.5" fill="#262626" transform="rotate(90 38.73 466.1)" textLength="3.96" lengthAdjust="spacingAndGlyphs" stroke="#262626" stroke-width="0.22">27</text>
<text x="38.73" y="471.5" font-size="4.5" fill="#262626" transform="rotate(90 38.73 471.5)" textLength="2.88" lengthAdjust="spacingAndGlyphs" stroke="#262626" stroke-width="0.22">S2</text>
<text x="42.17" y="466.1" font-size="4.5" fill="#262626" transform="rotate(90 42.17 466.1)" textLength="3.96" lengthAdjust="spacingAndGlyphs" stroke="#262626" stroke-width="0.22">32</text>
<text x="42.17" y="471.5" font-size="4.5" fill="#262626" transform="rotate(90 42.17 471.5)" textLength="2.88" lengthAdjust="spacingAndGlyphs" stroke="#262626" stroke-width="0.22">22</text>
<text x="45.61" y="466.1" font-size="4.5" fill="#262626" transform="rotate(90 45.61 466.1)" textLength="3.96" lengthAdjust="spacingAndGlyphs" stroke="#262626" stroke-width="0.22">22</text>
<text x="45.61" y="471.5" font-size="4.5" fill="#262626" transform="rotate(90 45.61 471.5)" textLength="2.88" lengthAdjust="spacingAndGlyphs" stroke="#262626" stroke-width="0.22">SS</text>
<text x="45.61" y="475.7" font-size="4.5" fill="#262626" transform="rotate(90 45.61 475.7)" textLength="2.16" lengthAdjust="spacingAndGlyphs" stroke="#262626" stroke-width="0.22">SS</text>
<text x="49.05" y="466.1" font-size="4.5" fill="#262626" transform="rotate(90 49.05 466.1)" textLength="3.96" lengthAdjust="spacingAndGlyphs" stroke="#262626" stroke-width="0.22">27</text>
<text x="49.05" y="471.5" font-size="4.5" fill="#262626" transform="rotate(90 49.05 471.5)" textLength="2.88" lengthAdjust="spacingAndGlyphs" stroke="#262626" stroke-width="0.22">SS</text>
<text x="49.05" y="475.7" font-size="4.5" fill="#262626" transform="rotate(90 49.05 475.7)" textLength="2.16" lengthAdjust="spacingAndGlyphs" stroke="#262626" stroke-width="0.22">SS</text>
<text x="52.49" y="466.1" font-size="4.5" fill="#262626" transform="rotate(90 52.49 466.1)" textLength="3.96" lengthAdjust="spacingAndGlyphs" stroke="#262626" stroke-width="0.22">27</text>
<text x="52.49" y="471.5" font-size="4.5" fill="#262626" transform="rotate(90 52.49 471.5)" textLength="2.88" lengthAdjust="spacingAndGlyphs" stroke="#262626" stroke-width="0.22">22</text>
<text x="52.49" y="475.7" font-size="4.5" fill="#262626" transform="rotate(90 52.49 475.7)" textLength="2.16" lengthAdjust="spacingAndGlyphs" stroke="#262626" stroke-width="0.22">SS</text>
<text x="55.93" y="466.1" font-size="4.5" fill="#262626" transform="rotate(90 55.93 466.1)" textLength="3.96" lengthAdjust="spacingAndGlyphs" stroke="#262626" stroke-width="0.22">32</text>
<text x="55.93" y="471.5" font-size="4.5" fill="#262626" transform="rotate(90 55.93 471.5)" textLength="2.88" lengthAdjust="spacingAndGlyphs" stroke="#262626" stroke-width="0.22">22</text>
<text x="59.37" y="466.1" font-size="4.5" fill="#262626" transform="rotate(90 59.37 466.1)" textLength="3.96" lengthAdjust="spacingAndGlyphs" stroke="#262626" stroke-width="0.22">37</text>
<text x="59.37" y="471.5" font-size="4.5" fill="#262626" transform="rotate(90 59.37 471.5)" textLength="2.88" lengthAdjust="spacingAndGlyphs" stroke="#262626" stroke-width="0.22">ZZ</text>
<text x="62.8" y="466.1" font-size="4.5" fill="#262626" transform="rotate(90 62.8 466.1)" textLength="3.96" lengthAdjust="spacingAndGlyphs" stroke="#262626" stroke-width="0.22">22</text>
<text x="62.8" y="471.5" font-size="4.5" fill="#262626" transform="rotate(90 62.8 471.5)" textLength="2.88" lengthAdjust="spacingAndGlyphs" stroke="#262626" stroke-width="0.22">ZZ</text>
<text x="66.24" y="466.1" font-size="4.5" fill="#262626" transform="rotate(90 66.24 466.1)" textLength="3.96" lengthAdjust="spacingAndGlyphs" stroke="#262626" stroke-width="0.22">27</text>
<text x="66.24" y="471.5" font-size="4.5" fill="#262626" transform="rotate(90 66.24 471.5)" textLength="2.88" lengthAdjust="spacingAndGlyphs" stroke="#262626" stroke-width="0.22">S2</text>
<text x="66.24" y="475.7" font-size="4.5" fill="#262626" transform="rotate(90 66.24 475.7)" textLength="2.16" lengthAdjust="spacingAndGlyphs" stroke="#262626" stroke-width="0.22">SS</text>
<text x="69.68" y="466.1" font-size="4.5" fill="#262626" transform="rotate(90 69.68 466.1)" textLength="3.96" lengthAdjust="spacingAndGlyphs" stroke="#262626" stroke-width="0.22">32</text>
<text x="69.68" y="471.5" font-size="4.5" fill="#262626" transform="rotate(90 69.68 471.5)" textLength="2.88" lengthAdjust="spacingAndGlyphs" stroke="#262626" stroke-width="0.22">22</text>
<text x="69.68" y="475.7" font-size="4.5" fill="#262626" transform="rotate(90 69.68 475.7)" textLength="2.16" lengthAdjust="spacingAndGlyphs" stroke="#262626" stroke-width="0.22">SS</text>
<text x="73.12" y="466.1" font-size="4.5" fill="#262626" transform="rotate(90 73.12 466.1)" textLength="3.96" lengthAdjust="spacingAndGlyphs" stroke="#262626" stroke-width="0.22">22</text>
<text x="73.12" y="471.5" font-size="4.5" fill="#262626" transform="rotate(90 73.12 471.5)" textLength="2.88" lengthAdjust="spacingAndGlyphs" stroke="#262626" stroke-width="0.22">SS</text>
<text x="73.12" y="475.7" font-size="4.5" fill="#262626" transform="rotate(90 73.12 475.7)" textLength="2.16" lengthAdjust="spacingAndGlyphs" stroke="#262626" stroke-width="0.22">SS</text>
<text x="76.56" y="466.1" font-size="4.5" fill="#262626" transform="rotate(90 76.56 466.1)" textLength="3.96" lengthAdjust="spacingAndGlyphs" stroke="#262626" stroke-width="0.22">27</text>
<text x="76.56" y="471.5" font-size="4.5" fill="#262626" transform="rotate(90 76.56 471.5)" textLength="2.88" lengthAdjust="spacingAndGlyphs" stroke="#262626" stroke-width="0.22">SS</text>
<text x="80" y="466.1" font-size="4.5" fill="#262626" transform="rotate(90 80 466.1)" textLength="3.96" lengthAdjust="spacingAndGlyphs" stroke="#262626" stroke-width="0.22">27</text>
<text x="80" y="471.5" font-size="4.5" fill="#262626" transform="rotate(90 80 471.5)" textLength="2.88" lengthAdjust="spacingAndGlyphs" stroke="#262626" stroke-width="0.22">22</text>
<text x="83.44" y="466.1" font-size="4.5" fill="#262626" transform="rotate(90 83.44 466.1)" textLength="3.96" lengthAdjust="spacingAndGlyphs" stroke="#262626" stroke-width="0.22">32</text>
<text x="83.44" y="471.5" font-size="4.5" fill="#262626" transform="rotate(90 83.44 471.5)" textLength="2.88" lengthAdjust="spacingAndGlyphs" stroke="#262626" stroke-width="0.22">22</text>
<text x="86.88" y="466.1" font-size="4.5" fill="#262626" transform="rotate(90 86.88 466.1)" textLength="3.96" lengthAdjust="spacingAndGlyphs" stroke="#262626" stroke-width="0.22">37</text>
<text x="86.88" y="471.5" font-size="4.5" fill="#262626" transform="rotate(90 86.88 471.5)" textLength="2.88" lengthAdjust="spacingAndGlyphs" stroke="#262626" stroke-width="0.22">ZZ</text>
<text x="86.88" y="475.7" font-size="4.5" fill="#262626" transform="rotate(90 86.88 475.7)" textLength="2.16" lengthAdjust="spacingAndGlyphs" stroke="#262626" stroke-width="0.22">SS</text>
<text x="90.32" y="466.1" font-size="4.5" fill="#262626" transform="rotate(90 90.32 466.1)" textLength="3.96" lengthAdjust="spacingAndGlyphs" stroke="#262626" stroke-width="0.22">22</text>
<text x="90.32" y="471.5" font-size="4.5" fill="#262626" transform="rotate(90 90.32 471.5)" textLength="2.88" lengthAdjust="spacingAndGlyphs" stroke="#262626" stroke-width="0.22">ZZ</text>
<text x="90.32" y="475.7" font-size="4.5" fill="#262626" transform="rotate(90 90.32 475.7)" textLength="2.16" lengthAdjust="spacingAndGlyphs" stroke="#262626" stroke-width="0.22">SS</text>
<text x="93.76" y="466.1" font-size="4.5" fill="#262626" transform="rotate(90 93.76 466.1)" textLength="3.96" lengthAdjust="spacingAndGlyphs" stroke="#262626" stroke-width="0.22">27</text>
<text x="93.76" y="471.5" font-size="4.5" fill="#262626" transform="rotate(90 93.76 471.5)" textLength="2.88" lengthAdjust="spacingAndGlyphs" stroke="#262626" stroke-width="0.22">S2</text>
<text x="93.76" y="475.7" font-size="4.5" fill="#262626" transform="rotate(90 93.76 475.7)" textLength="2.16" lengthAdjust="spacingAndGlyphs" stroke="#262626" stroke-width="0.22">SS</text>
<text x="97.2" y="466.1" font-size="4.5" fill="#262626" transform="rotate(90 97.2 466.1)" textLength="3.96" lengthAdjust="spacingAndGlyphs" stroke="#262626" stroke-width="0.22">32</text>
<text x="97.2" y="471.5" font-size="4.5" fill="#262626" transform="rotate(90 97.2 471.5)" textLength="2.88" lengthAdjust="spacingAndGlyphs" stroke="#262626" stroke-width="0.22">22</text>
<text x="100.64" y="466.1" font-size="4.5" fill="#262626" transform="rotate(90 100.64 466.1)" textLength="3.96" lengthAdjust="spacingAndGlyphs" stroke="#262626" stroke-width="0.22">22</text>
<text x="100.64" y="471.5" font-size="4.5" fill="#262626" transform="rotate(90 100.64 471.5)" textLength="2.88" lengthAdjust="spacingAndGlyphs" stroke="#262626" stroke-width="0.22">SS</text>
<text x="104.08" y="466.1" font-size="4.5" fill="#262626" transform="rotate(90 104.08 466.1)" textLength="3.96" lengthAdjust="spacingAndGlyphs" stroke="#262626" stroke-width="0.22">27</text>
<text x="104.08" y="471.5" font-size="4.5" fill="#262626" transform="rotate(90 104.08 471.5)" textLength="2.88" lengthAdjust="spacingAndGlyphs" stroke="#262626" stroke-width="0.22">SS</text>
<text x="107.52" y="466.1" font-size="4.5" fill="#262626" transform="rotate(90 107.52 466.1)" textLength="3.96" lengthAdjust="spacingAndGlyphs" stroke="#262626" stroke-width="0.22">27</text>
<text x="107.52" y="471.5" font-size="4.5" fill="#262626" transform="rotate(90 107.52 471.5)" textLength="2.88" lengthAdjust="spacingAndGlyphs" stroke="#262626" stroke-width="0.22">22</text>
<text x="107.52" y="475.7" font-size="4.5" fill="#262626" transform="rotate(90 107.52 475.7)" textLength="2.16" lengthAdjust="spacingAndGlyphs" stroke="#262626" stroke-width="0.22">SS</text>
<text x="110.96" y="466.1" font-size="4.5" fill="#262626" transform="rotate(90 110.96 466.1)" textLength="3.96" lengthAdjust="spacingAndGlyphs" stroke="#262626" stroke-width="0.22">32</text>
<text x="110.96" y="471.5" font-size="4.5" fill="#262626" transform="rotate(90 110.96 471.5)" textLength="2.88" lengthAdjust="spacingAndGlyphs" stroke="#262626" stroke-width="0.22">22</text>
<text x="110.96" y="475.7" font-size="4.5" fill="#262626" transform="rotate(90 110.96 475.7)" textLength="2.16" lengthAdjust="spacingAndGlyphs" stroke="#262626" stroke-width="0.22">SS</text>
<text x="114.4" y="466.1" font-size="4.5" fill="#262626" transform="rotate(90 114.4 466.1)" textLength="3.96" lengthAdjust="spacingAndGlyphs" stroke="#262626" stroke-width="0.22">37</text>
<text x="114.4" y="471.5" font-size="4.5" fill="#262626" transform="rotate(90 114.4 471.5)" textLength="2.88" lengthAdjust="spacingAndGlyphs" stroke="#262626" stroke-width="0.22">ZZ</text>
<text x="114.4" y="475.7" font-size="4.5" fill="#262626" transform="rotate(90 114.4 475.7)" textLength="2.16" lengthAdjust="spacingAndGlyphs" stroke="#262626" stroke-width="0.22">SS</text>
<text x="117.84" y="466.1" font-size="4.5" fill="#262626" transform="rotate(90 117.84 466.1)" textLength="3.96" lengthAdjust="spacingAndGlyphs" stroke="#262626" stroke-width="0.22">22</text>
<text x="117.84" y="471.5" font-size="4.5" fill="#262626" transform="rotate(90 117.84 471.5)" textLength="2.88" lengthAdjust="spacingAndGlyphs" stroke="#262626" stroke-width="0.22">ZZ</text>
<text x="121.28" y="466.1" font-size="4.5" fill="#262626" transform="rotate(90 121.28 466.1)" textLength="3.96" lengthAdjust="spacingAndGlyphs" stroke="#262626" stroke-width="0.22">27</text>
<text x="121.28" y="471.5" font-size="4.5" fill="#262626" transform="rotate(90 121.28 471.5)" textLength="2.88" lengthAdjust="spacingAndGlyphs" stroke="#262626" stroke-width="0.22">S2</text>
<text x="124.72" y="466.1" font-size="4.5" fill="#262626" transform="rotate(90 124.72 466.1)" textLength="3.96" lengthAdjust="spacingAndGlyphs" stroke="#262626" stroke-width="0.22">32</text>
<text x="124.72" y="471.5" font-size="4.5" fill="#262626" transform="rotate(90 124.72 471.5)" textLength="2.88" lengthAdjust="spacingAndGlyphs" stroke="#262626" stroke-width="0.22">22</text>
<text x="128.16" y="466.1" font-size="4.5" fill="#262626" transform="rotate(90 128.16 466.1)" textLength="3.96" lengthAdjust="spacingAndGlyphs" stroke="#262626" stroke-width="0.22">22</text>
<text x="128.16" y="471.5" font-size="4.5" fill="#262626" transform="rotate(90 128.16 471.5)" textLength="2.88" lengthAdjust="spacingAndGlyphs" stroke="#262626" stroke-width="0.22">SS</text>
<text x="128.16" y="475.7" font-size="4.5" fill="#262626" transform="rotate(90 128.16 475.7)" textLength="2.16" lengthAdjust="spacingAndGlyphs" stroke="#262626" stroke-width="0.22">SS</text>
<text x="131.6" y="466.1" font-size="4.5" fill="#262626" transform="rotate(90 131.6 466.1)" textLength="3.96" lengthAdjust="spacingAndGlyphs" stroke="#262626" stroke-width="0.22">27</text>
<text x="131.6" y="471.5" font-size="4.5" fill="#262626" transform="rotate(90 131.6 471.5)" textLength="2.88" lengthAdjust="spacingAndGlyphs" stroke="#262626" stroke-width="0.22">SS</text>
<text x="131.6" y="475.7" font-size="4.5" fill="#262626" transform="rotate(90 131.6 475.7)" textLength="2.16" lengthAdjust="spacingAndGlyphs" stroke="#262626" stroke-width="0.22">SS</text>
<text x="135.03" y="466.1" font-size="4.5" fill="#262626" transform="rotate(90 135.03 466.1)" textLength="3.96" lengthAdjust="spacingAndGlyphs" stroke="#262626" stroke-width="0.22">27</text>
<text x="135.03" y="471.5" font-size="4.5" fill="#262626" transform="rotate(90 135.03 471.5)" textLength="2.88" lengthAdjust="spacingAndGlyphs" stroke="#262626" stroke-width="0.22">22</text>
<text x="135.03" y="475.7" font-size="4.5" fill="#262626" transform="rotate(90 135.03 475.7)" textLength="2.16" lengthAdjust="spacingAndGlyphs" stroke="#262626" stroke-width="0.22">SS</text>
<text x="138.47" y="466.1" font-size="4.5" fill="#262626" transform="rotate(90 138.47 466.1)" textLength="3.96" lengthAdjust="spacingAndGlyphs" stroke="#262626" stroke-width="0.22">32</text>
<text x="138.47" y="471.5" font-size="4.5" fill="#262626" transform="rotate(90 138.47 471.5)" textLength="2.88" lengthAdjust="spacingAndGlyphs" stroke="#262626" stroke-width="0.22">22</text>
<text x="141.91" y="466.1" font-size="4.5" fill="#262626" transform="rotate(90 141.91 466.1)" textLength="3.96" lengthAdjust="spacingAndGlyphs" stroke="#262626" stroke-width="0.22">37</text>
<text x="141.91" y="471.5" font-size="4.5" fill="#262626" transform="rotate(90 141.91 471.5)" textLength="2.88" lengthAdjust="spacingAndGlyphs" stroke="#262626" stroke-width="0.22">ZZ</text>
<text x="145.35" y="466.1" font-size="4.5" fill="#262626" transform="rotate(90 145.35 466.1)" textLength="3.96" lengthAdjust="spacingAndGlyphs" stroke="#262626" stroke-width="0.22">22</text>
<text x="145.35" y="471.5" font-size="4.5" fill="#262626" transform="rotate(90 145.35 471.5)" textLength="2.88" lengthAdjust="spacingAndGlyphs" stroke="#262626" stroke-width="0.22">ZZ</text>
<text x="148.79" y="466.1" font-size="4.5" fill="#262626" transform="rotate(90 148.79 466.1)" textLength="3.96" lengthAdjust="spacingAndGlyphs" stroke="#262626" stroke-width="0.22">27</text>
<text x="148.79" y="471.5" font-size="4.5" fill="#262626" transform="rotate(90 148.79 471.5)" textLength="2.88" lengthAdjust="spacingAndGlyphs" stroke="#262626" stroke-width="0.22">S2</text>
<text x="148.79" y="475.7" font-size="4.5" fill="#262626" transform="rotate(90 148.79 475.7)" textLength="2.16" lengthAdjust="spacingAndGlyphs" stroke="#262626" stroke-width="0.22">SS</text>
<text x="152.23" y="466.1" font-size="4.5" fill="#262626" transform="rotate(90 152.23 466.1)" textLength="3.96" lengthAdjust="spacingAndGlyphs" stroke="#262626" stroke-width="0.22">32</text>
<text x="152.23" y="471.5" font-size="4.5" fill="#262626" transform="rotate(90 152.23 471.5)" textLength="2.88" lengthAdjust="spacingAndGlyphs" stroke="#262626" stroke-width="0.22">22</text>
<text x="152.23" y="475.7" font-size="4.5" fill="#262626" transform="rotate(90 152.23 475.7)" textLength="2.16" lengthAdjust="spacingAndGlyphs" stroke="#262626" stroke-width="0.22">SS</text>
<text x="155.67" y="466.1" font-size="4.5" fill="#262626" transform="rotate(90 155.67 466.1)" textLength="3.96" lengthAdjust="spacingAndGlyphs" stroke="#262626" stroke-width="0.22">22</text>
<text x="155.67" y="471.5" font-size="4.5" fill="#262626" transform="rotate(90 155.67 471.5)" textLength="2.88" lengthAdjust="spacingAndGlyphs" stroke="#262626" stroke-width="0.22">SS</text>
<text x="155.67" y="475.7" font-size="4.5" fill="#262626" transform="rotate(90 155.67 475.7)" textLength="2.16" lengthAdjust="spacingAndGlyphs" stroke="#262626" stroke-width="0.22">SS</text>
<text x="159.11" y="466.1" font-size="4.5" fill="#262626" transform="rotate(90 159.11 466.1)" textLength="3.96" lengthAdjust="spacingAndGlyphs" stroke="#262626" stroke-width="0.22">27</text>
<text x="159.11" y="471.5" font-size="4.5" fill="#262626" transform="rotate(90 159.11 471.5)" textLength="2.88" lengthAdjust="spacingAndGlyphs" stroke="#262626" stroke-width="0.22">SS</text>
<text x="162.55" y="466.1" font-size="4.5" fill="#262626" transform="rotate(90 162.55 466.1)" textLength="3.96" lengthAdjust="spacingAndGlyphs" stroke="#262626" stroke-width="0.22">27</text>
<text x="162.55" y="471.5" font-size="4.5" fill="#262626" transform="rotate(90 162.55 471.5)" textLength="2.88" lengthAdjust="spacingAndGlyphs" stroke="#262626" stroke-width="0.22">22</text>
<text x="165.99" y="466.1" font-size="4.5" fill="#262626" transform="rotate(90 165.99 466.1)" textLength="3.96" lengthAdjust="spacingAndGlyphs" stroke="#262626" stroke-width="0.22">32</text>
<text x="165.99" y="471.5" font-size="4.5" fill="#262626" transform="rotate(90 165.99 471.5)" textLength="2.88" lengthAdjust="spacingAndGlyphs" stroke="#262626" stroke-width="0.22">22</text>
<text x="169.43" y="466.1" font-size="4.5" fill="#262626" transform="rotate(90 169.43 466.1)" textLength="3.96" lengthAdjust="spacingAndGlyphs" stroke="#262626" stroke-width="0.22">37</text>
<text x="169.43" y="471.5" font-size="4.5" fill="#262626" transform="rotate(90 169.43 471.5)" textLength="2.88" lengthAdjust="spacingAndGlyphs" stroke="#262626" stroke-width="0.22">ZZ</text>
<text x="169.43" y="475.7" font-size="4.5" fill="#262626" transform="rotate(90 169.43 475.7)" textLength="2.16" lengthAdjust="spacingAndGlyphs" stroke="#262626" stroke-width="0.22">SS</text>
<text x="189.3" y="338.4" font-size="9.2" textLength="5.4" lengthAdjust="spacingAndGlyphs" stroke="#111" stroke-width="0.28">F</text>
<rect x="211.5" y="341.8" width="149.1" height="120.4" fill="none" stroke="#6a6a6a" stroke-width="0.9"/>
<path fill="none" stroke="#333" stroke-width="0.7" d="M211.5 462.2H209.4M211.5 443.73H209.4M211.5 425.26H209.4M211.5 406.79H209.4M211.5 388.32H209.4M211.5 369.85H209.4M211.5 351.38H209.4M211.5 452.96H210.4M211.5 434.5H210.4M211.5 416.02H210.4M211.5 397.56H210.4M211.5 379.08H210.4M211.5 360.62H210.4M211.5 342.14H210.4"/>
<text x="207.5" y="463.6" font-size="4.0" text-anchor="end" fill="#2a2a2a" textLength="2" lengthAdjust="spacingAndGlyphs" stroke="#2a2a2a" stroke-width="0.28">0</text>
<text x="207.5" y="445.13" font-size="4.0" text-anchor="end" fill="#2a2a2a" textLength="4" lengthAdjust="spacingAndGlyphs" stroke="#2a2a2a" stroke-width="0.28">10</text>
<text x="207.5" y="426.66" font-size="4.0" text-anchor="end" fill="#2a2a2a" textLength="4" lengthAdjust="spacingAndGlyphs" stroke="#2a2a2a" stroke-width="0.28">20</text>
<text x="207.5" y="408.19" font-size="4.0" text-anchor="end" fill="#2a2a2a" textLength="4" lengthAdjust="spacingAndGlyphs" stroke="#2a2a2a" stroke-width="0.28">30</text>
<text x="207.5" y="389.72" font-size="4.0" text-anchor="end" fill="#2a2a2a" textLength="4" lengthAdjust="spacingAndGlyphs" stroke="#2a2a2a" stroke-width="0.28">40</text>
<text x="207.5" y="371.25" font-size="4.0" text-anchor="end" fill="#2a2a2a" textLength="4" lengthAdjust="spacingAndGlyphs" stroke="#2a2a2a" stroke-width="0.28">50</text>
<text x="207.5" y="352.78" font-size="4.0" text-anchor="end" fill="#2a2a2a" textLength="4" lengthAdjust="spacingAndGlyphs" stroke="#2a2a2a" stroke-width="0.28">60</text>
<text x="188" y="392.3" font-size="7.0" text-anchor="middle" transform="rotate(-90 188 392.3)" textLength="76" lengthAdjust="spacingAndGlyphs" stroke="#111" stroke-width="0.28">Reducing sugar  (g/100g)</text>
<text x="203" y="399" font-size="6.8" text-anchor="middle" transform="rotate(-90 203 399)" textLength="39.5" lengthAdjust="spacingAndGlyphs" stroke="#111" stroke-width="0.28">Moisture (%)</text>
<path fill="#03903f" stroke="#262826" stroke-width="1.35" d="M211.8 389.98h3.45v72.22h-3.45zM215.25 387.03h3.45v75.17h-3.45zM218.71 386.66h3.45v75.54h-3.45zM222.16 386.1h3.45v76.1h-3.45zM225.61 386.1h3.45v76.1h-3.45zM229.07 388.87h3.45v73.33h-3.45zM232.52 387.03h3.45v75.17h-3.45zM235.97 381.86h3.45v80.34h-3.45zM239.43 381.86h3.45v80.34h-3.45zM242.88 381.86h3.45v80.34h-3.45zM246.33 386.1h3.45v76.1h-3.45zM249.79 382.22h3.45v79.98h-3.45zM253.24 384.07h3.45v78.13h-3.45zM256.7 377.42h3.45v84.78h-3.45zM260.15 375.95h3.45v86.25h-3.45zM263.6 374.47h3.45v87.73h-3.45zM267.06 373.73h3.45v88.47h-3.45zM270.51 373.73h3.45v88.47h-3.45zM273.96 377.42h3.45v84.78h-3.45zM277.42 371.51h3.45v90.69h-3.45zM280.87 371.14h3.45v91.06h-3.45zM284.32 370.4h3.45v91.8h-3.45zM287.78 369.48h3.45v92.72h-3.45zM291.23 373.17h3.45v89.03h-3.45zM294.68 365.23h3.45v96.97h-3.45zM298.14 365.79h3.45v96.41h-3.45zM301.59 364.68h3.45v97.52h-3.45zM305.04 365.79h3.45v96.41h-3.45zM308.5 365.79h3.45v96.41h-3.45zM311.95 361.72h3.45v100.48h-3.45zM315.4 359.88h3.45v102.32h-3.45zM318.86 359.88h3.45v102.32h-3.45zM322.31 360.98h3.45v101.22h-3.45zM325.77 362.83h3.45v99.37h-3.45zM329.22 359.14h3.45v103.06h-3.45zM332.67 357.84h3.45v104.36h-3.45zM336.13 359.32h3.45v102.88h-3.45zM339.58 361.35h3.45v100.85h-3.45zM343.03 364.68h3.45v97.52h-3.45zM346.49 359.88h3.45v102.32h-3.45zM349.94 360.62h3.45v101.58h-3.45zM353.39 361.35h3.45v100.85h-3.45zM356.85 361.35h3.45v100.85h-3.45z"/>
<path fill="none" stroke="#444" stroke-width="0.7" d="M213.53 389.98V388.5M216.98 387.03V385.55M220.43 386.66V385.18M223.89 386.1V384.63M227.34 386.1V384.63M230.79 388.87V387.4M234.25 387.03V385.55M237.7 381.86V380.38M241.15 381.86V380.38M244.61 381.86V380.38M248.06 386.1V384.63M251.52 382.22V380.75M254.97 384.07V382.59M258.42 377.42V375.95M261.88 375.95V374.47M265.33 374.47V372.99M268.78 373.73V372.25M272.24 373.73V372.25M275.69 377.42V375.95M279.14 371.51V370.03M282.6 371.14V369.67M286.05 370.4V368.93M289.5 369.48V368M292.96 373.17V371.7M296.41 365.23V363.75M299.86 365.79V364.31M303.32 364.68V363.2M306.77 365.79V364.31M310.22 365.79V364.31M313.68 361.72V360.25M317.13 359.88V358.4M320.58 359.88V358.4M324.04 360.98V359.51M327.49 362.83V361.35M330.95 359.14V357.66M334.4 357.84V356.37M337.85 359.32V357.84M341.31 361.35V359.88M344.76 364.68V363.2M348.21 359.88V358.4M351.67 360.62V359.14M355.12 361.35V359.88M358.57 361.35V359.88"/>
<path fill="none" stroke="#222" stroke-width="0.7" d="M212.43 388.5H214.63M215.88 385.55H218.08M219.33 385.18H221.53M222.79 384.63H224.99M226.24 384.63H228.44M229.69 387.4H231.89M233.15 385.55H235.35M236.6 380.38H238.8M240.05 380.38H242.25M243.51 380.38H245.71M246.96 384.63H249.16M250.42 380.75H252.62M253.87 382.59H256.07M257.32 375.95H259.52M260.78 374.47H262.98M264.23 372.99H266.43M267.68 372.25H269.88M271.14 372.25H273.34M274.59 375.95H276.79M278.04 370.03H280.24M281.5 369.67H283.7M284.95 368.93H287.15M288.4 368H290.6M291.86 371.7H294.06M295.31 363.75H297.51M298.76 364.31H300.96M302.22 363.2H304.42M305.67 364.31H307.87M309.12 364.31H311.32M312.58 360.25H314.78M316.03 358.4H318.23M319.48 358.4H321.68M322.94 359.51H325.14M326.39 361.35H328.59M329.85 357.66H332.05M333.3 356.37H335.5M336.75 357.84H338.95M340.21 359.88H342.41M343.66 363.2H345.86M347.11 358.4H349.31M350.57 359.14H352.77M354.02 359.88H356.22M357.47 359.88H359.67"/>
<path fill="none" stroke="#1a1a1a" stroke-width="0.8" d="M211.8 389.98H215.25M215.25 387.03H218.71M218.71 386.66H222.16M222.16 386.1H225.61M225.61 386.1H229.07M229.07 388.87H232.52M232.52 387.03H235.97M235.97 381.86H239.43M239.43 381.86H242.88M242.88 381.86H246.33M246.33 386.1H249.79M249.79 382.22H253.24M253.24 384.07H256.7M256.7 377.42H260.15M260.15 375.95H263.6M263.6 374.47H267.06M267.06 373.73H270.51M270.51 373.73H273.96M273.96 377.42H277.42M277.42 371.51H280.87M280.87 371.14H284.32M284.32 370.4H287.78M287.78 369.48H291.23M291.23 373.17H294.68M294.68 365.23H298.14M298.14 365.79H301.59M301.59 364.68H305.04M305.04 365.79H308.5M308.5 365.79H311.95M311.95 361.72H315.4M315.4 359.88H318.86M318.86 359.88H322.31M322.31 360.98H325.77M325.77 362.83H329.22M329.22 359.14H332.67M332.67 357.84H336.13M336.13 359.32H339.58M339.58 361.35H343.03M343.03 364.68H346.49M346.49 359.88H349.94M349.94 360.62H353.39M353.39 361.35H356.85M356.85 361.35H360.3"/>
<rect x="218.1" y="345.9" width="54.1" height="8.7" fill="#fff" stroke="#555" stroke-width=".8"/>
<rect x="218.7" y="347.1" width="13.9" height="6.6" fill="#03903f" stroke="#222" stroke-width=".6"/>
<text x="234.7" y="352.6" font-size="6.4" textLength="35.8" lengthAdjust="spacingAndGlyphs" stroke="#111" stroke-width="0.28">Moisture (%)</text>
<path fill="none" stroke="#555" stroke-width="0.5" d="M213.53 462.8V464.2M216.98 462.8V464.2M220.43 462.8V464.2M223.89 462.8V464.2M227.34 462.8V464.2M230.79 462.8V464.2M234.25 462.8V464.2M237.7 462.8V464.2M241.15 462.8V464.2M244.61 462.8V464.2M248.06 462.8V464.2M251.52 462.8V464.2M254.97 462.8V464.2M258.42 462.8V464.2M261.88 462.8V464.2M265.33 462.8V464.2M268.78 462.8V464.2M272.24 462.8V464.2M275.69 462.8V464.2M279.14 462.8V464.2M282.6 462.8V464.2M286.05 462.8V464.2M289.5 462.8V464.2M292.96 462.8V464.2M296.41 462.8V464.2M299.86 462.8V464.2M303.32 462.8V464.2M306.77 462.8V464.2M310.22 462.8V464.2M313.68 462.8V464.2M317.13 462.8V464.2M320.58 462.8V464.2M324.04 462.8V464.2M327.49 462.8V464.2M330.95 462.8V464.2M334.4 462.8V464.2M337.85 462.8V464.2M341.31 462.8V464.2M344.76 462.8V464.2M348.21 462.8V464.2M351.67 462.8V464.2M355.12 462.8V464.2M358.57 462.8V464.2"/>
<text x="212.18" y="466.5" font-size="4.5" fill="#262626" transform="rotate(90 212.18 466.5)" textLength="3.96" lengthAdjust="spacingAndGlyphs" stroke="#262626" stroke-width="0.22">27</text>
<text x="212.18" y="471.9" font-size="4.5" fill="#262626" transform="rotate(90 212.18 471.9)" textLength="2.88" lengthAdjust="spacingAndGlyphs" stroke="#262626" stroke-width="0.22">22</text>
<text x="212.18" y="476.1" font-size="4.5" fill="#262626" transform="rotate(90 212.18 476.1)" textLength="2.16" lengthAdjust="spacingAndGlyphs" stroke="#262626" stroke-width="0.22">SS</text>
<text x="215.63" y="466.5" font-size="4.5" fill="#262626" transform="rotate(90 215.63 466.5)" textLength="3.96" lengthAdjust="spacingAndGlyphs" stroke="#262626" stroke-width="0.22">32</text>
<text x="215.63" y="471.9" font-size="4.5" fill="#262626" transform="rotate(90 215.63 471.9)" textLength="2.88" lengthAdjust="spacingAndGlyphs" stroke="#262626" stroke-width="0.22">22</text>
<text x="215.63" y="476.1" font-size="4.5" fill="#262626" transform="rotate(90 215.63 476.1)" textLength="2.16" lengthAdjust="spacingAndGlyphs" stroke="#262626" stroke-width="0.22">SS</text>
<text x="219.08" y="466.5" font-size="4.5" fill="#262626" transform="rotate(90 219.08 466.5)" textLength="3.96" lengthAdjust="spacingAndGlyphs" stroke="#262626" stroke-width="0.22">37</text>
<text x="219.08" y="471.9" font-size="4.5" fill="#262626" transform="rotate(90 219.08 471.9)" textLength="2.88" lengthAdjust="spacingAndGlyphs" stroke="#262626" stroke-width="0.22">ZZ</text>
<text x="219.08" y="476.1" font-size="4.5" fill="#262626" transform="rotate(90 219.08 476.1)" textLength="2.16" lengthAdjust="spacingAndGlyphs" stroke="#262626" stroke-width="0.22">SS</text>
<text x="222.54" y="466.5" font-size="4.5" fill="#262626" transform="rotate(90 222.54 466.5)" textLength="3.96" lengthAdjust="spacingAndGlyphs" stroke="#262626" stroke-width="0.22">22</text>
<text x="222.54" y="471.9" font-size="4.5" fill="#262626" transform="rotate(90 222.54 471.9)" textLength="2.88" lengthAdjust="spacingAndGlyphs" stroke="#262626" stroke-width="0.22">ZZ</text>
<text x="225.99" y="466.5" font-size="4.5" fill="#262626" transform="rotate(90 225.99 466.5)" textLength="3.96" lengthAdjust="spacingAndGlyphs" stroke="#262626" stroke-width="0.22">27</text>
<text x="225.99" y="471.9" font-size="4.5" fill="#262626" transform="rotate(90 225.99 471.9)" textLength="2.88" lengthAdjust="spacingAndGlyphs" stroke="#262626" stroke-width="0.22">S2</text>
<text x="229.44" y="466.5" font-size="4.5" fill="#262626" transform="rotate(90 229.44 466.5)" textLength="3.96" lengthAdjust="spacingAndGlyphs" stroke="#262626" stroke-width="0.22">32</text>
<text x="229.44" y="471.9" font-size="4.5" fill="#262626" transform="rotate(90 229.44 471.9)" textLength="2.88" lengthAdjust="spacingAndGlyphs" stroke="#262626" stroke-width="0.22">22</text>
<text x="232.9" y="466.5" font-size="4.5" fill="#262626" transform="rotate(90 232.9 466.5)" textLength="3.96" lengthAdjust="spacingAndGlyphs" stroke="#262626" stroke-width="0.22">22</text>
<text x="232.9" y="471.9" font-size="4.5" fill="#262626" transform="rotate(90 232.9 471.9)" textLength="2.88" lengthAdjust="spacingAndGlyphs" stroke="#262626" stroke-width="0.22">SS</text>
<text x="232.9" y="476.1" font-size="4.5" fill="#262626" transform="rotate(90 232.9 476.1)" textLength="2.16" lengthAdjust="spacingAndGlyphs" stroke="#262626" stroke-width="0.22">SS</text>
<text x="236.35" y="466.5" font-size="4.5" fill="#262626" transform="rotate(90 236.35 466.5)" textLength="3.96" lengthAdjust="spacingAndGlyphs" stroke="#262626" stroke-width="0.22">27</text>
<text x="236.35" y="471.9" font-size="4.5" fill="#262626" transform="rotate(90 236.35 471.9)" textLength="2.88" lengthAdjust="spacingAndGlyphs" stroke="#262626" stroke-width="0.22">SS</text>
<text x="236.35" y="476.1" font-size="4.5" fill="#262626" transform="rotate(90 236.35 476.1)" textLength="2.16" lengthAdjust="spacingAndGlyphs" stroke="#262626" stroke-width="0.22">SS</text>
<text x="239.8" y="466.5" font-size="4.5" fill="#262626" transform="rotate(90 239.8 466.5)" textLength="3.96" lengthAdjust="spacingAndGlyphs" stroke="#262626" stroke-width="0.22">27</text>
<text x="239.8" y="471.9" font-size="4.5" fill="#262626" transform="rotate(90 239.8 471.9)" textLength="2.88" lengthAdjust="spacingAndGlyphs" stroke="#262626" stroke-width="0.22">22</text>
<text x="239.8" y="476.1" font-size="4.5" fill="#262626" transform="rotate(90 239.8 476.1)" textLength="2.16" lengthAdjust="spacingAndGlyphs" stroke="#262626" stroke-width="0.22">SS</text>
<text x="243.26" y="466.5" font-size="4.5" fill="#262626" transform="rotate(90 243.26 466.5)" textLength="3.96" lengthAdjust="spacingAndGlyphs" stroke="#262626" stroke-width="0.22">32</text>
<text x="243.26" y="471.9" font-size="4.5" fill="#262626" transform="rotate(90 243.26 471.9)" textLength="2.88" lengthAdjust="spacingAndGlyphs" stroke="#262626" stroke-width="0.22">22</text>
<text x="246.71" y="466.5" font-size="4.5" fill="#262626" transform="rotate(90 246.71 466.5)" textLength="3.96" lengthAdjust="spacingAndGlyphs" stroke="#262626" stroke-width="0.22">37</text>
<text x="246.71" y="471.9" font-size="4.5" fill="#262626" transform="rotate(90 246.71 471.9)" textLength="2.88" lengthAdjust="spacingAndGlyphs" stroke="#262626" stroke-width="0.22">ZZ</text>
<text x="250.17" y="466.5" font-size="4.5" fill="#262626" transform="rotate(90 250.17 466.5)" textLength="3.96" lengthAdjust="spacingAndGlyphs" stroke="#262626" stroke-width="0.22">22</text>
<text x="250.17" y="471.9" font-size="4.5" fill="#262626" transform="rotate(90 250.17 471.9)" textLength="2.88" lengthAdjust="spacingAndGlyphs" stroke="#262626" stroke-width="0.22">ZZ</text>
<text x="253.62" y="466.5" font-size="4.5" fill="#262626" transform="rotate(90 253.62 466.5)" textLength="3.96" lengthAdjust="spacingAndGlyphs" stroke="#262626" stroke-width="0.22">27</text>
<text x="253.62" y="471.9" font-size="4.5" fill="#262626" transform="rotate(90 253.62 471.9)" textLength="2.88" lengthAdjust="spacingAndGlyphs" stroke="#262626" stroke-width="0.22">S2</text>
<text x="253.62" y="476.1" font-size="4.5" fill="#262626" transform="rotate(90 253.62 476.1)" textLength="2.16" lengthAdjust="spacingAndGlyphs" stroke="#262626" stroke-width="0.22">SS</text>
<text x="257.07" y="466.5" font-size="4.5" fill="#262626" transform="rotate(90 257.07 466.5)" textLength="3.96" lengthAdjust="spacingAndGlyphs" stroke="#262626" stroke-width="0.22">32</text>
<text x="257.07" y="471.9" font-size="4.5" fill="#262626" transform="rotate(90 257.07 471.9)" textLength="2.88" lengthAdjust="spacingAndGlyphs" stroke="#262626" stroke-width="0.22">22</text>
<text x="257.07" y="476.1" font-size="4.5" fill="#262626" transform="rotate(90 257.07 476.1)" textLength="2.16" lengthAdjust="spacingAndGlyphs" stroke="#262626" stroke-width="0.22">SS</text>
<text x="260.53" y="466.5" font-size="4.5" fill="#262626" transform="rotate(90 260.53 466.5)" textLength="3.96" lengthAdjust="spacingAndGlyphs" stroke="#262626" stroke-width="0.22">22</text>
<text x="260.53" y="471.9" font-size="4.5" fill="#262626" transform="rotate(90 260.53 471.9)" textLength="2.88" lengthAdjust="spacingAndGlyphs" stroke="#262626" stroke-width="0.22">SS</text>
<text x="260.53" y="476.1" font-size="4.5" fill="#262626" transform="rotate(90 260.53 476.1)" textLength="2.16" lengthAdjust="spacingAndGlyphs" stroke="#262626" stroke-width="0.22">SS</text>
<text x="263.98" y="466.5" font-size="4.5" fill="#262626" transform="rotate(90 263.98 466.5)" textLength="3.96" lengthAdjust="spacingAndGlyphs" stroke="#262626" stroke-width="0.22">27</text>
<text x="263.98" y="471.9" font-size="4.5" fill="#262626" transform="rotate(90 263.98 471.9)" textLength="2.88" lengthAdjust="spacingAndGlyphs" stroke="#262626" stroke-width="0.22">SS</text>
<text x="267.43" y="466.5" font-size="4.5" fill="#262626" transform="rotate(90 267.43 466.5)" textLength="3.96" lengthAdjust="spacingAndGlyphs" stroke="#262626" stroke-width="0.22">27</text>
<text x="267.43" y="471.9" font-size="4.5" fill="#262626" transform="rotate(90 267.43 471.9)" textLength="2.88" lengthAdjust="spacingAndGlyphs" stroke="#262626" stroke-width="0.22">22</text>
<text x="270.89" y="466.5" font-size="4.5" fill="#262626" transform="rotate(90 270.89 466.5)" textLength="3.96" lengthAdjust="spacingAndGlyphs" stroke="#262626" stroke-width="0.22">32</text>
<text x="270.89" y="471.9" font-size="4.5" fill="#262626" transform="rotate(90 270.89 471.9)" textLength="2.88" lengthAdjust="spacingAndGlyphs" stroke="#262626" stroke-width="0.22">22</text>
<text x="274.34" y="466.5" font-size="4.5" fill="#262626" transform="rotate(90 274.34 466.5)" textLength="3.96" lengthAdjust="spacingAndGlyphs" stroke="#262626" stroke-width="0.22">37</text>
<text x="274.34" y="471.9" font-size="4.5" fill="#262626" transform="rotate(90 274.34 471.9)" textLength="2.88" lengthAdjust="spacingAndGlyphs" stroke="#262626" stroke-width="0.22">ZZ</text>
<text x="274.34" y="476.1" font-size="4.5" fill="#262626" transform="rotate(90 274.34 476.1)" textLength="2.16" lengthAdjust="spacingAndGlyphs" stroke="#262626" stroke-width="0.22">SS</text>
<text x="277.79" y="466.5" font-size="4.5" fill="#262626" transform="rotate(90 277.79 466.5)" textLength="3.96" lengthAdjust="spacingAndGlyphs" stroke="#262626" stroke-width="0.22">22</text>
<text x="277.79" y="471.9" font-size="4.5" fill="#262626" transform="rotate(90 277.79 471.9)" textLength="2.88" lengthAdjust="spacingAndGlyphs" stroke="#262626" stroke-width="0.22">ZZ</text>
<text x="277.79" y="476.1" font-size="4.5" fill="#262626" transform="rotate(90 277.79 476.1)" textLength="2.16" lengthAdjust="spacingAndGlyphs" stroke="#262626" stroke-width="0.22">SS</text>
<text x="281.25" y="466.5" font-size="4.5" fill="#262626" transform="rotate(90 281.25 466.5)" textLength="3.96" lengthAdjust="spacingAndGlyphs" stroke="#262626" stroke-width="0.22">27</text>
<text x="281.25" y="471.9" font-size="4.5" fill="#262626" transform="rotate(90 281.25 471.9)" textLength="2.88" lengthAdjust="spacingAndGlyphs" stroke="#262626" stroke-width="0.22">S2</text>
<text x="281.25" y="476.1" font-size="4.5" fill="#262626" transform="rotate(90 281.25 476.1)" textLength="2.16" lengthAdjust="spacingAndGlyphs" stroke="#262626" stroke-width="0.22">SS</text>
<text x="284.7" y="466.5" font-size="4.5" fill="#262626" transform="rotate(90 284.7 466.5)" textLength="3.96" lengthAdjust="spacingAndGlyphs" stroke="#262626" stroke-width="0.22">32</text>
<text x="284.7" y="471.9" font-size="4.5" fill="#262626" transform="rotate(90 284.7 471.9)" textLength="2.88" lengthAdjust="spacingAndGlyphs" stroke="#262626" stroke-width="0.22">22</text>
<text x="288.15" y="466.5" font-size="4.5" fill="#262626" transform="rotate(90 288.15 466.5)" textLength="3.96" lengthAdjust="spacingAndGlyphs" stroke="#262626" stroke-width="0.22">22</text>
<text x="288.15" y="471.9" font-size="4.5" fill="#262626" transform="rotate(90 288.15 471.9)" textLength="2.88" lengthAdjust="spacingAndGlyphs" stroke="#262626" stroke-width="0.22">SS</text>
<text x="291.61" y="466.5" font-size="4.5" fill="#262626" transform="rotate(90 291.61 466.5)" textLength="3.96" lengthAdjust="spacingAndGlyphs" stroke="#262626" stroke-width="0.22">27</text>
<text x="291.61" y="471.9" font-size="4.5" fill="#262626" transform="rotate(90 291.61 471.9)" textLength="2.88" lengthAdjust="spacingAndGlyphs" stroke="#262626" stroke-width="0.22">SS</text>
<text x="295.06" y="466.5" font-size="4.5" fill="#262626" transform="rotate(90 295.06 466.5)" textLength="3.96" lengthAdjust="spacingAndGlyphs" stroke="#262626" stroke-width="0.22">27</text>
<text x="295.06" y="471.9" font-size="4.5" fill="#262626" transform="rotate(90 295.06 471.9)" textLength="2.88" lengthAdjust="spacingAndGlyphs" stroke="#262626" stroke-width="0.22">22</text>
<text x="295.06" y="476.1" font-size="4.5" fill="#262626" transform="rotate(90 295.06 476.1)" textLength="2.16" lengthAdjust="spacingAndGlyphs" stroke="#262626" stroke-width="0.22">SS</text>
<text x="298.51" y="466.5" font-size="4.5" fill="#262626" transform="rotate(90 298.51 466.5)" textLength="3.96" lengthAdjust="spacingAndGlyphs" stroke="#262626" stroke-width="0.22">32</text>
<text x="298.51" y="471.9" font-size="4.5" fill="#262626" transform="rotate(90 298.51 471.9)" textLength="2.88" lengthAdjust="spacingAndGlyphs" stroke="#262626" stroke-width="0.22">22</text>
<text x="298.51" y="476.1" font-size="4.5" fill="#262626" transform="rotate(90 298.51 476.1)" textLength="2.16" lengthAdjust="spacingAndGlyphs" stroke="#262626" stroke-width="0.22">SS</text>
<text x="301.97" y="466.5" font-size="4.5" fill="#262626" transform="rotate(90 301.97 466.5)" textLength="3.96" lengthAdjust="spacingAndGlyphs" stroke="#262626" stroke-width="0.22">37</text>
<text x="301.97" y="471.9" font-size="4.5" fill="#262626" transform="rotate(90 301.97 471.9)" textLength="2.88" lengthAdjust="spacingAndGlyphs" stroke="#262626" stroke-width="0.22">ZZ</text>
<text x="301.97" y="476.1" font-size="4.5" fill="#262626" transform="rotate(90 301.97 476.1)" textLength="2.16" lengthAdjust="spacingAndGlyphs" stroke="#262626" stroke-width="0.22">SS</text>
<text x="305.42" y="466.5" font-size="4.5" fill="#262626" transform="rotate(90 305.42 466.5)" textLength="3.96" lengthAdjust="spacingAndGlyphs" stroke="#262626" stroke-width="0.22">22</text>
<text x="305.42" y="471.9" font-size="4.5" fill="#262626" transform="rotate(90 305.42 471.9)" textLength="2.88" lengthAdjust="spacingAndGlyphs" stroke="#262626" stroke-width="0.22">ZZ</text>
<text x="308.87" y="466.5" font-size="4.5" fill="#262626" transform="rotate(90 308.87 466.5)" textLength="3.96" lengthAdjust="spacingAndGlyphs" stroke="#262626" stroke-width="0.22">27</text>
<text x="308.87" y="471.9" font-size="4.5" fill="#262626" transform="rotate(90 308.87 471.9)" textLength="2.88" lengthAdjust="spacingAndGlyphs" stroke="#262626" stroke-width="0.22">S2</text>
<text x="312.33" y="466.5" font-size="4.5" fill="#262626" transform="rotate(90 312.33 466.5)" textLength="3.96" lengthAdjust="spacingAndGlyphs" stroke="#262626" stroke-width="0.22">32</text>
<text x="312.33" y="471.9" font-size="4.5" fill="#262626" transform="rotate(90 312.33 471.9)" textLength="2.88" lengthAdjust="spacingAndGlyphs" stroke="#262626" stroke-width="0.22">22</text>
<text x="315.78" y="466.5" font-size="4.5" fill="#262626" transform="rotate(90 315.78 466.5)" textLength="3.96" lengthAdjust="spacingAndGlyphs" stroke="#262626" stroke-width="0.22">22</text>
<text x="315.78" y="471.9" font-size="4.5" fill="#262626" transform="rotate(90 315.78 471.9)" textLength="2.88" lengthAdjust="spacingAndGlyphs" stroke="#262626" stroke-width="0.22">SS</text>
<text x="315.78" y="476.1" font-size="4.5" fill="#262626" transform="rotate(90 315.78 476.1)" textLength="2.16" lengthAdjust="spacingAndGlyphs" stroke="#262626" stroke-width="0.22">SS</text>
<text x="319.23" y="466.5" font-size="4.5" fill="#262626" transform="rotate(90 319.23 466.5)" textLength="3.96" lengthAdjust="spacingAndGlyphs" stroke="#262626" stroke-width="0.22">27</text>
<text x="319.23" y="471.9" font-size="4.5" fill="#262626" transform="rotate(90 319.23 471.9)" textLength="2.88" lengthAdjust="spacingAndGlyphs" stroke="#262626" stroke-width="0.22">SS</text>
<text x="319.23" y="476.1" font-size="4.5" fill="#262626" transform="rotate(90 319.23 476.1)" textLength="2.16" lengthAdjust="spacingAndGlyphs" stroke="#262626" stroke-width="0.22">SS</text>
<text x="322.69" y="466.5" font-size="4.5" fill="#262626" transform="rotate(90 322.69 466.5)" textLength="3.96" lengthAdjust="spacingAndGlyphs" stroke="#262626" stroke-width="0.22">27</text>
<text x="322.69" y="471.9" font-size="4.5" fill="#262626" transform="rotate(90 322.69 471.9)" textLength="2.88" lengthAdjust="spacingAndGlyphs" stroke="#262626" stroke-width="0.22">22</text>
<text x="322.69" y="476.1" font-size="4.5" fill="#262626" transform="rotate(90 322.69 476.1)" textLength="2.16" lengthAdjust="spacingAndGlyphs" stroke="#262626" stroke-width="0.22">SS</text>
<text x="326.14" y="466.5" font-size="4.5" fill="#262626" transform="rotate(90 326.14 466.5)" textLength="3.96" lengthAdjust="spacingAndGlyphs" stroke="#262626" stroke-width="0.22">32</text>
<text x="326.14" y="471.9" font-size="4.5" fill="#262626" transform="rotate(90 326.14 471.9)" textLength="2.88" lengthAdjust="spacingAndGlyphs" stroke="#262626" stroke-width="0.22">22</text>
<text x="329.6" y="466.5" font-size="4.5" fill="#262626" transform="rotate(90 329.6 466.5)" textLength="3.96" lengthAdjust="spacingAndGlyphs" stroke="#262626" stroke-width="0.22">37</text>
<text x="329.6" y="471.9" font-size="4.5" fill="#262626" transform="rotate(90 329.6 471.9)" textLength="2.88" lengthAdjust="spacingAndGlyphs" stroke="#262626" stroke-width="0.22">ZZ</text>
<text x="333.05" y="466.5" font-size="4.5" fill="#262626" transform="rotate(90 333.05 466.5)" textLength="3.96" lengthAdjust="spacingAndGlyphs" stroke="#262626" stroke-width="0.22">22</text>
<text x="333.05" y="471.9" font-size="4.5" fill="#262626" transform="rotate(90 333.05 471.9)" textLength="2.88" lengthAdjust="spacingAndGlyphs" stroke="#262626" stroke-width="0.22">ZZ</text>
<text x="336.5" y="466.5" font-size="4.5" fill="#262626" transform="rotate(90 336.5 466.5)" textLength="3.96" lengthAdjust="spacingAndGlyphs" stroke="#262626" stroke-width="0.22">27</text>
<text x="336.5" y="471.9" font-size="4.5" fill="#262626" transform="rotate(90 336.5 471.9)" textLength="2.88" lengthAdjust="spacingAndGlyphs" stroke="#262626" stroke-width="0.22">S2</text>
<text x="336.5" y="476.1" font-size="4.5" fill="#262626" transform="rotate(90 336.5 476.1)" textLength="2.16" lengthAdjust="spacingAndGlyphs" stroke="#262626" stroke-width="0.22">SS</text>
<text x="339.96" y="466.5" font-size="4.5" fill="#262626" transform="rotate(90 339.96 466.5)" textLength="3.96" lengthAdjust="spacingAndGlyphs" stroke="#262626" stroke-width="0.22">32</text>
<text x="339.96" y="471.9" font-size="4.5" fill="#262626" transform="rotate(90 339.96 471.9)" textLength="2.88" lengthAdjust="spacingAndGlyphs" stroke="#262626" stroke-width="0.22">22</text>
<text x="339.96" y="476.1" font-size="4.5" fill="#262626" transform="rotate(90 339.96 476.1)" textLength="2.16" lengthAdjust="spacingAndGlyphs" stroke="#262626" stroke-width="0.22">SS</text>
<text x="343.41" y="466.5" font-size="4.5" fill="#262626" transform="rotate(90 343.41 466.5)" textLength="3.96" lengthAdjust="spacingAndGlyphs" stroke="#262626" stroke-width="0.22">22</text>
<text x="343.41" y="471.9" font-size="4.5" fill="#262626" transform="rotate(90 343.41 471.9)" textLength="2.88" lengthAdjust="spacingAndGlyphs" stroke="#262626" stroke-width="0.22">SS</text>
<text x="343.41" y="476.1" font-size="4.5" fill="#262626" transform="rotate(90 343.41 476.1)" textLength="2.16" lengthAdjust="spacingAndGlyphs" stroke="#262626" stroke-width="0.22">SS</text>
<text x="346.86" y="466.5" font-size="4.5" fill="#262626" transform="rotate(90 346.86 466.5)" textLength="3.96" lengthAdjust="spacingAndGlyphs" stroke="#262626" stroke-width="0.22">27</text>
<text x="346.86" y="471.9" font-size="4.5" fill="#262626" transform="rotate(90 346.86 471.9)" textLength="2.88" lengthAdjust="spacingAndGlyphs" stroke="#262626" stroke-width="0.22">SS</text>
<text x="350.32" y="466.5" font-size="4.5" fill="#262626" transform="rotate(90 350.32 466.5)" textLength="3.96" lengthAdjust="spacingAndGlyphs" stroke="#262626" stroke-width="0.22">27</text>
<text x="350.32" y="471.9" font-size="4.5" fill="#262626" transform="rotate(90 350.32 471.9)" textLength="2.88" lengthAdjust="spacingAndGlyphs" stroke="#262626" stroke-width="0.22">22</text>
<text x="353.77" y="466.5" font-size="4.5" fill="#262626" transform="rotate(90 353.77 466.5)" textLength="3.96" lengthAdjust="spacingAndGlyphs" stroke="#262626" stroke-width="0.22">32</text>
<text x="353.77" y="471.9" font-size="4.5" fill="#262626" transform="rotate(90 353.77 471.9)" textLength="2.88" lengthAdjust="spacingAndGlyphs" stroke="#262626" stroke-width="0.22">22</text>
<text x="357.22" y="466.5" font-size="4.5" fill="#262626" transform="rotate(90 357.22 466.5)" textLength="3.96" lengthAdjust="spacingAndGlyphs" stroke="#262626" stroke-width="0.22">37</text>
<text x="357.22" y="471.9" font-size="4.5" fill="#262626" transform="rotate(90 357.22 471.9)" textLength="2.88" lengthAdjust="spacingAndGlyphs" stroke="#262626" stroke-width="0.22">ZZ</text>
<text x="357.22" y="476.1" font-size="4.5" fill="#262626" transform="rotate(90 357.22 476.1)" textLength="2.16" lengthAdjust="spacingAndGlyphs" stroke="#262626" stroke-width="0.22">SS</text>
<text x="369.3" y="338" font-size="9.2" textLength="6.8" lengthAdjust="spacingAndGlyphs" stroke="#111" stroke-width="0.28">G</text>
<rect x="384.7" y="340.5" width="151.5" height="124.9" fill="none" stroke="#6a6a6a" stroke-width="0.9"/>
<path fill="none" stroke="#333" stroke-width="0.7" d="M384.7 465.4H382.6M384.7 446.3H382.6M384.7 427.2H382.6M384.7 408.1H382.6M384.7 389H382.6M384.7 369.9H382.6M384.7 350.8H382.6M384.7 455.85H383.6M384.7 436.75H383.6M384.7 417.65H383.6M384.7 398.55H383.6M384.7 379.45H383.6M384.7 360.35H383.6M384.7 341.25H383.6"/>
<text x="381.8" y="466.8" font-size="4.0" text-anchor="end" fill="#2a2a2a" textLength="5.25" lengthAdjust="spacingAndGlyphs" stroke="#2a2a2a" stroke-width="0.28">0.0</text>
<text x="381.8" y="447.7" font-size="4.0" text-anchor="end" fill="#2a2a2a" textLength="5.25" lengthAdjust="spacingAndGlyphs" stroke="#2a2a2a" stroke-width="0.28">0.5</text>
<text x="381.8" y="428.6" font-size="4.0" text-anchor="end" fill="#2a2a2a" textLength="5.25" lengthAdjust="spacingAndGlyphs" stroke="#2a2a2a" stroke-width="0.28">1.0</text>
<text x="381.8" y="409.5" font-size="4.0" text-anchor="end" fill="#2a2a2a" textLength="5.25" lengthAdjust="spacingAndGlyphs" stroke="#2a2a2a" stroke-width="0.28">1.5</text>
<text x="381.8" y="390.4" font-size="4.0" text-anchor="end" fill="#2a2a2a" textLength="5.25" lengthAdjust="spacingAndGlyphs" stroke="#2a2a2a" stroke-width="0.28">2.0</text>
<text x="381.8" y="371.3" font-size="4.0" text-anchor="end" fill="#2a2a2a" textLength="5.25" lengthAdjust="spacingAndGlyphs" stroke="#2a2a2a" stroke-width="0.28">2.5</text>
<text x="381.8" y="352.2" font-size="4.0" text-anchor="end" fill="#2a2a2a" textLength="5.25" lengthAdjust="spacingAndGlyphs" stroke="#2a2a2a" stroke-width="0.28">3.0</text>
<text x="374.3" y="396.5" font-size="6.5" text-anchor="middle" transform="rotate(-90 374.3 396.5)" textLength="40" lengthAdjust="spacingAndGlyphs" stroke="#111" stroke-width="0.28">Ethanol (g/kg)</text>
<path fill="#3b4cc0" stroke="#141836" stroke-width="1.4" d="M385.1 461.96h3.5v3.44h-3.5zM388.6 439.42h3.5v25.98h-3.5zM392.11 435.99h3.5v29.41h-3.5zM395.61 435.6h3.5v29.8h-3.5zM399.12 432.55h3.5v32.85h-3.5zM402.62 452.41h3.5v12.99h-3.5zM406.13 439.42h3.5v25.98h-3.5zM409.63 409.25h3.5v56.15h-3.5zM413.14 405.81h3.5v59.59h-3.5zM416.64 405.04h3.5v60.36h-3.5zM420.15 434.46h3.5v30.94h-3.5zM423.65 405.04h3.5v60.36h-3.5zM427.16 448.59h3.5v16.81h-3.5zM430.66 407.72h3.5v57.68h-3.5zM434.17 398.17h3.5v67.23h-3.5zM437.67 391.29h3.5v74.11h-3.5zM441.17 389.38h3.5v76.02h-3.5zM444.68 392.06h3.5v73.34h-3.5zM448.18 429.87h3.5v35.53h-3.5zM451.69 394.35h3.5v71.05h-3.5zM455.19 386.33h3.5v79.07h-3.5zM458.7 379.83h3.5v85.57h-3.5zM462.2 384.03h3.5v81.37h-3.5zM465.71 438.28h3.5v27.12h-3.5zM469.21 397.4h3.5v68h-3.5zM472.72 388.62h3.5v76.78h-3.5zM476.22 379.83h3.5v85.57h-3.5zM479.73 379.83h3.5v85.57h-3.5zM483.23 440.95h3.5v24.45h-3.5zM486.73 400.46h3.5v64.94h-3.5zM490.24 389.38h3.5v76.02h-3.5zM493.74 385.18h3.5v80.22h-3.5zM497.25 391.29h3.5v74.11h-3.5zM500.75 451.27h3.5v14.13h-3.5zM504.26 423.38h3.5v42.02h-3.5zM507.76 415.74h3.5v49.66h-3.5zM511.27 415.74h3.5v49.66h-3.5zM514.77 421.09h3.5v44.31h-3.5zM518.28 457.38h3.5v8.02h-3.5zM521.78 438.28h3.5v27.12h-3.5zM525.29 432.17h3.5v33.23h-3.5zM528.79 428.73h3.5v36.67h-3.5zM532.3 428.73h3.5v36.67h-3.5z"/>
<path fill="#1e2766" d="M385.45 461.96h2.8v2.29h-2.8zM388.95 439.42h2.8v2.67h-2.8zM392.46 435.99h2.8v3.06h-2.8zM395.96 435.6h2.8v3.06h-2.8zM399.47 432.55h2.8v1.53h-2.8zM402.97 452.41h2.8v12.61h-2.8zM406.48 439.42h2.8v16.81h-2.8zM409.98 409.25h2.8v12.61h-2.8zM413.49 405.81h2.8v12.61h-2.8zM416.99 405.04h2.8v10.31h-2.8zM420.5 434.46h2.8v.76h-2.8zM424 405.04h2.8v7.64h-2.8zM427.51 448.59h2.8v9.93h-2.8zM431.01 407.72h2.8v11.84h-2.8zM434.52 398.17h2.8v6.49h-2.8zM438.02 391.29h2.8v5.35h-2.8zM441.52 389.38h2.8v5.35h-2.8zM445.03 392.06h2.8v4.2h-2.8zM448.53 429.87h2.8v9.55h-2.8zM452.04 394.35h2.8v6.11h-2.8zM455.54 386.33h2.8v4.58h-2.8zM459.05 379.83h2.8v1.53h-2.8zM462.55 384.03h2.8v9.17h-2.8zM466.06 438.28h2.8v10.7h-2.8zM469.56 397.4h2.8v19.1h-2.8zM473.07 388.62h2.8v25.21h-2.8zM476.57 379.83h2.8v22.16h-2.8zM480.08 379.83h2.8v20.25h-2.8zM483.58 440.95h2.8v7.64h-2.8zM487.08 400.46h2.8v.76h-2.8zM490.59 389.38h2.8v1.53h-2.8zM494.09 385.18h2.8v1.53h-2.8zM497.6 391.29h2.8v11.84h-2.8zM501.1 451.27h2.8v4.2h-2.8zM504.61 423.38h2.8v3.82h-2.8zM508.11 415.74h2.8v3.82h-2.8zM511.62 415.74h2.8v3.06h-2.8zM515.12 421.09h2.8v6.11h-2.8zM518.63 457.38h2.8v.76h-2.8zM522.13 438.28h2.8v1.53h-2.8zM525.64 432.17h2.8v3.06h-2.8zM529.14 428.73h2.8v3.44h-2.8zM532.65 428.73h2.8v10.31h-2.8z"/>
<path fill="none" stroke="#5a5a5a" stroke-width="0.7" d="M386.85 461.96V459.67M390.36 439.42V436.75M393.86 435.99V432.93M397.37 435.6V432.55M400.87 432.55V431.02M404.38 452.41V439.81M407.88 439.42V422.62M411.38 409.25V396.64M414.89 405.81V393.2M418.39 405.04V394.73M421.9 434.46V433.69M425.4 405.04V397.4M428.91 448.59V438.66M432.41 407.72V395.88M435.92 398.17V391.67M439.42 391.29V385.94M442.93 389.38V384.03M446.43 392.06V387.85M449.94 429.87V420.32M453.44 394.35V388.24M456.95 386.33V381.74M460.45 379.83V378.3M463.95 384.03V374.87M467.46 438.28V427.58M470.96 397.4V378.3M474.47 388.62V363.41M477.97 379.83V357.68M481.48 379.83V359.59M484.98 440.95V433.31M488.49 400.46V399.7M491.99 389.38V387.85M495.5 385.18V383.65M499 391.29V379.45M502.51 451.27V447.06M506.01 423.38V419.56M509.52 415.74V411.92M513.02 415.74V412.68M516.52 421.09V414.98M520.03 457.38V456.61M523.53 438.28V436.75M527.04 432.17V429.11M530.54 428.73V425.29M534.05 428.73V418.41"/>
<path fill="none" stroke="#222" stroke-width="0.7" d="M385.75 459.67H387.95M389.26 436.75H391.46M392.76 432.93H394.96M396.27 432.55H398.47M399.77 431.02H401.97M403.28 439.81H405.48M406.78 422.62H408.98M410.28 396.64H412.48M413.79 393.2H415.99M417.29 394.73H419.49M420.8 433.69H423M424.3 397.4H426.5M427.81 438.66H430.01M431.31 395.88H433.51M434.82 391.67H437.02M438.32 385.94H440.52M441.83 384.03H444.03M445.33 387.85H447.53M448.84 420.32H451.04M452.34 388.24H454.54M455.85 381.74H458.05M459.35 378.3H461.55M462.85 374.87H465.05M466.36 427.58H468.56M469.86 378.3H472.06M473.37 363.41H475.57M476.87 357.68H479.07M480.38 359.59H482.58M483.88 433.31H486.08M487.39 399.7H489.59M490.89 387.85H493.09M494.4 383.65H496.6M497.9 379.45H500.1M501.41 447.06H503.61M504.91 419.56H507.11M508.42 411.92H510.62M511.92 412.68H514.12M515.42 414.98H517.62M518.93 456.61H521.13M522.43 436.75H524.63M525.94 429.11H528.14M529.44 425.29H531.64M532.95 418.41H535.15"/>
<path fill="none" stroke="#1a1a1a" stroke-width="0.8" d="M385.1 461.96H388.6M388.6 439.42H392.11M392.11 435.99H395.61M395.61 435.6H399.12M399.12 432.55H402.62M402.62 452.41H406.13M406.13 439.42H409.63M409.63 409.25H413.14M413.14 405.81H416.64M416.64 405.04H420.15M420.15 434.46H423.65M423.65 405.04H427.16M427.16 448.59H430.66M430.66 407.72H434.17M434.17 398.17H437.67M437.67 391.29H441.17M441.17 389.38H444.68M444.68 392.06H448.18M448.18 429.87H451.69M451.69 394.35H455.19M455.19 386.33H458.7M458.7 379.83H462.2M462.2 384.03H465.71M465.71 438.28H469.21M469.21 397.4H472.72M472.72 388.62H476.22M476.22 379.83H479.73M479.73 379.83H483.23M483.23 440.95H486.73M486.73 400.46H490.24M490.24 389.38H493.74M493.74 385.18H497.25M497.25 391.29H500.75M500.75 451.27H504.26M504.26 423.38H507.76M507.76 415.74H511.27M511.27 415.74H514.77M514.77 421.09H518.28M518.28 457.38H521.78M521.78 438.28H525.29M525.29 432.17H528.79M528.79 428.73H532.3M532.3 428.73H535.8"/>
<rect x="391.4" y="343.8" width="53" height="7.9" fill="#fff" stroke="#555" stroke-width=".8"/>
<rect x="392" y="344.6" width="12.7" height="6.9" fill="#3646a6" stroke="#222" stroke-width=".6"/>
<text x="406" y="350" font-size="6.0" textLength="35" lengthAdjust="spacingAndGlyphs" stroke="#111" stroke-width="0.28">Ethanol (g/kg)</text>
<path fill="none" stroke="#555" stroke-width="0.5" d="M386.85 466V467.4M390.36 466V467.4M393.86 466V467.4M397.37 466V467.4M400.87 466V467.4M404.38 466V467.4M407.88 466V467.4M411.38 466V467.4M414.89 466V467.4M418.39 466V467.4M421.9 466V467.4M425.4 466V467.4M428.91 466V467.4M432.41 466V467.4M435.92 466V467.4M439.42 466V467.4M442.93 466V467.4M446.43 466V467.4M449.94 466V467.4M453.44 466V467.4M456.95 466V467.4M460.45 466V467.4M463.95 466V467.4M467.46 466V467.4M470.96 466V467.4M474.47 466V467.4M477.97 466V467.4M481.48 466V467.4M484.98 466V467.4M488.49 466V467.4M491.99 466V467.4M495.5 466V467.4M499 466V467.4M502.51 466V467.4M506.01 466V467.4M509.52 466V467.4M513.02 466V467.4M516.52 466V467.4M520.03 466V467.4M523.53 466V467.4M527.04 466V467.4M530.54 466V467.4M534.05 466V467.4"/>
<text x="385.5" y="469.7" font-size="4.5" fill="#262626" transform="rotate(90 385.5 469.7)" textLength="3.96" lengthAdjust="spacingAndGlyphs" stroke="#262626" stroke-width="0.22">27</text>
<text x="385.5" y="475.1" font-size="4.5" fill="#262626" transform="rotate(90 385.5 475.1)" textLength="2.88" lengthAdjust="spacingAndGlyphs" stroke="#262626" stroke-width="0.22">22</text>
<text x="385.5" y="479.3" font-size="4.5" fill="#262626" transform="rotate(90 385.5 479.3)" textLength="2.16" lengthAdjust="spacingAndGlyphs" stroke="#262626" stroke-width="0.22">SS</text>
<text x="389.01" y="469.7" font-size="4.5" fill="#262626" transform="rotate(90 389.01 469.7)" textLength="3.96" lengthAdjust="spacingAndGlyphs" stroke="#262626" stroke-width="0.22">32</text>
<text x="389.01" y="475.1" font-size="4.5" fill="#262626" transform="rotate(90 389.01 475.1)" textLength="2.88" lengthAdjust="spacingAndGlyphs" stroke="#262626" stroke-width="0.22">22</text>
<text x="389.01" y="479.3" font-size="4.5" fill="#262626" transform="rotate(90 389.01 479.3)" textLength="2.16" lengthAdjust="spacingAndGlyphs" stroke="#262626" stroke-width="0.22">SS</text>
<text x="392.51" y="469.7" font-size="4.5" fill="#262626" transform="rotate(90 392.51 469.7)" textLength="3.96" lengthAdjust="spacingAndGlyphs" stroke="#262626" stroke-width="0.22">37</text>
<text x="392.51" y="475.1" font-size="4.5" fill="#262626" transform="rotate(90 392.51 475.1)" textLength="2.88" lengthAdjust="spacingAndGlyphs" stroke="#262626" stroke-width="0.22">ZZ</text>
<text x="392.51" y="479.3" font-size="4.5" fill="#262626" transform="rotate(90 392.51 479.3)" textLength="2.16" lengthAdjust="spacingAndGlyphs" stroke="#262626" stroke-width="0.22">SS</text>
<text x="396.02" y="469.7" font-size="4.5" fill="#262626" transform="rotate(90 396.02 469.7)" textLength="3.96" lengthAdjust="spacingAndGlyphs" stroke="#262626" stroke-width="0.22">22</text>
<text x="396.02" y="475.1" font-size="4.5" fill="#262626" transform="rotate(90 396.02 475.1)" textLength="2.88" lengthAdjust="spacingAndGlyphs" stroke="#262626" stroke-width="0.22">ZZ</text>
<text x="399.52" y="469.7" font-size="4.5" fill="#262626" transform="rotate(90 399.52 469.7)" textLength="3.96" lengthAdjust="spacingAndGlyphs" stroke="#262626" stroke-width="0.22">27</text>
<text x="399.52" y="475.1" font-size="4.5" fill="#262626" transform="rotate(90 399.52 475.1)" textLength="2.88" lengthAdjust="spacingAndGlyphs" stroke="#262626" stroke-width="0.22">S2</text>
<text x="403.03" y="469.7" font-size="4.5" fill="#262626" transform="rotate(90 403.03 469.7)" textLength="3.96" lengthAdjust="spacingAndGlyphs" stroke="#262626" stroke-width="0.22">32</text>
<text x="403.03" y="475.1" font-size="4.5" fill="#262626" transform="rotate(90 403.03 475.1)" textLength="2.88" lengthAdjust="spacingAndGlyphs" stroke="#262626" stroke-width="0.22">22</text>
<text x="406.53" y="469.7" font-size="4.5" fill="#262626" transform="rotate(90 406.53 469.7)" textLength="3.96" lengthAdjust="spacingAndGlyphs" stroke="#262626" stroke-width="0.22">22</text>
<text x="406.53" y="475.1" font-size="4.5" fill="#262626" transform="rotate(90 406.53 475.1)" textLength="2.88" lengthAdjust="spacingAndGlyphs" stroke="#262626" stroke-width="0.22">SS</text>
<text x="406.53" y="479.3" font-size="4.5" fill="#262626" transform="rotate(90 406.53 479.3)" textLength="2.16" lengthAdjust="spacingAndGlyphs" stroke="#262626" stroke-width="0.22">SS</text>
<text x="410.03" y="469.7" font-size="4.5" fill="#262626" transform="rotate(90 410.03 469.7)" textLength="3.96" lengthAdjust="spacingAndGlyphs" stroke="#262626" stroke-width="0.22">27</text>
<text x="410.03" y="475.1" font-size="4.5" fill="#262626" transform="rotate(90 410.03 475.1)" textLength="2.88" lengthAdjust="spacingAndGlyphs" stroke="#262626" stroke-width="0.22">SS</text>
<text x="410.03" y="479.3" font-size="4.5" fill="#262626" transform="rotate(90 410.03 479.3)" textLength="2.16" lengthAdjust="spacingAndGlyphs" stroke="#262626" stroke-width="0.22">SS</text>
<text x="413.54" y="469.7" font-size="4.5" fill="#262626" transform="rotate(90 413.54 469.7)" textLength="3.96" lengthAdjust="spacingAndGlyphs" stroke="#262626" stroke-width="0.22">27</text>
<text x="413.54" y="475.1" font-size="4.5" fill="#262626" transform="rotate(90 413.54 475.1)" textLength="2.88" lengthAdjust="spacingAndGlyphs" stroke="#262626" stroke-width="0.22">22</text>
<text x="413.54" y="479.3" font-size="4.5" fill="#262626" transform="rotate(90 413.54 479.3)" textLength="2.16" lengthAdjust="spacingAndGlyphs" stroke="#262626" stroke-width="0.22">SS</text>
<text x="417.04" y="469.7" font-size="4.5" fill="#262626" transform="rotate(90 417.04 469.7)" textLength="3.96" lengthAdjust="spacingAndGlyphs" stroke="#262626" stroke-width="0.22">32</text>
<text x="417.04" y="475.1" font-size="4.5" fill="#262626" transform="rotate(90 417.04 475.1)" textLength="2.88" lengthAdjust="spacingAndGlyphs" stroke="#262626" stroke-width="0.22">22</text>
<text x="420.55" y="469.7" font-size="4.5" fill="#262626" transform="rotate(90 420.55 469.7)" textLength="3.96" lengthAdjust="spacingAndGlyphs" stroke="#262626" stroke-width="0.22">37</text>
<text x="420.55" y="475.1" font-size="4.5" fill="#262626" transform="rotate(90 420.55 475.1)" textLength="2.88" lengthAdjust="spacingAndGlyphs" stroke="#262626" stroke-width="0.22">ZZ</text>
<text x="424.05" y="469.7" font-size="4.5" fill="#262626" transform="rotate(90 424.05 469.7)" textLength="3.96" lengthAdjust="spacingAndGlyphs" stroke="#262626" stroke-width="0.22">22</text>
<text x="424.05" y="475.1" font-size="4.5" fill="#262626" transform="rotate(90 424.05 475.1)" textLength="2.88" lengthAdjust="spacingAndGlyphs" stroke="#262626" stroke-width="0.22">ZZ</text>
<text x="427.56" y="469.7" font-size="4.5" fill="#262626" transform="rotate(90 427.56 469.7)" textLength="3.96" lengthAdjust="spacingAndGlyphs" stroke="#262626" stroke-width="0.22">27</text>
<text x="427.56" y="475.1" font-size="4.5" fill="#262626" transform="rotate(90 427.56 475.1)" textLength="2.88" lengthAdjust="spacingAndGlyphs" stroke="#262626" stroke-width="0.22">S2</text>
<text x="427.56" y="479.3" font-size="4.5" fill="#262626" transform="rotate(90 427.56 479.3)" textLength="2.16" lengthAdjust="spacingAndGlyphs" stroke="#262626" stroke-width="0.22">SS</text>
<text x="431.06" y="469.7" font-size="4.5" fill="#262626" transform="rotate(90 431.06 469.7)" textLength="3.96" lengthAdjust="spacingAndGlyphs" stroke="#262626" stroke-width="0.22">32</text>
<text x="431.06" y="475.1" font-size="4.5" fill="#262626" transform="rotate(90 431.06 475.1)" textLength="2.88" lengthAdjust="spacingAndGlyphs" stroke="#262626" stroke-width="0.22">22</text>
<text x="431.06" y="479.3" font-size="4.5" fill="#262626" transform="rotate(90 431.06 479.3)" textLength="2.16" lengthAdjust="spacingAndGlyphs" stroke="#262626" stroke-width="0.22">SS</text>
<text x="434.57" y="469.7" font-size="4.5" fill="#262626" transform="rotate(90 434.57 469.7)" textLength="3.96" lengthAdjust="spacingAndGlyphs" stroke="#262626" stroke-width="0.22">22</text>
<text x="434.57" y="475.1" font-size="4.5" fill="#262626" transform="rotate(90 434.57 475.1)" textLength="2.88" lengthAdjust="spacingAndGlyphs" stroke="#262626" stroke-width="0.22">SS</text>
<text x="434.57" y="479.3" font-size="4.5" fill="#262626" transform="rotate(90 434.57 479.3)" textLength="2.16" lengthAdjust="spacingAndGlyphs" stroke="#262626" stroke-width="0.22">SS</text>
<text x="438.07" y="469.7" font-size="4.5" fill="#262626" transform="rotate(90 438.07 469.7)" textLength="3.96" lengthAdjust="spacingAndGlyphs" stroke="#262626" stroke-width="0.22">27</text>
<text x="438.07" y="475.1" font-size="4.5" fill="#262626" transform="rotate(90 438.07 475.1)" textLength="2.88" lengthAdjust="spacingAndGlyphs" stroke="#262626" stroke-width="0.22">SS</text>
<text x="441.58" y="469.7" font-size="4.5" fill="#262626" transform="rotate(90 441.58 469.7)" textLength="3.96" lengthAdjust="spacingAndGlyphs" stroke="#262626" stroke-width="0.22">27</text>
<text x="441.58" y="475.1" font-size="4.5" fill="#262626" transform="rotate(90 441.58 475.1)" textLength="2.88" lengthAdjust="spacingAndGlyphs" stroke="#262626" stroke-width="0.22">22</text>
<text x="445.08" y="469.7" font-size="4.5" fill="#262626" transform="rotate(90 445.08 469.7)" textLength="3.96" lengthAdjust="spacingAndGlyphs" stroke="#262626" stroke-width="0.22">32</text>
<text x="445.08" y="475.1" font-size="4.5" fill="#262626" transform="rotate(90 445.08 475.1)" textLength="2.88" lengthAdjust="spacingAndGlyphs" stroke="#262626" stroke-width="0.22">22</text>
<text x="448.59" y="469.7" font-size="4.5" fill="#262626" transform="rotate(90 448.59 469.7)" textLength="3.96" lengthAdjust="spacingAndGlyphs" stroke="#262626" stroke-width="0.22">37</text>
<text x="448.59" y="475.1" font-size="4.5" fill="#262626" transform="rotate(90 448.59 475.1)" textLength="2.88" lengthAdjust="spacingAndGlyphs" stroke="#262626" stroke-width="0.22">ZZ</text>
<text x="448.59" y="479.3" font-size="4.5" fill="#262626" transform="rotate(90 448.59 479.3)" textLength="2.16" lengthAdjust="spacingAndGlyphs" stroke="#262626" stroke-width="0.22">SS</text>
<text x="452.09" y="469.7" font-size="4.5" fill="#262626" transform="rotate(90 452.09 469.7)" textLength="3.96" lengthAdjust="spacingAndGlyphs" stroke="#262626" stroke-width="0.22">22</text>
<text x="452.09" y="475.1" font-size="4.5" fill="#262626" transform="rotate(90 452.09 475.1)" textLength="2.88" lengthAdjust="spacingAndGlyphs" stroke="#262626" stroke-width="0.22">ZZ</text>
<text x="452.09" y="479.3" font-size="4.5" fill="#262626" transform="rotate(90 452.09 479.3)" textLength="2.16" lengthAdjust="spacingAndGlyphs" stroke="#262626" stroke-width="0.22">SS</text>
<text x="455.6" y="469.7" font-size="4.5" fill="#262626" transform="rotate(90 455.6 469.7)" textLength="3.96" lengthAdjust="spacingAndGlyphs" stroke="#262626" stroke-width="0.22">27</text>
<text x="455.6" y="475.1" font-size="4.5" fill="#262626" transform="rotate(90 455.6 475.1)" textLength="2.88" lengthAdjust="spacingAndGlyphs" stroke="#262626" stroke-width="0.22">S2</text>
<text x="455.6" y="479.3" font-size="4.5" fill="#262626" transform="rotate(90 455.6 479.3)" textLength="2.16" lengthAdjust="spacingAndGlyphs" stroke="#262626" stroke-width="0.22">SS</text>
<text x="459.1" y="469.7" font-size="4.5" fill="#262626" transform="rotate(90 459.1 469.7)" textLength="3.96" lengthAdjust="spacingAndGlyphs" stroke="#262626" stroke-width="0.22">32</text>
<text x="459.1" y="475.1" font-size="4.5" fill="#262626" transform="rotate(90 459.1 475.1)" textLength="2.88" lengthAdjust="spacingAndGlyphs" stroke="#262626" stroke-width="0.22">22</text>
<text x="462.6" y="469.7" font-size="4.5" fill="#262626" transform="rotate(90 462.6 469.7)" textLength="3.96" lengthAdjust="spacingAndGlyphs" stroke="#262626" stroke-width="0.22">22</text>
<text x="462.6" y="475.1" font-size="4.5" fill="#262626" transform="rotate(90 462.6 475.1)" textLength="2.88" lengthAdjust="spacingAndGlyphs" stroke="#262626" stroke-width="0.22">SS</text>
<text x="466.11" y="469.7" font-size="4.5" fill="#262626" transform="rotate(90 466.11 469.7)" textLength="3.96" lengthAdjust="spacingAndGlyphs" stroke="#262626" stroke-width="0.22">27</text>
<text x="466.11" y="475.1" font-size="4.5" fill="#262626" transform="rotate(90 466.11 475.1)" textLength="2.88" lengthAdjust="spacingAndGlyphs" stroke="#262626" stroke-width="0.22">SS</text>
<text x="469.61" y="469.7" font-size="4.5" fill="#262626" transform="rotate(90 469.61 469.7)" textLength="3.96" lengthAdjust="spacingAndGlyphs" stroke="#262626" stroke-width="0.22">27</text>
<text x="469.61" y="475.1" font-size="4.5" fill="#262626" transform="rotate(90 469.61 475.1)" textLength="2.88" lengthAdjust="spacingAndGlyphs" stroke="#262626" stroke-width="0.22">22</text>
<text x="469.61" y="479.3" font-size="4.5" fill="#262626" transform="rotate(90 469.61 479.3)" textLength="2.16" lengthAdjust="spacingAndGlyphs" stroke="#262626" stroke-width="0.22">SS</text>
<text x="473.12" y="469.7" font-size="4.5" fill="#262626" transform="rotate(90 473.12 469.7)" textLength="3.96" lengthAdjust="spacingAndGlyphs" stroke="#262626" stroke-width="0.22">32</text>
<text x="473.12" y="475.1" font-size="4.5" fill="#262626" transform="rotate(90 473.12 475.1)" textLength="2.88" lengthAdjust="spacingAndGlyphs" stroke="#262626" stroke-width="0.22">22</text>
<text x="473.12" y="479.3" font-size="4.5" fill="#262626" transform="rotate(90 473.12 479.3)" textLength="2.16" lengthAdjust="spacingAndGlyphs" stroke="#262626" stroke-width="0.22">SS</text>
<text x="476.62" y="469.7" font-size="4.5" fill="#262626" transform="rotate(90 476.62 469.7)" textLength="3.96" lengthAdjust="spacingAndGlyphs" stroke="#262626" stroke-width="0.22">37</text>
<text x="476.62" y="475.1" font-size="4.5" fill="#262626" transform="rotate(90 476.62 475.1)" textLength="2.88" lengthAdjust="spacingAndGlyphs" stroke="#262626" stroke-width="0.22">ZZ</text>
<text x="476.62" y="479.3" font-size="4.5" fill="#262626" transform="rotate(90 476.62 479.3)" textLength="2.16" lengthAdjust="spacingAndGlyphs" stroke="#262626" stroke-width="0.22">SS</text>
<text x="480.13" y="469.7" font-size="4.5" fill="#262626" transform="rotate(90 480.13 469.7)" textLength="3.96" lengthAdjust="spacingAndGlyphs" stroke="#262626" stroke-width="0.22">22</text>
<text x="480.13" y="475.1" font-size="4.5" fill="#262626" transform="rotate(90 480.13 475.1)" textLength="2.88" lengthAdjust="spacingAndGlyphs" stroke="#262626" stroke-width="0.22">ZZ</text>
<text x="483.63" y="469.7" font-size="4.5" fill="#262626" transform="rotate(90 483.63 469.7)" textLength="3.96" lengthAdjust="spacingAndGlyphs" stroke="#262626" stroke-width="0.22">27</text>
<text x="483.63" y="475.1" font-size="4.5" fill="#262626" transform="rotate(90 483.63 475.1)" textLength="2.88" lengthAdjust="spacingAndGlyphs" stroke="#262626" stroke-width="0.22">S2</text>
<text x="487.14" y="469.7" font-size="4.5" fill="#262626" transform="rotate(90 487.14 469.7)" textLength="3.96" lengthAdjust="spacingAndGlyphs" stroke="#262626" stroke-width="0.22">32</text>
<text x="487.14" y="475.1" font-size="4.5" fill="#262626" transform="rotate(90 487.14 475.1)" textLength="2.88" lengthAdjust="spacingAndGlyphs" stroke="#262626" stroke-width="0.22">22</text>
<text x="490.64" y="469.7" font-size="4.5" fill="#262626" transform="rotate(90 490.64 469.7)" textLength="3.96" lengthAdjust="spacingAndGlyphs" stroke="#262626" stroke-width="0.22">22</text>
<text x="490.64" y="475.1" font-size="4.5" fill="#262626" transform="rotate(90 490.64 475.1)" textLength="2.88" lengthAdjust="spacingAndGlyphs" stroke="#262626" stroke-width="0.22">SS</text>
<text x="490.64" y="479.3" font-size="4.5" fill="#262626" transform="rotate(90 490.64 479.3)" textLength="2.16" lengthAdjust="spacingAndGlyphs" stroke="#262626" stroke-width="0.22">SS</text>
<text x="494.15" y="469.7" font-size="4.5" fill="#262626" transform="rotate(90 494.15 469.7)" textLength="3.96" lengthAdjust="spacingAndGlyphs" stroke="#262626" stroke-width="0.22">27</text>
<text x="494.15" y="475.1" font-size="4.5" fill="#262626" transform="rotate(90 494.15 475.1)" textLength="2.88" lengthAdjust="spacingAndGlyphs" stroke="#262626" stroke-width="0.22">SS</text>
<text x="494.15" y="479.3" font-size="4.5" fill="#262626" transform="rotate(90 494.15 479.3)" textLength="2.16" lengthAdjust="spacingAndGlyphs" stroke="#262626" stroke-width="0.22">SS</text>
<text x="497.65" y="469.7" font-size="4.5" fill="#262626" transform="rotate(90 497.65 469.7)" textLength="3.96" lengthAdjust="spacingAndGlyphs" stroke="#262626" stroke-width="0.22">27</text>
<text x="497.65" y="475.1" font-size="4.5" fill="#262626" transform="rotate(90 497.65 475.1)" textLength="2.88" lengthAdjust="spacingAndGlyphs" stroke="#262626" stroke-width="0.22">22</text>
<text x="497.65" y="479.3" font-size="4.5" fill="#262626" transform="rotate(90 497.65 479.3)" textLength="2.16" lengthAdjust="spacingAndGlyphs" stroke="#262626" stroke-width="0.22">SS</text>
<text x="501.16" y="469.7" font-size="4.5" fill="#262626" transform="rotate(90 501.16 469.7)" textLength="3.96" lengthAdjust="spacingAndGlyphs" stroke="#262626" stroke-width="0.22">32</text>
<text x="501.16" y="475.1" font-size="4.5" fill="#262626" transform="rotate(90 501.16 475.1)" textLength="2.88" lengthAdjust="spacingAndGlyphs" stroke="#262626" stroke-width="0.22">22</text>
<text x="504.66" y="469.7" font-size="4.5" fill="#262626" transform="rotate(90 504.66 469.7)" textLength="3.96" lengthAdjust="spacingAndGlyphs" stroke="#262626" stroke-width="0.22">37</text>
<text x="504.66" y="475.1" font-size="4.5" fill="#262626" transform="rotate(90 504.66 475.1)" textLength="2.88" lengthAdjust="spacingAndGlyphs" stroke="#262626" stroke-width="0.22">ZZ</text>
<text x="508.17" y="469.7" font-size="4.5" fill="#262626" transform="rotate(90 508.17 469.7)" textLength="3.96" lengthAdjust="spacingAndGlyphs" stroke="#262626" stroke-width="0.22">22</text>
<text x="508.17" y="475.1" font-size="4.5" fill="#262626" transform="rotate(90 508.17 475.1)" textLength="2.88" lengthAdjust="spacingAndGlyphs" stroke="#262626" stroke-width="0.22">ZZ</text>
<text x="511.67" y="469.7" font-size="4.5" fill="#262626" transform="rotate(90 511.67 469.7)" textLength="3.96" lengthAdjust="spacingAndGlyphs" stroke="#262626" stroke-width="0.22">27</text>
<text x="511.67" y="475.1" font-size="4.5" fill="#262626" transform="rotate(90 511.67 475.1)" textLength="2.88" lengthAdjust="spacingAndGlyphs" stroke="#262626" stroke-width="0.22">S2</text>
<text x="511.67" y="479.3" font-size="4.5" fill="#262626" transform="rotate(90 511.67 479.3)" textLength="2.16" lengthAdjust="spacingAndGlyphs" stroke="#262626" stroke-width="0.22">SS</text>
<text x="515.17" y="469.7" font-size="4.5" fill="#262626" transform="rotate(90 515.17 469.7)" textLength="3.96" lengthAdjust="spacingAndGlyphs" stroke="#262626" stroke-width="0.22">32</text>
<text x="515.17" y="475.1" font-size="4.5" fill="#262626" transform="rotate(90 515.17 475.1)" textLength="2.88" lengthAdjust="spacingAndGlyphs" stroke="#262626" stroke-width="0.22">22</text>
<text x="515.17" y="479.3" font-size="4.5" fill="#262626" transform="rotate(90 515.17 479.3)" textLength="2.16" lengthAdjust="spacingAndGlyphs" stroke="#262626" stroke-width="0.22">SS</text>
<text x="518.68" y="469.7" font-size="4.5" fill="#262626" transform="rotate(90 518.68 469.7)" textLength="3.96" lengthAdjust="spacingAndGlyphs" stroke="#262626" stroke-width="0.22">22</text>
<text x="518.68" y="475.1" font-size="4.5" fill="#262626" transform="rotate(90 518.68 475.1)" textLength="2.88" lengthAdjust="spacingAndGlyphs" stroke="#262626" stroke-width="0.22">SS</text>
<text x="518.68" y="479.3" font-size="4.5" fill="#262626" transform="rotate(90 518.68 479.3)" textLength="2.16" lengthAdjust="spacingAndGlyphs" stroke="#262626" stroke-width="0.22">SS</text>
<text x="522.18" y="469.7" font-size="4.5" fill="#262626" transform="rotate(90 522.18 469.7)" textLength="3.96" lengthAdjust="spacingAndGlyphs" stroke="#262626" stroke-width="0.22">27</text>
<text x="522.18" y="475.1" font-size="4.5" fill="#262626" transform="rotate(90 522.18 475.1)" textLength="2.88" lengthAdjust="spacingAndGlyphs" stroke="#262626" stroke-width="0.22">SS</text>
<text x="525.69" y="469.7" font-size="4.5" fill="#262626" transform="rotate(90 525.69 469.7)" textLength="3.96" lengthAdjust="spacingAndGlyphs" stroke="#262626" stroke-width="0.22">27</text>
<text x="525.69" y="475.1" font-size="4.5" fill="#262626" transform="rotate(90 525.69 475.1)" textLength="2.88" lengthAdjust="spacingAndGlyphs" stroke="#262626" stroke-width="0.22">22</text>
<text x="529.19" y="469.7" font-size="4.5" fill="#262626" transform="rotate(90 529.19 469.7)" textLength="3.96" lengthAdjust="spacingAndGlyphs" stroke="#262626" stroke-width="0.22">32</text>
<text x="529.19" y="475.1" font-size="4.5" fill="#262626" transform="rotate(90 529.19 475.1)" textLength="2.88" lengthAdjust="spacingAndGlyphs" stroke="#262626" stroke-width="0.22">22</text>
<text x="532.7" y="469.7" font-size="4.5" fill="#262626" transform="rotate(90 532.7 469.7)" textLength="3.96" lengthAdjust="spacingAndGlyphs" stroke="#262626" stroke-width="0.22">37</text>
<text x="532.7" y="475.1" font-size="4.5" fill="#262626" transform="rotate(90 532.7 475.1)" textLength="2.88" lengthAdjust="spacingAndGlyphs" stroke="#262626" stroke-width="0.22">ZZ</text>
<text x="532.7" y="479.3" font-size="4.5" fill="#262626" transform="rotate(90 532.7 479.3)" textLength="2.16" lengthAdjust="spacingAndGlyphs" stroke="#262626" stroke-width="0.22">SS</text>
</svg>
</body></html>
